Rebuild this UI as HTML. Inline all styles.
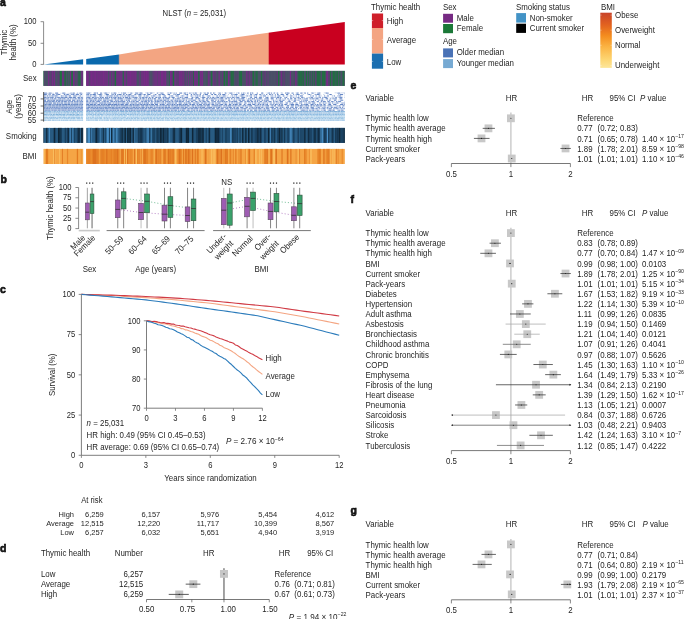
<!DOCTYPE html>
<html><head><meta charset="utf-8"><title>Thymic health figure</title>
<style>
html,body{margin:0;padding:0;background:#fff;}
body{width:685px;height:619px;overflow:hidden;}
svg{display:block;font-family:"Liberation Sans",sans-serif;fill:#1e1e1e;will-change:transform;}
text{fill:#1e1e1e;}
</style></head><body>
<svg width="685" height="619" viewBox="0 0 685 619">
<rect width="685" height="619" fill="#fff"/>
<text x="-0.1" y="5.5" font-size="10.5" font-weight="bold" fill="#000" stroke="#000" stroke-width="0.55" letter-spacing="0">a</text>
<text x="0.5" y="182.6" font-size="10.5" font-weight="bold" fill="#000" stroke="#000" stroke-width="0.55" letter-spacing="0">b</text>
<text x="0.1" y="293.3" font-size="10.5" font-weight="bold" fill="#000" stroke="#000" stroke-width="0.55" letter-spacing="0">c</text>
<text x="0.0" y="551.8" font-size="10.5" font-weight="bold" fill="#000" stroke="#000" stroke-width="0.55" letter-spacing="0">d</text>
<text x="350.5" y="88.8" font-size="10.5" font-weight="bold" fill="#000" stroke="#000" stroke-width="0.55" letter-spacing="0">e</text>
<text x="350.5" y="202.6" font-size="10.5" font-weight="bold" fill="#000" stroke="#000" stroke-width="0.55" letter-spacing="0">f</text>
<text x="350.4" y="514.0" font-size="10.5" font-weight="bold" fill="#000" stroke="#000" stroke-width="0.55" letter-spacing="0">g</text>
<polygon points="43.8,64.6 83.1,59.2 83.1,64.6" fill="#0a69ad"/>
<defs><linearGradient id="thg" gradientUnits="userSpaceOnUse" x1="86.2" y1="0" x2="344.8" y2="0"><stop offset="0" stop-color="#0a69ad"/><stop offset="0.1241" stop-color="#0a69ad"/><stop offset="0.1295" stop-color="#f3a582"/><stop offset="0.7034" stop-color="#f3a582"/><stop offset="0.7088" stop-color="#c9001f"/><stop offset="1" stop-color="#c9001f"/></linearGradient></defs>
<polygon points="86.2,64.6 86.2,58.9 95,57.8 119,54.5 140,50.98 344.8,22.0 344.8,64.6" fill="url(#thg)"/>
<line x1="43.60" y1="21.60" x2="43.60" y2="64.60" stroke="#6e6e6e" stroke-width="0.8" />
<line x1="40.60" y1="21.70" x2="43.60" y2="21.70" stroke="#6e6e6e" stroke-width="0.8" />
<text transform="translate(36.40,24.40) scale(0.93,1)" font-size="8.19" text-anchor="end" >100</text>
<line x1="40.60" y1="43.30" x2="43.60" y2="43.30" stroke="#6e6e6e" stroke-width="0.8" />
<text transform="translate(36.40,46.00) scale(0.93,1)" font-size="8.19" text-anchor="end" >50</text>
<line x1="40.60" y1="64.40" x2="43.60" y2="64.40" stroke="#6e6e6e" stroke-width="0.8" />
<text transform="translate(36.40,67.10) scale(0.93,1)" font-size="8.19" text-anchor="end" >0</text>
<text transform="translate(7.1,42.6) rotate(-90) scale(0.93,1)" font-size="8.51" text-anchor="middle">Thymic</text>
<text transform="translate(15.8,42.4) rotate(-90) scale(0.93,1)" font-size="8.51" text-anchor="middle">health (%)</text>
<text transform="translate(194.30,15.80) scale(0.93,1)" font-size="8.29" text-anchor="middle" >NLST (<tspan font-style="italic">n</tspan> = 25,031)</text>
<text transform="translate(36.60,81.40) scale(0.93,1)" font-size="8.51" text-anchor="end" >Sex</text>
<text transform="translate(12.0,106.8) rotate(-90) scale(0.93,1)" font-size="8.51" text-anchor="middle">Age</text>
<text transform="translate(20.7,106.4) rotate(-90) scale(0.93,1)" font-size="8.51" text-anchor="middle">(years)</text>
<text transform="translate(36.60,138.50) scale(0.93,1)" font-size="8.51" text-anchor="end" >Smoking</text>
<text transform="translate(36.60,159.40) scale(0.93,1)" font-size="8.51" text-anchor="end" >BMI</text>
<rect x="43.50" y="70.90" width="39.60" height="15.00" fill="#4b5068" />
<rect x="43.50" y="70.90" width="0.65" height="15.00" fill="#1f7040" />
<rect x="44.10" y="70.90" width="0.45" height="15.00" fill="#772a86" />
<rect x="44.50" y="70.90" width="1.05" height="15.00" fill="#4b5068" />
<rect x="45.50" y="70.90" width="1.05" height="15.00" fill="#4b5068" />
<rect x="46.50" y="70.90" width="0.45" height="15.00" fill="#4b5068" />
<rect x="46.90" y="70.90" width="1.25" height="15.00" fill="#4b5068" />
<rect x="48.10" y="70.90" width="1.05" height="15.00" fill="#772a86" />
<rect x="49.10" y="70.90" width="0.65" height="15.00" fill="#4b5068" />
<rect x="49.70" y="70.90" width="0.85" height="15.00" fill="#772a86" />
<rect x="50.50" y="70.90" width="0.45" height="15.00" fill="#4b5068" />
<rect x="50.90" y="70.90" width="1.05" height="15.00" fill="#5b3c72" />
<rect x="51.90" y="70.90" width="1.55" height="15.00" fill="#772a86" />
<rect x="53.40" y="70.90" width="0.65" height="15.00" fill="#5b3c72" />
<rect x="54.00" y="70.90" width="1.25" height="15.00" fill="#772a86" />
<rect x="55.20" y="70.90" width="0.65" height="15.00" fill="#4b5068" />
<rect x="55.80" y="70.90" width="0.85" height="15.00" fill="#4b5068" />
<rect x="56.60" y="70.90" width="1.25" height="15.00" fill="#4b5068" />
<rect x="57.80" y="70.90" width="1.55" height="15.00" fill="#5b3c72" />
<rect x="59.30" y="70.90" width="0.45" height="15.00" fill="#5b3c72" />
<rect x="59.70" y="70.90" width="1.55" height="15.00" fill="#1f7040" />
<rect x="61.20" y="70.90" width="1.05" height="15.00" fill="#1f7040" />
<rect x="62.20" y="70.90" width="1.55" height="15.00" fill="#772a86" />
<rect x="63.70" y="70.90" width="0.85" height="15.00" fill="#5b3c72" />
<rect x="64.50" y="70.90" width="1.25" height="15.00" fill="#1f7040" />
<rect x="65.70" y="70.90" width="0.45" height="15.00" fill="#1f7040" />
<rect x="66.10" y="70.90" width="1.55" height="15.00" fill="#4b5068" />
<rect x="67.60" y="70.90" width="0.65" height="15.00" fill="#1f7040" />
<rect x="68.20" y="70.90" width="1.55" height="15.00" fill="#4b5068" />
<rect x="69.70" y="70.90" width="0.45" height="15.00" fill="#1f7040" />
<rect x="70.10" y="70.90" width="1.25" height="15.00" fill="#772a86" />
<rect x="71.30" y="70.90" width="0.65" height="15.00" fill="#1f7040" />
<rect x="71.90" y="70.90" width="1.05" height="15.00" fill="#1f7040" />
<rect x="72.90" y="70.90" width="1.55" height="15.00" fill="#772a86" />
<rect x="74.40" y="70.90" width="0.45" height="15.00" fill="#772a86" />
<rect x="74.80" y="70.90" width="1.25" height="15.00" fill="#4b5068" />
<rect x="76.00" y="70.90" width="0.65" height="15.00" fill="#772a86" />
<rect x="76.60" y="70.90" width="0.65" height="15.00" fill="#4b5068" />
<rect x="77.20" y="70.90" width="1.25" height="15.00" fill="#4b5068" />
<rect x="78.40" y="70.90" width="1.05" height="15.00" fill="#1f7040" />
<rect x="79.40" y="70.90" width="1.25" height="15.00" fill="#1f7040" />
<rect x="80.60" y="70.90" width="0.85" height="15.00" fill="#4b5068" />
<rect x="81.40" y="70.90" width="1.55" height="15.00" fill="#772a86" />
<rect x="82.90" y="70.90" width="0.25" height="15.00" fill="#1f7040" />
<rect x="86.20" y="70.90" width="258.60" height="15.00" fill="#4b5068" />
<rect x="86.20" y="70.90" width="0.65" height="15.00" fill="#772a86" />
<rect x="86.80" y="70.90" width="1.25" height="15.00" fill="#772a86" />
<rect x="88.00" y="70.90" width="0.45" height="15.00" fill="#772a86" />
<rect x="88.40" y="70.90" width="0.85" height="15.00" fill="#772a86" />
<rect x="89.20" y="70.90" width="0.65" height="15.00" fill="#4b5068" />
<rect x="89.80" y="70.90" width="0.85" height="15.00" fill="#772a86" />
<rect x="90.60" y="70.90" width="0.45" height="15.00" fill="#772a86" />
<rect x="91.00" y="70.90" width="1.25" height="15.00" fill="#772a86" />
<rect x="92.20" y="70.90" width="0.85" height="15.00" fill="#772a86" />
<rect x="93.00" y="70.90" width="0.45" height="15.00" fill="#772a86" />
<rect x="93.40" y="70.90" width="1.55" height="15.00" fill="#772a86" />
<rect x="94.90" y="70.90" width="1.25" height="15.00" fill="#772a86" />
<rect x="96.10" y="70.90" width="0.45" height="15.00" fill="#772a86" />
<rect x="96.50" y="70.90" width="0.85" height="15.00" fill="#772a86" />
<rect x="97.30" y="70.90" width="1.55" height="15.00" fill="#772a86" />
<rect x="98.80" y="70.90" width="0.45" height="15.00" fill="#772a86" />
<rect x="99.20" y="70.90" width="0.85" height="15.00" fill="#772a86" />
<rect x="100.00" y="70.90" width="0.45" height="15.00" fill="#772a86" />
<rect x="100.40" y="70.90" width="0.65" height="15.00" fill="#772a86" />
<rect x="101.00" y="70.90" width="0.45" height="15.00" fill="#772a86" />
<rect x="101.40" y="70.90" width="0.85" height="15.00" fill="#772a86" />
<rect x="102.20" y="70.90" width="0.65" height="15.00" fill="#772a86" />
<rect x="102.80" y="70.90" width="1.55" height="15.00" fill="#772a86" />
<rect x="104.30" y="70.90" width="1.05" height="15.00" fill="#772a86" />
<rect x="105.30" y="70.90" width="1.05" height="15.00" fill="#772a86" />
<rect x="106.30" y="70.90" width="0.45" height="15.00" fill="#772a86" />
<rect x="106.70" y="70.90" width="0.85" height="15.00" fill="#772a86" />
<rect x="107.50" y="70.90" width="0.65" height="15.00" fill="#772a86" />
<rect x="108.10" y="70.90" width="0.85" height="15.00" fill="#4b5068" />
<rect x="108.90" y="70.90" width="0.65" height="15.00" fill="#4b5068" />
<rect x="109.50" y="70.90" width="0.45" height="15.00" fill="#772a86" />
<rect x="109.90" y="70.90" width="1.05" height="15.00" fill="#772a86" />
<rect x="110.90" y="70.90" width="1.55" height="15.00" fill="#4b5068" />
<rect x="112.40" y="70.90" width="1.25" height="15.00" fill="#772a86" />
<rect x="113.60" y="70.90" width="1.25" height="15.00" fill="#5b3c72" />
<rect x="114.80" y="70.90" width="1.55" height="15.00" fill="#1f7040" />
<rect x="116.30" y="70.90" width="1.25" height="15.00" fill="#772a86" />
<rect x="117.50" y="70.90" width="1.25" height="15.00" fill="#772a86" />
<rect x="118.70" y="70.90" width="1.05" height="15.00" fill="#772a86" />
<rect x="119.70" y="70.90" width="0.85" height="15.00" fill="#772a86" />
<rect x="120.50" y="70.90" width="1.05" height="15.00" fill="#772a86" />
<rect x="121.50" y="70.90" width="0.85" height="15.00" fill="#772a86" />
<rect x="122.30" y="70.90" width="0.65" height="15.00" fill="#4b5068" />
<rect x="122.90" y="70.90" width="0.45" height="15.00" fill="#772a86" />
<rect x="123.30" y="70.90" width="0.85" height="15.00" fill="#1f7040" />
<rect x="124.10" y="70.90" width="1.05" height="15.00" fill="#772a86" />
<rect x="125.10" y="70.90" width="0.65" height="15.00" fill="#772a86" />
<rect x="125.70" y="70.90" width="0.45" height="15.00" fill="#772a86" />
<rect x="126.10" y="70.90" width="0.65" height="15.00" fill="#4b5068" />
<rect x="126.70" y="70.90" width="0.65" height="15.00" fill="#5b3c72" />
<rect x="127.30" y="70.90" width="1.55" height="15.00" fill="#772a86" />
<rect x="128.80" y="70.90" width="0.45" height="15.00" fill="#772a86" />
<rect x="129.20" y="70.90" width="0.85" height="15.00" fill="#772a86" />
<rect x="130.00" y="70.90" width="1.25" height="15.00" fill="#772a86" />
<rect x="131.20" y="70.90" width="1.05" height="15.00" fill="#772a86" />
<rect x="132.20" y="70.90" width="1.05" height="15.00" fill="#772a86" />
<rect x="133.20" y="70.90" width="1.55" height="15.00" fill="#772a86" />
<rect x="134.70" y="70.90" width="1.25" height="15.00" fill="#772a86" />
<rect x="135.90" y="70.90" width="0.85" height="15.00" fill="#772a86" />
<rect x="136.70" y="70.90" width="1.05" height="15.00" fill="#4b5068" />
<rect x="137.70" y="70.90" width="0.65" height="15.00" fill="#4b5068" />
<rect x="138.30" y="70.90" width="1.25" height="15.00" fill="#4b5068" />
<rect x="139.50" y="70.90" width="0.65" height="15.00" fill="#772a86" />
<rect x="140.10" y="70.90" width="0.45" height="15.00" fill="#5b3c72" />
<rect x="140.50" y="70.90" width="0.85" height="15.00" fill="#4b5068" />
<rect x="141.30" y="70.90" width="1.25" height="15.00" fill="#772a86" />
<rect x="142.50" y="70.90" width="1.25" height="15.00" fill="#772a86" />
<rect x="143.70" y="70.90" width="1.55" height="15.00" fill="#772a86" />
<rect x="145.20" y="70.90" width="0.65" height="15.00" fill="#772a86" />
<rect x="145.80" y="70.90" width="1.25" height="15.00" fill="#772a86" />
<rect x="147.00" y="70.90" width="0.85" height="15.00" fill="#772a86" />
<rect x="147.80" y="70.90" width="0.85" height="15.00" fill="#772a86" />
<rect x="148.60" y="70.90" width="0.85" height="15.00" fill="#772a86" />
<rect x="149.40" y="70.90" width="0.65" height="15.00" fill="#4b5068" />
<rect x="150.00" y="70.90" width="1.55" height="15.00" fill="#4b5068" />
<rect x="151.50" y="70.90" width="1.25" height="15.00" fill="#4b5068" />
<rect x="152.70" y="70.90" width="1.05" height="15.00" fill="#772a86" />
<rect x="153.70" y="70.90" width="0.65" height="15.00" fill="#4b5068" />
<rect x="154.30" y="70.90" width="1.25" height="15.00" fill="#772a86" />
<rect x="155.50" y="70.90" width="1.05" height="15.00" fill="#772a86" />
<rect x="156.50" y="70.90" width="1.25" height="15.00" fill="#772a86" />
<rect x="157.70" y="70.90" width="0.45" height="15.00" fill="#4b5068" />
<rect x="158.10" y="70.90" width="0.85" height="15.00" fill="#772a86" />
<rect x="158.90" y="70.90" width="0.45" height="15.00" fill="#772a86" />
<rect x="159.30" y="70.90" width="0.85" height="15.00" fill="#772a86" />
<rect x="160.10" y="70.90" width="0.45" height="15.00" fill="#4b5068" />
<rect x="160.50" y="70.90" width="1.55" height="15.00" fill="#772a86" />
<rect x="162.00" y="70.90" width="1.05" height="15.00" fill="#772a86" />
<rect x="163.00" y="70.90" width="0.45" height="15.00" fill="#772a86" />
<rect x="163.40" y="70.90" width="1.25" height="15.00" fill="#772a86" />
<rect x="164.60" y="70.90" width="0.45" height="15.00" fill="#772a86" />
<rect x="165.00" y="70.90" width="1.55" height="15.00" fill="#772a86" />
<rect x="166.50" y="70.90" width="1.55" height="15.00" fill="#4b5068" />
<rect x="168.00" y="70.90" width="1.05" height="15.00" fill="#4b5068" />
<rect x="169.00" y="70.90" width="0.85" height="15.00" fill="#1f7040" />
<rect x="169.80" y="70.90" width="1.55" height="15.00" fill="#772a86" />
<rect x="171.30" y="70.90" width="0.45" height="15.00" fill="#772a86" />
<rect x="171.70" y="70.90" width="0.85" height="15.00" fill="#772a86" />
<rect x="172.50" y="70.90" width="0.45" height="15.00" fill="#5b3c72" />
<rect x="172.90" y="70.90" width="1.55" height="15.00" fill="#1f7040" />
<rect x="174.40" y="70.90" width="1.05" height="15.00" fill="#772a86" />
<rect x="175.40" y="70.90" width="1.05" height="15.00" fill="#772a86" />
<rect x="176.40" y="70.90" width="0.85" height="15.00" fill="#5b3c72" />
<rect x="177.20" y="70.90" width="0.45" height="15.00" fill="#772a86" />
<rect x="177.60" y="70.90" width="1.25" height="15.00" fill="#5b3c72" />
<rect x="178.80" y="70.90" width="1.55" height="15.00" fill="#772a86" />
<rect x="180.30" y="70.90" width="0.85" height="15.00" fill="#772a86" />
<rect x="181.10" y="70.90" width="1.25" height="15.00" fill="#772a86" />
<rect x="182.30" y="70.90" width="0.65" height="15.00" fill="#772a86" />
<rect x="182.90" y="70.90" width="0.45" height="15.00" fill="#4b5068" />
<rect x="183.30" y="70.90" width="1.05" height="15.00" fill="#772a86" />
<rect x="184.30" y="70.90" width="1.25" height="15.00" fill="#5b3c72" />
<rect x="185.50" y="70.90" width="1.05" height="15.00" fill="#4b5068" />
<rect x="186.50" y="70.90" width="0.65" height="15.00" fill="#772a86" />
<rect x="187.10" y="70.90" width="1.25" height="15.00" fill="#4b5068" />
<rect x="188.30" y="70.90" width="0.85" height="15.00" fill="#772a86" />
<rect x="189.10" y="70.90" width="1.25" height="15.00" fill="#4b5068" />
<rect x="190.30" y="70.90" width="0.65" height="15.00" fill="#772a86" />
<rect x="190.90" y="70.90" width="0.65" height="15.00" fill="#772a86" />
<rect x="191.50" y="70.90" width="0.85" height="15.00" fill="#4b5068" />
<rect x="192.30" y="70.90" width="0.45" height="15.00" fill="#772a86" />
<rect x="192.70" y="70.90" width="0.45" height="15.00" fill="#772a86" />
<rect x="193.10" y="70.90" width="0.85" height="15.00" fill="#1f7040" />
<rect x="193.90" y="70.90" width="0.65" height="15.00" fill="#772a86" />
<rect x="194.50" y="70.90" width="0.85" height="15.00" fill="#772a86" />
<rect x="195.30" y="70.90" width="1.55" height="15.00" fill="#772a86" />
<rect x="196.80" y="70.90" width="0.65" height="15.00" fill="#4b5068" />
<rect x="197.40" y="70.90" width="0.85" height="15.00" fill="#772a86" />
<rect x="198.20" y="70.90" width="1.55" height="15.00" fill="#1f7040" />
<rect x="199.70" y="70.90" width="1.25" height="15.00" fill="#772a86" />
<rect x="200.90" y="70.90" width="0.65" height="15.00" fill="#772a86" />
<rect x="201.50" y="70.90" width="1.55" height="15.00" fill="#772a86" />
<rect x="203.00" y="70.90" width="0.85" height="15.00" fill="#4b5068" />
<rect x="203.80" y="70.90" width="1.55" height="15.00" fill="#4b5068" />
<rect x="205.30" y="70.90" width="1.55" height="15.00" fill="#4b5068" />
<rect x="206.80" y="70.90" width="0.85" height="15.00" fill="#1f7040" />
<rect x="207.60" y="70.90" width="0.65" height="15.00" fill="#772a86" />
<rect x="208.20" y="70.90" width="1.55" height="15.00" fill="#772a86" />
<rect x="209.70" y="70.90" width="0.45" height="15.00" fill="#4b5068" />
<rect x="210.10" y="70.90" width="1.05" height="15.00" fill="#4b5068" />
<rect x="211.10" y="70.90" width="1.25" height="15.00" fill="#1f7040" />
<rect x="212.30" y="70.90" width="1.05" height="15.00" fill="#4b5068" />
<rect x="213.30" y="70.90" width="1.05" height="15.00" fill="#772a86" />
<rect x="214.30" y="70.90" width="1.55" height="15.00" fill="#5b3c72" />
<rect x="215.80" y="70.90" width="0.45" height="15.00" fill="#772a86" />
<rect x="216.20" y="70.90" width="0.85" height="15.00" fill="#4b5068" />
<rect x="217.00" y="70.90" width="0.65" height="15.00" fill="#772a86" />
<rect x="217.60" y="70.90" width="0.85" height="15.00" fill="#1f7040" />
<rect x="218.40" y="70.90" width="1.05" height="15.00" fill="#772a86" />
<rect x="219.40" y="70.90" width="0.45" height="15.00" fill="#772a86" />
<rect x="219.80" y="70.90" width="0.45" height="15.00" fill="#772a86" />
<rect x="220.20" y="70.90" width="0.85" height="15.00" fill="#4b5068" />
<rect x="221.00" y="70.90" width="1.05" height="15.00" fill="#4b5068" />
<rect x="222.00" y="70.90" width="0.65" height="15.00" fill="#772a86" />
<rect x="222.60" y="70.90" width="1.05" height="15.00" fill="#5b3c72" />
<rect x="223.60" y="70.90" width="1.55" height="15.00" fill="#1f7040" />
<rect x="225.10" y="70.90" width="1.25" height="15.00" fill="#4b5068" />
<rect x="226.30" y="70.90" width="1.55" height="15.00" fill="#1f7040" />
<rect x="227.80" y="70.90" width="1.55" height="15.00" fill="#772a86" />
<rect x="229.30" y="70.90" width="0.45" height="15.00" fill="#4b5068" />
<rect x="229.70" y="70.90" width="0.85" height="15.00" fill="#772a86" />
<rect x="230.50" y="70.90" width="0.65" height="15.00" fill="#1f7040" />
<rect x="231.10" y="70.90" width="1.55" height="15.00" fill="#1f7040" />
<rect x="232.60" y="70.90" width="1.25" height="15.00" fill="#1f7040" />
<rect x="233.80" y="70.90" width="1.55" height="15.00" fill="#4b5068" />
<rect x="235.30" y="70.90" width="0.45" height="15.00" fill="#5b3c72" />
<rect x="235.70" y="70.90" width="1.25" height="15.00" fill="#4b5068" />
<rect x="236.90" y="70.90" width="0.85" height="15.00" fill="#5b3c72" />
<rect x="237.70" y="70.90" width="1.55" height="15.00" fill="#4b5068" />
<rect x="239.20" y="70.90" width="1.55" height="15.00" fill="#1f7040" />
<rect x="240.70" y="70.90" width="1.55" height="15.00" fill="#1f7040" />
<rect x="242.20" y="70.90" width="1.25" height="15.00" fill="#4b5068" />
<rect x="243.40" y="70.90" width="0.45" height="15.00" fill="#4b5068" />
<rect x="243.80" y="70.90" width="0.85" height="15.00" fill="#4b5068" />
<rect x="244.60" y="70.90" width="0.45" height="15.00" fill="#4b5068" />
<rect x="245.00" y="70.90" width="1.25" height="15.00" fill="#4b5068" />
<rect x="246.20" y="70.90" width="1.55" height="15.00" fill="#772a86" />
<rect x="247.70" y="70.90" width="0.65" height="15.00" fill="#4b5068" />
<rect x="248.30" y="70.90" width="1.05" height="15.00" fill="#5b3c72" />
<rect x="249.30" y="70.90" width="1.05" height="15.00" fill="#772a86" />
<rect x="250.30" y="70.90" width="1.05" height="15.00" fill="#4b5068" />
<rect x="251.30" y="70.90" width="1.25" height="15.00" fill="#5b3c72" />
<rect x="252.50" y="70.90" width="1.55" height="15.00" fill="#1f7040" />
<rect x="254.00" y="70.90" width="0.65" height="15.00" fill="#4b5068" />
<rect x="254.60" y="70.90" width="0.65" height="15.00" fill="#4b5068" />
<rect x="255.20" y="70.90" width="0.45" height="15.00" fill="#4b5068" />
<rect x="255.60" y="70.90" width="0.85" height="15.00" fill="#1f7040" />
<rect x="256.40" y="70.90" width="0.85" height="15.00" fill="#1f7040" />
<rect x="257.20" y="70.90" width="0.65" height="15.00" fill="#1f7040" />
<rect x="257.80" y="70.90" width="1.25" height="15.00" fill="#4b5068" />
<rect x="259.00" y="70.90" width="1.05" height="15.00" fill="#4b5068" />
<rect x="260.00" y="70.90" width="0.65" height="15.00" fill="#4b5068" />
<rect x="260.60" y="70.90" width="0.45" height="15.00" fill="#4b5068" />
<rect x="261.00" y="70.90" width="1.05" height="15.00" fill="#1f7040" />
<rect x="262.00" y="70.90" width="0.45" height="15.00" fill="#4b5068" />
<rect x="262.40" y="70.90" width="1.25" height="15.00" fill="#4b5068" />
<rect x="263.60" y="70.90" width="1.55" height="15.00" fill="#5b3c72" />
<rect x="265.10" y="70.90" width="0.65" height="15.00" fill="#772a86" />
<rect x="265.70" y="70.90" width="0.85" height="15.00" fill="#4b5068" />
<rect x="266.50" y="70.90" width="1.25" height="15.00" fill="#4b5068" />
<rect x="267.70" y="70.90" width="0.85" height="15.00" fill="#772a86" />
<rect x="268.50" y="70.90" width="1.05" height="15.00" fill="#4b5068" />
<rect x="269.50" y="70.90" width="1.25" height="15.00" fill="#4b5068" />
<rect x="270.70" y="70.90" width="1.55" height="15.00" fill="#4b5068" />
<rect x="272.20" y="70.90" width="1.05" height="15.00" fill="#4b5068" />
<rect x="273.20" y="70.90" width="0.85" height="15.00" fill="#4b5068" />
<rect x="274.00" y="70.90" width="1.55" height="15.00" fill="#4b5068" />
<rect x="275.50" y="70.90" width="1.05" height="15.00" fill="#4b5068" />
<rect x="276.50" y="70.90" width="1.55" height="15.00" fill="#5b3c72" />
<rect x="278.00" y="70.90" width="1.55" height="15.00" fill="#1f7040" />
<rect x="279.50" y="70.90" width="1.25" height="15.00" fill="#4b5068" />
<rect x="280.70" y="70.90" width="1.25" height="15.00" fill="#772a86" />
<rect x="281.90" y="70.90" width="1.05" height="15.00" fill="#5b3c72" />
<rect x="282.90" y="70.90" width="0.85" height="15.00" fill="#4b5068" />
<rect x="283.70" y="70.90" width="1.55" height="15.00" fill="#5b3c72" />
<rect x="285.20" y="70.90" width="0.45" height="15.00" fill="#4b5068" />
<rect x="285.60" y="70.90" width="1.55" height="15.00" fill="#4b5068" />
<rect x="287.10" y="70.90" width="0.45" height="15.00" fill="#4b5068" />
<rect x="287.50" y="70.90" width="1.55" height="15.00" fill="#4b5068" />
<rect x="289.00" y="70.90" width="0.85" height="15.00" fill="#4b5068" />
<rect x="289.80" y="70.90" width="1.25" height="15.00" fill="#772a86" />
<rect x="291.00" y="70.90" width="0.85" height="15.00" fill="#4b5068" />
<rect x="291.80" y="70.90" width="1.55" height="15.00" fill="#4b5068" />
<rect x="293.30" y="70.90" width="0.85" height="15.00" fill="#4b5068" />
<rect x="294.10" y="70.90" width="0.45" height="15.00" fill="#1f7040" />
<rect x="294.50" y="70.90" width="0.45" height="15.00" fill="#4b5068" />
<rect x="294.90" y="70.90" width="0.85" height="15.00" fill="#772a86" />
<rect x="295.70" y="70.90" width="1.05" height="15.00" fill="#772a86" />
<rect x="296.70" y="70.90" width="1.25" height="15.00" fill="#4b5068" />
<rect x="297.90" y="70.90" width="0.45" height="15.00" fill="#1f7040" />
<rect x="298.30" y="70.90" width="1.55" height="15.00" fill="#1f7040" />
<rect x="299.80" y="70.90" width="0.85" height="15.00" fill="#1f7040" />
<rect x="300.60" y="70.90" width="0.65" height="15.00" fill="#1f7040" />
<rect x="301.20" y="70.90" width="0.85" height="15.00" fill="#1f7040" />
<rect x="302.00" y="70.90" width="0.45" height="15.00" fill="#5b3c72" />
<rect x="302.40" y="70.90" width="1.55" height="15.00" fill="#1f7040" />
<rect x="303.90" y="70.90" width="1.25" height="15.00" fill="#4b5068" />
<rect x="305.10" y="70.90" width="0.85" height="15.00" fill="#4b5068" />
<rect x="305.90" y="70.90" width="1.25" height="15.00" fill="#1f7040" />
<rect x="307.10" y="70.90" width="1.25" height="15.00" fill="#4b5068" />
<rect x="308.30" y="70.90" width="1.05" height="15.00" fill="#1f7040" />
<rect x="309.30" y="70.90" width="0.85" height="15.00" fill="#4b5068" />
<rect x="310.10" y="70.90" width="0.65" height="15.00" fill="#1f7040" />
<rect x="310.70" y="70.90" width="1.25" height="15.00" fill="#4b5068" />
<rect x="311.90" y="70.90" width="0.45" height="15.00" fill="#5b3c72" />
<rect x="312.30" y="70.90" width="1.05" height="15.00" fill="#1f7040" />
<rect x="313.30" y="70.90" width="1.05" height="15.00" fill="#4b5068" />
<rect x="314.30" y="70.90" width="0.85" height="15.00" fill="#1f7040" />
<rect x="315.10" y="70.90" width="1.55" height="15.00" fill="#5b3c72" />
<rect x="316.60" y="70.90" width="1.25" height="15.00" fill="#1f7040" />
<rect x="317.80" y="70.90" width="1.55" height="15.00" fill="#1f7040" />
<rect x="319.30" y="70.90" width="0.85" height="15.00" fill="#1f7040" />
<rect x="320.10" y="70.90" width="0.65" height="15.00" fill="#1f7040" />
<rect x="320.70" y="70.90" width="0.65" height="15.00" fill="#4b5068" />
<rect x="321.30" y="70.90" width="0.85" height="15.00" fill="#4b5068" />
<rect x="322.10" y="70.90" width="1.55" height="15.00" fill="#1f7040" />
<rect x="323.60" y="70.90" width="1.55" height="15.00" fill="#1f7040" />
<rect x="325.10" y="70.90" width="0.45" height="15.00" fill="#1f7040" />
<rect x="325.50" y="70.90" width="0.85" height="15.00" fill="#4b5068" />
<rect x="326.30" y="70.90" width="0.65" height="15.00" fill="#772a86" />
<rect x="326.90" y="70.90" width="1.25" height="15.00" fill="#772a86" />
<rect x="328.10" y="70.90" width="0.65" height="15.00" fill="#4b5068" />
<rect x="328.70" y="70.90" width="1.25" height="15.00" fill="#5b3c72" />
<rect x="329.90" y="70.90" width="1.25" height="15.00" fill="#1f7040" />
<rect x="331.10" y="70.90" width="1.55" height="15.00" fill="#4b5068" />
<rect x="332.60" y="70.90" width="1.55" height="15.00" fill="#1f7040" />
<rect x="334.10" y="70.90" width="0.65" height="15.00" fill="#1f7040" />
<rect x="334.70" y="70.90" width="1.05" height="15.00" fill="#1f7040" />
<rect x="335.70" y="70.90" width="0.65" height="15.00" fill="#4b5068" />
<rect x="336.30" y="70.90" width="0.85" height="15.00" fill="#1f7040" />
<rect x="337.10" y="70.90" width="1.25" height="15.00" fill="#1f7040" />
<rect x="338.30" y="70.90" width="1.05" height="15.00" fill="#4b5068" />
<rect x="339.30" y="70.90" width="1.25" height="15.00" fill="#1f7040" />
<rect x="340.50" y="70.90" width="0.65" height="15.00" fill="#4b5068" />
<rect x="341.10" y="70.90" width="0.45" height="15.00" fill="#4b5068" />
<rect x="341.50" y="70.90" width="1.05" height="15.00" fill="#4b5068" />
<rect x="342.50" y="70.90" width="0.65" height="15.00" fill="#1f7040" />
<rect x="343.10" y="70.90" width="1.55" height="15.00" fill="#1f7040" />
<rect x="344.60" y="70.90" width="0.25" height="15.00" fill="#772a86" />
<line x1="43.80" y1="120.10" x2="83.10" y2="120.10" stroke="#8dbce1" stroke-opacity="1.0" stroke-width="1.0" stroke-dasharray="2.20 0.34 1.20 0.40 3.00 0.85 2.20 0.25 1.60 0.51 0.80 0.25 0.80 0.25 1.60 0.55 1.60 0.38 2.20 0.32 3.00 0.40 1.20 0.25 1.60 0.25 0.50 0.25 2.20 0.44 0.80 0.25 0.50 0.25 0.80 0.29 0.80 0.26 1.20 0.25 0.80 0.25 3.00 0.76 0.80 0.27 3.00 0.37"/>
<line x1="43.80" y1="120.35" x2="83.10" y2="120.35" stroke="#7db0da" stroke-opacity="0.7" stroke-width="0.5" stroke-dasharray="1.60 0.27 1.20 0.25 0.80 0.25 1.20 0.25 2.20 0.57 2.20 0.63 1.20 0.25 1.20 0.39 1.60 0.46 0.80 0.25 3.00 0.37 1.20 0.45 0.50 0.25 1.20 0.39 0.50 0.25 1.60 0.29 2.20 0.71 1.60 0.25 0.80 0.25 0.80 0.25 0.80 0.28 1.60 0.27 1.20 0.40 1.20 0.36 0.50 0.25 1.20 0.38 0.50 0.25 0.50 0.25"/>
<line x1="86.20" y1="120.10" x2="344.80" y2="120.10" stroke="#8dbce1" stroke-opacity="1.0" stroke-width="1.0" stroke-dasharray="1.20 0.25 3.00 0.67 1.20 0.32 1.20 0.25 0.50 0.25 3.00 0.79 1.60 0.25 0.50 0.25 2.20 0.47 1.60 0.25 3.00 0.68 1.20 0.25 1.60 0.25 3.00 0.25 1.60 0.25 0.80 0.25 3.00 0.64 0.80 0.25 1.60 0.25 1.60 0.25 0.50 0.25 1.20 0.25 2.20 0.62 2.20 0.39 1.60 0.38 1.20 0.25 1.20 0.25 0.80 0.25 2.20 0.66 3.00 0.88 1.20 0.25 1.60 0.25 2.20 0.59 1.20 0.25 1.20 0.27 3.00 0.25 1.20 0.25 3.00 0.64 1.60 0.25 3.00 0.67 1.20 0.25 2.20 0.55 1.60 0.28 1.20 0.25 1.20 0.25 2.20 0.44 1.20 0.25 3.00 0.38 1.60 0.25 0.80 0.25 3.00 0.44 1.20 0.31 2.20 0.25 0.80 0.25 1.20 0.30 1.60 0.25 0.50 0.25 3.00 0.41 2.20 0.47 2.20 0.34 1.60 0.25 2.20 0.45 3.00 0.30 0.50 0.25 2.20 0.29 3.00 0.25 3.00 0.25 3.00 0.25 1.60 0.37 0.80 0.25 0.80 0.25 0.80 0.25 2.20 0.25 1.60 0.25 3.00 0.47 2.20 0.25 3.00 0.62 0.50 0.25 1.20 0.25 0.50 0.25 2.20 0.25 0.50 0.25 1.20 0.25 2.20 0.29 2.20 0.25 1.20 0.25 1.60 0.25 2.20 0.33 1.20 0.25 0.80 0.25 2.20 0.26 0.80 0.25 2.20 0.25 3.00 0.25 0.50 0.25 2.20 0.27 1.20 0.25 2.20 0.25 1.60 0.30 1.60 0.25 3.00 0.28 0.80 0.25 1.20 0.25 1.20 0.25 1.60 0.25 1.20 0.25 1.20 0.25 0.50 0.25 2.20 0.39 0.80 0.25 0.80 0.25 0.50 0.25 2.20 0.25 1.60 0.25 0.80 0.25 0.80 0.25 1.20 0.25 2.20 0.38 2.20 0.26 2.20 0.33 0.50 0.25 0.80 0.25 2.20 0.28 2.20 0.25 2.20 0.25 1.20 0.25 3.00 0.40 0.80 0.25 1.20 0.25 3.00 0.43 3.00 0.28 0.50 0.25 1.60 0.25"/>
<line x1="86.20" y1="120.21" x2="344.80" y2="120.21" stroke="#7db0da" stroke-opacity="0.7" stroke-width="0.5" stroke-dasharray="3.00 0.82 3.00 0.76 1.60 0.32 3.00 0.93 0.80 0.26 1.60 0.48 0.50 0.25 0.50 0.25 1.60 0.36 3.00 0.84 1.20 0.25 1.60 0.40 1.60 0.53 2.20 0.25 2.20 0.45 0.50 0.25 0.80 0.25 0.50 0.25 3.00 0.94 1.20 0.30 0.50 0.25 3.00 0.56 0.50 0.25 0.80 0.25 0.50 0.25 0.80 0.25 3.00 0.88 0.80 0.25 0.80 0.25 0.80 0.25 0.80 0.25 0.50 0.25 3.00 0.25 0.50 0.25 0.50 0.25 2.20 0.25 1.60 0.25 3.00 0.60 1.60 0.25 3.00 0.43 0.50 0.25 1.20 0.25 3.00 0.64 1.20 0.32 2.20 0.40 0.80 0.25 2.20 0.25 1.20 0.25 0.80 0.25 1.20 0.25 1.60 0.25 3.00 0.25 1.20 0.25 3.00 0.25 0.50 0.25 1.60 0.25 1.60 0.25 1.20 0.25 2.20 0.25 3.00 0.39 0.80 0.25 1.60 0.31 0.80 0.25 0.50 0.25 3.00 0.45 0.80 0.25 2.20 0.27 0.80 0.25 2.20 0.42 1.60 0.25 3.00 0.64 3.00 0.31 3.00 0.39 1.20 0.25 2.20 0.52 0.80 0.25 1.60 0.25 0.50 0.25 0.80 0.25 1.60 0.34 1.60 0.27 1.20 0.25 1.60 0.25 2.20 0.47 1.20 0.25 0.50 0.25 3.00 0.25 1.20 0.25 1.60 0.25 1.20 0.25 0.80 0.25 3.00 0.25 1.60 0.31 1.20 0.25 1.20 0.25 0.50 0.25 3.00 0.35 0.80 0.25 3.00 0.27 1.60 0.25 3.00 0.60 0.50 0.25 0.50 0.25 3.00 0.25 1.60 0.29 3.00 0.28 1.20 0.25 1.20 0.25 3.00 0.56 1.60 0.25 0.80 0.25 0.80 0.25 3.00 0.37 3.00 0.53 0.50 0.25 1.60 0.25 1.60 0.25 0.50 0.25 2.20 0.25 0.50 0.25 0.80 0.25 1.60 0.25 1.60 0.25 0.80 0.25 1.60 0.25 0.50 0.25 1.60 0.25 3.00 0.25 0.50 0.25 0.80 0.25 2.20 0.25 0.80 0.25 0.50 0.25 0.50 0.25 0.80 0.25 3.00 0.25 0.50 0.25 1.20 0.25 2.20 0.27 2.20 0.25 3.00 0.25"/>
<line x1="43.80" y1="118.68" x2="83.10" y2="118.68" stroke="#8dbce1" stroke-opacity="1.0" stroke-width="1.0" stroke-dasharray="0.80 0.25 0.80 0.25 0.50 0.25 1.20 0.40 1.20 0.25 2.20 0.25 0.80 0.25 1.60 0.61 3.00 0.44 0.50 0.25 0.80 0.25 0.80 0.26 1.20 0.42 0.50 0.25 1.20 0.25 2.20 0.25 1.20 0.32 0.80 0.25 1.60 0.25 3.00 0.80 0.50 0.25 3.00 0.58 0.50 0.25 1.60 0.37 1.20 0.25 0.80 0.25 1.60 0.42 1.20 0.25"/>
<line x1="43.80" y1="118.46" x2="83.10" y2="118.46" stroke="#a3cbe9" stroke-opacity="0.7" stroke-width="0.5" stroke-dasharray="2.20 0.71 2.20 0.25 0.50 0.25 0.80 0.27 1.60 0.55 2.20 0.25 2.20 0.45 1.20 0.25 1.20 0.25 2.20 0.58 0.80 0.25 0.50 0.25 2.20 0.26 3.00 0.33 1.60 0.50 0.50 0.25 1.60 0.55 1.60 0.39 0.80 0.25 3.00 1.04 2.20 0.45 1.60 0.38"/>
<line x1="86.20" y1="118.68" x2="344.80" y2="118.68" stroke="#8dbce1" stroke-opacity="1.0" stroke-width="1.0" stroke-dasharray="1.60 0.43 0.80 0.28 0.50 0.25 0.80 0.25 1.20 0.25 0.80 0.25 0.80 0.25 2.20 0.36 0.80 0.25 0.80 0.25 3.00 0.91 0.50 0.25 1.60 0.26 0.80 0.25 1.60 0.27 0.50 0.25 0.50 0.25 1.20 0.37 0.80 0.25 1.20 0.25 1.60 0.48 2.20 0.25 0.80 0.25 0.50 0.25 2.20 0.48 0.80 0.25 0.50 0.25 0.50 0.25 2.20 0.35 1.60 0.32 3.00 0.49 2.20 0.66 3.00 0.60 0.50 0.25 1.60 0.25 2.20 0.25 2.20 0.25 1.20 0.25 0.50 0.25 2.20 0.44 3.00 0.47 0.50 0.25 3.00 0.33 0.50 0.25 3.00 0.86 1.20 0.32 3.00 0.73 3.00 0.58 2.20 0.25 2.20 0.25 0.50 0.25 2.20 0.32 0.50 0.25 1.60 0.25 3.00 0.51 0.80 0.25 2.20 0.26 1.20 0.25 3.00 0.73 3.00 0.61 1.20 0.25 0.50 0.25 1.20 0.26 2.20 0.25 0.80 0.25 1.60 0.33 0.80 0.25 2.20 0.36 3.00 0.68 3.00 0.38 0.80 0.25 2.20 0.36 0.80 0.25 1.20 0.25 1.20 0.25 0.50 0.25 1.20 0.25 2.20 0.34 1.60 0.25 2.20 0.25 3.00 0.31 0.50 0.25 1.60 0.25 2.20 0.49 1.20 0.25 1.60 0.26 0.80 0.25 2.20 0.43 1.60 0.31 0.50 0.25 0.80 0.25 1.20 0.25 2.20 0.38 2.20 0.38 3.00 0.28 0.80 0.25 2.20 0.45 3.00 0.56 0.50 0.25 0.50 0.25 1.20 0.25 1.60 0.30 3.00 0.49 0.80 0.25 2.20 0.25 0.50 0.25 2.20 0.42 0.80 0.25 1.60 0.25 1.20 0.25 0.50 0.25 3.00 0.43 0.50 0.25 1.60 0.30 3.00 0.25 1.20 0.25 1.20 0.25 3.00 0.41 0.50 0.25 1.20 0.25 0.50 0.25 0.50 0.25 0.80 0.25 3.00 0.25 1.20 0.25 2.20 0.25 0.80 0.25 1.60 0.25 0.80 0.25 1.20 0.25 0.50 0.25 0.80 0.25 0.50 0.25 2.20 0.25 1.60 0.25 0.50 0.25 0.80 0.25 1.60 0.25 2.20 0.25 1.20 0.25 3.00 0.26 0.50 0.25 1.60 0.25 2.20 0.25 2.20 0.31"/>
<line x1="86.20" y1="118.84" x2="344.80" y2="118.84" stroke="#a3cbe9" stroke-opacity="0.7" stroke-width="0.5" stroke-dasharray="3.00 0.76 3.00 0.71 0.80 0.25 3.00 0.55 1.60 0.52 1.60 0.25 0.80 0.25 0.80 0.25 0.80 0.25 0.50 0.25 0.80 0.25 0.80 0.25 1.60 0.26 0.50 0.25 0.50 0.25 1.60 0.25 3.00 0.49 1.60 0.48 0.80 0.25 3.00 0.85 1.20 0.26 0.80 0.25 0.50 0.25 2.20 0.25 0.80 0.25 0.50 0.25 3.00 0.46 0.80 0.25 2.20 0.64 3.00 0.60 1.20 0.25 3.00 0.47 1.20 0.25 1.60 0.31 1.60 0.47 0.80 0.25 0.80 0.25 2.20 0.25 1.60 0.25 1.60 0.34 0.50 0.25 0.80 0.25 2.20 0.49 0.80 0.25 0.50 0.25 0.80 0.25 1.60 0.42 0.50 0.25 1.60 0.25 3.00 0.25 1.20 0.25 1.20 0.26 2.20 0.59 1.60 0.25 0.80 0.25 3.00 0.25 1.60 0.25 0.80 0.25 1.60 0.25 2.20 0.25 2.20 0.28 1.60 0.25 1.20 0.25 0.50 0.25 0.80 0.25 0.50 0.25 0.50 0.25 0.80 0.25 1.20 0.25 1.20 0.25 0.80 0.25 1.20 0.25 0.50 0.25 1.60 0.25 0.80 0.25 2.20 0.50 1.60 0.37 0.80 0.25 2.20 0.25 3.00 0.34 0.50 0.25 0.50 0.25 2.20 0.31 3.00 0.25 2.20 0.27 1.60 0.29 2.20 0.28 2.20 0.25 3.00 0.25 0.50 0.25 2.20 0.25 0.50 0.25 1.20 0.25 2.20 0.38 0.50 0.25 3.00 0.57 0.50 0.25 1.20 0.25 1.20 0.25 1.20 0.25 1.60 0.25 0.80 0.25 1.20 0.25 2.20 0.25 0.50 0.25 0.50 0.25 1.60 0.25 3.00 0.31 0.80 0.25 1.60 0.25 2.20 0.25 2.20 0.25 0.50 0.25 1.20 0.25 2.20 0.26 0.80 0.25 3.00 0.25 2.20 0.34 1.20 0.25 0.50 0.25 1.60 0.25 2.20 0.25 3.00 0.42 0.50 0.25 0.50 0.25 0.50 0.25 0.50 0.25 1.20 0.25 2.20 0.25 2.20 0.25 3.00 0.25 1.20 0.25 1.20 0.25 1.20 0.25 3.00 0.25 1.60 0.25 1.20 0.25 0.50 0.25 3.00 0.45 2.20 0.25 1.60 0.25 0.80 0.25 2.20 0.25 3.00 0.25 2.20 0.25 1.20 0.25 1.60 0.25"/>
<line x1="43.80" y1="117.26" x2="83.10" y2="117.26" stroke="#8dbce1" stroke-opacity="1.0" stroke-width="1.0" stroke-dasharray="0.50 0.25 0.50 0.25 3.00 0.74 1.60 0.25 1.20 0.30 1.60 0.25 2.20 0.84 0.80 0.25 3.00 0.38 0.80 0.25 3.00 0.70 0.80 0.25 3.00 0.63 1.60 0.38 2.20 0.57 1.20 0.25 3.00 0.77 1.60 0.33 3.00 0.73 0.80 0.25 1.60 0.43"/>
<line x1="43.80" y1="117.53" x2="83.10" y2="117.53" stroke="#7db0da" stroke-opacity="0.7" stroke-width="0.5" stroke-dasharray="3.00 0.97 1.60 0.63 0.80 0.25 3.00 0.29 1.60 0.25 1.60 0.55 0.80 0.26 1.60 0.25 2.20 0.76 3.00 0.54 0.50 0.25 2.20 0.25 0.50 0.25 2.20 0.47 1.60 0.53 2.20 0.76 1.20 0.30 0.50 0.25 0.80 0.25 1.20 0.25 0.80 0.25 0.80 0.25 3.00 0.25"/>
<line x1="86.20" y1="117.26" x2="344.80" y2="117.26" stroke="#8dbce1" stroke-opacity="1.0" stroke-width="1.0" stroke-dasharray="1.20 0.42 1.60 0.41 1.60 0.49 2.20 0.57 1.20 0.39 2.20 0.46 3.00 0.78 0.50 0.25 1.60 0.39 2.20 0.62 1.60 0.47 0.50 0.25 0.50 0.25 0.50 0.25 0.80 0.26 2.20 0.28 1.60 0.38 1.60 0.28 0.80 0.25 0.50 0.25 0.80 0.25 3.00 0.93 1.20 0.25 1.20 0.25 0.50 0.25 2.20 0.45 1.60 0.42 3.00 0.25 1.20 0.25 0.50 0.25 0.50 0.25 0.80 0.25 0.50 0.25 1.60 0.46 1.60 0.28 2.20 0.25 3.00 0.74 2.20 0.37 2.20 0.45 3.00 0.82 2.20 0.25 3.00 0.79 2.20 0.25 0.50 0.25 0.80 0.25 1.20 0.31 0.80 0.25 0.50 0.25 0.50 0.25 3.00 0.76 1.60 0.25 0.50 0.25 3.00 0.27 0.80 0.25 1.60 0.25 0.50 0.25 2.20 0.48 3.00 0.60 3.00 0.32 0.50 0.25 1.60 0.35 1.60 0.36 3.00 0.50 3.00 0.60 3.00 0.25 1.20 0.25 3.00 0.55 0.50 0.25 2.20 0.53 0.80 0.25 0.50 0.25 1.60 0.25 0.80 0.25 0.80 0.25 0.80 0.25 0.50 0.25 3.00 0.45 1.20 0.25 0.50 0.25 1.20 0.25 0.50 0.25 1.20 0.25 1.60 0.25 2.20 0.28 1.20 0.25 2.20 0.26 1.60 0.25 1.60 0.35 0.50 0.25 1.20 0.25 2.20 0.25 2.20 0.28 0.50 0.25 2.20 0.25 0.50 0.25 1.60 0.25 1.20 0.25 0.50 0.25 3.00 0.51 2.20 0.41 3.00 0.55 3.00 0.43 0.50 0.25 1.60 0.25 1.20 0.25 1.20 0.25 2.20 0.25 3.00 0.35 1.20 0.25 2.20 0.25 1.60 0.25 0.50 0.25 3.00 0.53 0.50 0.25 0.80 0.25 0.50 0.25 0.50 0.25 1.60 0.25 3.00 0.52 3.00 0.48 0.50 0.25 1.20 0.25 1.60 0.25 2.20 0.25 2.20 0.25 2.20 0.25 1.60 0.25 0.80 0.25 1.60 0.25 0.50 0.25 1.60 0.25 0.50 0.25 1.20 0.25 2.20 0.25 0.50 0.25 3.00 0.25 2.20 0.25 3.00 0.42 0.50 0.25 1.20 0.25 1.20 0.25"/>
<line x1="86.20" y1="117.54" x2="344.80" y2="117.54" stroke="#a3cbe9" stroke-opacity="0.7" stroke-width="0.5" stroke-dasharray="0.80 0.25 1.60 0.25 3.00 0.48 3.00 1.06 2.20 0.68 1.60 0.38 0.50 0.25 1.60 0.55 2.20 0.25 1.60 0.50 1.20 0.38 1.20 0.39 0.50 0.25 1.60 0.54 0.80 0.25 3.00 0.62 1.20 0.25 0.80 0.26 0.50 0.25 1.60 0.25 0.80 0.25 1.60 0.48 2.20 0.39 1.20 0.25 0.80 0.25 3.00 0.49 3.00 0.56 2.20 0.50 0.50 0.25 2.20 0.29 1.20 0.25 1.20 0.25 0.50 0.25 1.60 0.25 1.60 0.30 0.50 0.25 1.20 0.30 0.80 0.25 0.50 0.25 0.50 0.25 0.50 0.25 1.20 0.25 0.50 0.25 3.00 0.58 1.20 0.29 1.20 0.25 1.20 0.25 1.60 0.25 3.00 0.83 0.50 0.25 1.60 0.40 0.50 0.25 3.00 0.67 2.20 0.25 3.00 0.54 1.20 0.25 3.00 0.32 1.60 0.25 3.00 0.25 0.80 0.25 0.80 0.25 1.60 0.25 3.00 0.62 2.20 0.54 2.20 0.28 1.20 0.25 0.80 0.25 2.20 0.25 0.80 0.25 2.20 0.36 0.80 0.25 2.20 0.25 0.80 0.25 1.60 0.28 2.20 0.25 3.00 0.25 0.80 0.25 2.20 0.36 3.00 0.47 0.80 0.25 3.00 0.30 1.20 0.25 0.80 0.25 2.20 0.36 3.00 0.53 1.20 0.25 2.20 0.48 0.50 0.25 2.20 0.25 0.80 0.25 1.20 0.25 1.60 0.30 2.20 0.33 0.80 0.25 2.20 0.29 0.80 0.25 2.20 0.43 0.50 0.25 0.80 0.25 0.50 0.25 3.00 0.25 1.60 0.28 1.20 0.25 1.20 0.25 0.50 0.25 0.50 0.25 1.20 0.25 1.60 0.25 1.20 0.25 1.60 0.25 0.80 0.25 3.00 0.57 2.20 0.25 1.60 0.25 0.50 0.25 3.00 0.25 2.20 0.30 1.20 0.25 2.20 0.29 0.80 0.25 3.00 0.45 3.00 0.49 2.20 0.26 2.20 0.27 1.20 0.25 0.80 0.25 1.60 0.25 3.00 0.25 1.60 0.25 1.60 0.25 2.20 0.25 0.80 0.25 3.00 0.25 0.80 0.25 1.60 0.25 2.20 0.25 0.50 0.25 0.80 0.25 3.00 0.31"/>
<line x1="43.80" y1="115.84" x2="83.10" y2="115.84" stroke="#8dbce1" stroke-opacity="1.0" stroke-width="1.0" stroke-dasharray="0.50 0.25 0.50 0.25 1.60 0.59 0.50 0.25 1.20 0.39 1.60 0.39 3.00 0.71 1.20 0.36 0.80 0.25 1.60 0.54 2.20 0.37 2.20 0.37 1.60 0.60 0.80 0.25 1.20 0.25 1.20 0.25 3.00 0.42 3.00 0.26 1.60 0.54 1.60 0.25 1.60 0.25 1.20 0.25 1.20 0.25 0.80 0.25 1.20 0.35"/>
<line x1="43.80" y1="115.60" x2="83.10" y2="115.60" stroke="#7db0da" stroke-opacity="0.7" stroke-width="0.5" stroke-dasharray="1.20 0.39 1.20 0.25 2.20 0.50 0.50 0.25 3.00 0.47 0.80 0.25 0.50 0.25 1.20 0.38 2.20 0.80 0.80 0.25 0.80 0.25 3.00 0.60 0.50 0.25 2.20 0.64 3.00 0.28 0.50 0.25 1.20 0.28 0.80 0.27 3.00 0.33 2.20 0.72 1.20 0.25 1.60 0.56 0.50 0.25 1.20 0.34"/>
<line x1="86.20" y1="115.84" x2="344.80" y2="115.84" stroke="#8dbce1" stroke-opacity="1.0" stroke-width="1.0" stroke-dasharray="2.20 0.65 0.80 0.28 0.50 0.25 0.80 0.25 2.20 0.54 2.20 0.26 3.00 0.77 2.20 0.46 0.80 0.25 0.50 0.25 2.20 0.39 0.50 0.25 1.60 0.25 0.80 0.25 1.60 0.25 0.80 0.25 1.60 0.25 1.20 0.25 2.20 0.46 3.00 0.53 3.00 0.89 0.50 0.25 0.50 0.25 2.20 0.61 2.20 0.25 1.20 0.25 0.50 0.25 1.60 0.25 1.60 0.48 3.00 0.54 0.80 0.25 0.80 0.25 1.60 0.25 1.60 0.25 1.60 0.25 1.20 0.31 3.00 0.34 2.20 0.27 3.00 0.43 1.20 0.26 0.50 0.25 1.20 0.25 0.80 0.25 1.60 0.28 1.20 0.25 1.60 0.25 0.80 0.25 3.00 0.81 0.50 0.25 0.50 0.25 0.80 0.25 1.60 0.36 2.20 0.55 3.00 0.64 1.60 0.44 1.20 0.25 0.50 0.25 1.60 0.41 0.80 0.25 1.60 0.25 1.20 0.25 0.80 0.25 0.50 0.25 1.20 0.25 3.00 0.46 1.20 0.25 0.80 0.25 2.20 0.42 3.00 0.25 0.80 0.25 1.60 0.40 1.20 0.28 2.20 0.50 0.50 0.25 3.00 0.49 0.50 0.25 0.80 0.25 3.00 0.54 1.20 0.25 0.50 0.25 3.00 0.45 1.60 0.28 0.50 0.25 0.80 0.25 0.80 0.25 3.00 0.30 3.00 0.62 2.20 0.25 0.80 0.25 1.60 0.25 2.20 0.25 1.60 0.25 1.20 0.25 0.50 0.25 3.00 0.32 2.20 0.30 3.00 0.25 0.50 0.25 0.50 0.25 2.20 0.25 3.00 0.42 1.20 0.25 1.60 0.29 0.50 0.25 1.20 0.25 3.00 0.39 0.50 0.25 2.20 0.35 3.00 0.36 2.20 0.40 3.00 0.25 0.80 0.25 0.50 0.25 0.80 0.25 2.20 0.32 0.50 0.25 0.80 0.25 0.50 0.25 3.00 0.29 0.50 0.25 0.50 0.25 2.20 0.32 2.20 0.26 3.00 0.25 3.00 0.47 2.20 0.25 1.20 0.25 0.80 0.25 2.20 0.25 3.00 0.33 1.60 0.25 0.80 0.25 1.60 0.25 0.80 0.25 1.60 0.25 1.60 0.25 1.20 0.25 1.60 0.25 1.60 0.25 0.80 0.25 1.20 0.25"/>
<line x1="86.20" y1="115.79" x2="344.80" y2="115.79" stroke="#a3cbe9" stroke-opacity="0.7" stroke-width="0.5" stroke-dasharray="3.00 1.05 0.50 0.25 0.50 0.25 3.00 0.94 0.50 0.25 3.00 0.65 0.80 0.25 3.00 0.95 1.60 0.54 1.20 0.25 0.50 0.25 3.00 0.25 3.00 0.88 0.80 0.25 1.60 0.29 1.20 0.25 2.20 0.35 0.80 0.25 3.00 0.88 3.00 0.42 0.50 0.25 2.20 0.35 2.20 0.31 0.80 0.25 0.80 0.25 1.60 0.35 0.50 0.25 3.00 0.45 1.20 0.25 1.60 0.25 2.20 0.25 1.20 0.25 2.20 0.25 2.20 0.25 0.50 0.25 0.50 0.25 1.60 0.42 0.50 0.25 0.80 0.25 0.50 0.25 1.60 0.25 0.50 0.25 3.00 0.29 1.20 0.25 1.20 0.33 2.20 0.35 0.80 0.25 0.80 0.25 0.80 0.25 0.50 0.25 1.60 0.31 0.50 0.25 1.20 0.31 1.60 0.25 0.80 0.25 3.00 0.43 0.80 0.25 1.20 0.25 2.20 0.25 1.20 0.25 0.80 0.25 2.20 0.57 3.00 0.38 1.60 0.32 1.60 0.25 1.20 0.25 3.00 0.73 2.20 0.25 1.20 0.25 0.50 0.25 0.50 0.25 0.80 0.25 1.20 0.25 1.60 0.38 0.80 0.25 1.60 0.32 0.80 0.25 2.20 0.25 3.00 0.34 0.80 0.25 1.60 0.36 0.50 0.25 1.60 0.25 0.50 0.25 0.50 0.25 3.00 0.63 1.20 0.25 3.00 0.61 0.50 0.25 1.60 0.27 1.60 0.34 2.20 0.25 3.00 0.28 3.00 0.43 0.80 0.25 1.20 0.25 0.50 0.25 1.20 0.25 1.20 0.25 1.20 0.25 1.20 0.25 1.20 0.25 3.00 0.25 0.50 0.25 2.20 0.25 2.20 0.31 1.20 0.25 3.00 0.51 3.00 0.31 1.60 0.25 1.60 0.25 3.00 0.53 0.80 0.25 2.20 0.25 0.80 0.25 1.20 0.25 1.60 0.25 1.60 0.25 1.20 0.25 0.50 0.25 0.80 0.25 0.50 0.25 3.00 0.47 2.20 0.26 0.50 0.25 2.20 0.25 0.50 0.25 1.60 0.25 0.50 0.25 0.50 0.25 1.20 0.25 3.00 0.27 0.50 0.25 1.60 0.25 3.00 0.25 2.20 0.25 2.20 0.25 3.00 0.25 3.00 0.25 0.80 0.25 0.80 0.25 1.60 0.25 3.00 0.25"/>
<line x1="43.80" y1="114.42" x2="83.10" y2="114.42" stroke="#80b2dc" stroke-opacity="1.0" stroke-width="1.0" stroke-dasharray="2.20 0.25 0.80 0.25 1.20 0.31 0.50 0.25 0.80 0.28 1.60 0.43 2.20 0.59 3.00 0.25 3.00 0.62 3.00 1.00 0.50 0.25 1.60 0.57 3.00 0.35 2.20 0.62 0.80 0.25 3.00 1.04 0.80 0.25 1.20 0.26 0.50 0.25 3.00 1.04 3.00 0.25"/>
<line x1="43.80" y1="114.45" x2="83.10" y2="114.45" stroke="#6fa5d4" stroke-opacity="0.7" stroke-width="0.5" stroke-dasharray="0.80 0.25 0.50 0.25 1.60 0.56 0.80 0.25 3.00 0.92 1.60 0.53 0.50 0.25 1.60 0.27 0.80 0.25 0.80 0.25 1.20 0.25 2.20 0.80 0.50 0.25 2.20 0.41 1.60 0.25 2.20 0.73 3.00 0.95 1.60 0.25 1.60 0.29 0.80 0.25 1.20 0.29 0.80 0.27 0.80 0.25 3.00 0.26 1.20 0.30"/>
<line x1="86.20" y1="114.42" x2="344.80" y2="114.42" stroke="#80b2dc" stroke-opacity="1.0" stroke-width="1.0" stroke-dasharray="1.20 0.25 1.20 0.42 3.00 0.50 1.20 0.31 2.20 0.50 0.80 0.25 1.60 0.25 3.00 0.52 1.20 0.37 0.50 0.25 0.80 0.25 1.20 0.25 0.80 0.25 1.60 0.48 0.80 0.25 1.60 0.53 2.20 0.26 1.60 0.39 0.80 0.25 2.20 0.31 3.00 0.95 3.00 0.25 2.20 0.32 1.60 0.25 0.50 0.25 1.20 0.33 2.20 0.33 0.50 0.25 1.20 0.34 0.50 0.25 0.80 0.25 0.50 0.25 1.20 0.25 1.60 0.27 3.00 0.37 2.20 0.32 1.60 0.45 1.20 0.28 0.50 0.25 1.60 0.39 2.20 0.30 0.50 0.25 0.80 0.25 0.50 0.25 0.80 0.25 2.20 0.27 1.60 0.44 1.20 0.25 0.80 0.25 0.80 0.25 1.20 0.25 0.80 0.25 3.00 0.27 3.00 0.54 2.20 0.35 1.60 0.26 3.00 0.25 0.80 0.25 2.20 0.50 0.80 0.25 2.20 0.50 1.20 0.25 0.80 0.25 2.20 0.54 2.20 0.25 3.00 0.25 2.20 0.39 1.60 0.34 0.50 0.25 2.20 0.25 1.20 0.28 0.50 0.25 3.00 0.25 0.80 0.25 1.60 0.36 0.80 0.25 0.80 0.25 1.20 0.25 1.60 0.25 1.20 0.25 3.00 0.25 3.00 0.33 2.20 0.26 1.60 0.26 3.00 0.56 2.20 0.30 0.50 0.25 0.80 0.25 0.50 0.25 0.80 0.25 3.00 0.50 0.80 0.25 0.80 0.25 1.60 0.25 1.60 0.34 1.60 0.25 1.60 0.25 1.20 0.25 1.20 0.25 3.00 0.27 1.60 0.25 0.50 0.25 2.20 0.36 1.20 0.25 0.50 0.25 2.20 0.43 1.60 0.30 0.80 0.25 1.60 0.25 2.20 0.25 1.20 0.25 0.50 0.25 3.00 0.25 1.20 0.25 0.50 0.25 2.20 0.25 0.50 0.25 3.00 0.25 1.20 0.25 3.00 0.25 1.60 0.25 2.20 0.25 0.50 0.25 1.20 0.25 1.60 0.26 2.20 0.34 2.20 0.25 1.20 0.25 2.20 0.25 1.20 0.25 2.20 0.25 1.20 0.25 0.80 0.25 1.20 0.25 1.60 0.25 3.00 0.25 1.20 0.25 2.20 0.25 1.20 0.25 2.20 0.25 2.20 0.33 2.20 0.25"/>
<line x1="86.20" y1="114.60" x2="344.80" y2="114.60" stroke="#94c0e4" stroke-opacity="0.7" stroke-width="0.5" stroke-dasharray="2.20 0.59 1.60 0.36 1.20 0.25 3.00 0.94 3.00 0.61 1.60 0.27 0.50 0.25 1.60 0.39 1.60 0.48 2.20 0.73 0.80 0.25 0.80 0.25 3.00 0.34 1.20 0.31 1.60 0.49 0.80 0.25 1.20 0.26 3.00 0.84 2.20 0.47 2.20 0.52 2.20 0.42 3.00 0.82 1.60 0.25 0.50 0.25 0.50 0.25 1.60 0.25 3.00 0.81 3.00 0.45 3.00 0.41 3.00 0.77 0.80 0.25 2.20 0.37 2.20 0.61 2.20 0.56 1.60 0.33 0.50 0.25 2.20 0.53 3.00 0.48 0.80 0.25 0.50 0.25 0.50 0.25 0.50 0.25 0.50 0.25 0.80 0.25 0.80 0.25 0.80 0.25 1.60 0.44 2.20 0.49 1.60 0.43 1.60 0.25 2.20 0.25 3.00 0.62 0.50 0.25 1.60 0.31 2.20 0.50 3.00 0.39 0.50 0.25 3.00 0.53 1.60 0.25 1.20 0.25 3.00 0.54 2.20 0.36 1.60 0.32 0.50 0.25 2.20 0.34 2.20 0.25 0.80 0.25 2.20 0.25 3.00 0.25 0.50 0.25 0.50 0.25 1.20 0.28 1.20 0.27 3.00 0.38 2.20 0.39 1.60 0.25 0.80 0.25 1.20 0.25 2.20 0.28 3.00 0.61 0.80 0.25 0.50 0.25 0.80 0.25 2.20 0.25 1.60 0.28 2.20 0.25 0.80 0.25 1.60 0.25 3.00 0.25 1.60 0.30 0.50 0.25 0.50 0.25 0.50 0.25 0.50 0.25 1.20 0.25 2.20 0.27 0.50 0.25 1.20 0.25 0.80 0.25 3.00 0.39 1.60 0.25 1.20 0.25 0.50 0.25 0.50 0.25 0.50 0.25 0.80 0.25 0.80 0.25 0.80 0.25 1.60 0.25 0.80 0.25 1.60 0.25 0.50 0.25 2.20 0.25 2.20 0.37 0.50 0.25 0.80 0.25 0.50 0.25 0.80 0.25 1.20 0.25 0.80 0.25 0.80 0.25 1.60 0.25 2.20 0.25 1.60 0.25 1.20 0.25 3.00 0.25 2.20 0.25 3.00 0.25 1.20 0.25 0.50 0.25 2.20 0.25 2.20 0.25 0.50 0.25 0.80 0.25 3.00 0.25 1.60 0.25 1.20 0.25 0.50 0.25 3.00 0.25 3.00 0.39"/>
<line x1="43.80" y1="113.00" x2="83.10" y2="113.00" stroke="#80b2dc" stroke-opacity="1.0" stroke-width="1.0" stroke-dasharray="1.20 0.28 3.00 0.37 3.00 0.71 0.80 0.25 2.20 0.35 1.60 0.43 2.20 0.40 1.60 0.27 1.20 0.45 2.20 0.29 3.00 0.43 0.80 0.25 0.50 0.25 2.20 0.32 0.50 0.25 3.00 0.71 1.60 0.26 1.20 0.25 3.00 0.42 2.20 0.25 0.50 0.25"/>
<line x1="43.80" y1="112.75" x2="83.10" y2="112.75" stroke="#6fa5d4" stroke-opacity="0.7" stroke-width="0.5" stroke-dasharray="0.50 0.25 0.50 0.25 1.60 0.47 1.60 0.35 2.20 0.25 1.60 0.25 0.80 0.30 0.80 0.28 0.80 0.28 2.20 0.48 0.50 0.25 1.60 0.44 0.50 0.25 0.80 0.25 1.20 0.25 1.20 0.34 2.20 0.25 1.20 0.25 3.00 0.25 2.20 0.25 0.50 0.25 0.80 0.28 1.60 0.28 1.20 0.25 3.00 0.50 2.20 0.26 1.60 0.55"/>
<line x1="86.20" y1="113.00" x2="344.80" y2="113.00" stroke="#80b2dc" stroke-opacity="1.0" stroke-width="1.0" stroke-dasharray="1.60 0.25 2.20 0.58 3.00 1.00 2.20 0.25 1.20 0.25 3.00 0.93 2.20 0.58 1.60 0.27 1.20 0.32 0.80 0.25 0.80 0.25 0.80 0.25 1.60 0.25 3.00 0.68 2.20 0.69 1.60 0.39 2.20 0.25 2.20 0.59 1.20 0.38 1.60 0.25 0.50 0.25 1.20 0.25 3.00 0.40 0.50 0.25 3.00 0.81 1.60 0.43 2.20 0.59 0.80 0.25 3.00 0.86 2.20 0.41 1.60 0.48 2.20 0.66 0.80 0.25 3.00 0.80 2.20 0.26 3.00 0.59 0.80 0.25 0.50 0.25 2.20 0.50 1.20 0.32 2.20 0.28 1.20 0.25 1.20 0.33 2.20 0.56 0.80 0.25 1.20 0.26 2.20 0.57 0.50 0.25 3.00 0.73 2.20 0.38 0.50 0.25 0.80 0.25 1.60 0.34 3.00 0.25 0.50 0.25 0.50 0.25 1.20 0.25 0.50 0.25 3.00 0.63 2.20 0.44 3.00 0.66 1.60 0.33 2.20 0.40 1.20 0.25 2.20 0.25 0.50 0.25 1.60 0.25 3.00 0.25 1.60 0.25 2.20 0.30 2.20 0.25 0.50 0.25 1.20 0.25 0.80 0.25 0.50 0.25 1.20 0.27 0.50 0.25 2.20 0.35 0.50 0.25 0.50 0.25 3.00 0.36 3.00 0.25 0.80 0.25 2.20 0.25 2.20 0.32 1.60 0.25 3.00 0.33 1.60 0.25 0.50 0.25 3.00 0.25 0.50 0.25 1.60 0.25 1.20 0.25 2.20 0.33 3.00 0.48 0.50 0.25 1.20 0.25 1.20 0.25 0.50 0.25 1.60 0.31 2.20 0.28 1.60 0.30 1.60 0.29 1.60 0.28 0.50 0.25 1.20 0.25 2.20 0.25 1.20 0.25 1.20 0.25 3.00 0.25 1.60 0.25 3.00 0.50 1.20 0.25 1.20 0.25 0.80 0.25 2.20 0.25 1.60 0.25 1.60 0.25 0.50 0.25 0.80 0.25 1.20 0.25 1.20 0.25 0.50 0.25 3.00 0.49 0.50 0.25 0.50 0.25 1.60 0.25 1.20 0.25 1.60 0.25 1.20 0.25 0.80 0.25 3.00 0.31 0.80 0.25 0.80 0.25 1.60 0.25 3.00 0.36"/>
<line x1="86.20" y1="113.10" x2="344.80" y2="113.10" stroke="#6fa5d4" stroke-opacity="0.7" stroke-width="0.5" stroke-dasharray="0.50 0.25 1.20 0.29 3.00 0.66 1.20 0.38 3.00 0.97 2.20 0.56 0.50 0.25 0.50 0.25 1.60 0.25 1.60 0.48 1.60 0.25 3.00 0.88 0.80 0.25 2.20 0.42 2.20 0.25 1.60 0.25 0.80 0.25 0.50 0.25 2.20 0.28 0.50 0.25 1.20 0.32 3.00 0.94 0.50 0.25 2.20 0.38 3.00 0.32 0.50 0.25 1.60 0.25 1.20 0.25 3.00 0.39 2.20 0.43 2.20 0.43 3.00 0.30 1.60 0.41 1.20 0.25 3.00 0.25 1.60 0.25 3.00 0.74 0.50 0.25 2.20 0.25 3.00 0.25 0.50 0.25 0.50 0.25 3.00 0.60 0.50 0.25 0.80 0.25 0.80 0.25 0.50 0.25 3.00 0.25 0.80 0.25 3.00 0.81 1.20 0.26 2.20 0.31 2.20 0.25 1.20 0.25 1.20 0.26 1.60 0.25 3.00 0.62 2.20 0.37 1.60 0.35 2.20 0.56 1.60 0.25 2.20 0.49 0.80 0.25 0.50 0.25 1.20 0.25 3.00 0.67 1.20 0.25 1.20 0.25 1.20 0.25 3.00 0.25 0.50 0.25 2.20 0.25 0.80 0.25 1.20 0.25 0.80 0.25 2.20 0.50 1.60 0.25 1.20 0.25 0.50 0.25 2.20 0.39 3.00 0.31 2.20 0.30 1.60 0.33 1.20 0.25 0.50 0.25 1.20 0.25 3.00 0.42 0.80 0.25 1.60 0.31 0.80 0.25 3.00 0.37 1.60 0.25 2.20 0.45 1.60 0.25 2.20 0.25 0.80 0.25 2.20 0.36 2.20 0.26 3.00 0.47 0.80 0.25 3.00 0.25 3.00 0.37 2.20 0.39 1.20 0.25 0.50 0.25 1.20 0.25 2.20 0.38 3.00 0.49 3.00 0.25 2.20 0.27 0.80 0.25 0.80 0.25 1.60 0.25 0.80 0.25 1.20 0.25 3.00 0.25 0.80 0.25 0.80 0.25 0.50 0.25 3.00 0.34 1.20 0.25 1.20 0.25 0.50 0.25 2.20 0.34 0.50 0.25 1.60 0.25 3.00 0.25 1.60 0.25 1.20 0.25 1.20 0.25 1.60 0.25 3.00 0.35 0.80 0.25"/>
<line x1="43.80" y1="111.58" x2="83.10" y2="111.58" stroke="#80b2dc" stroke-opacity="1.0" stroke-width="1.0" stroke-dasharray="3.00 0.25 0.80 0.25 3.00 0.39 0.80 0.25 0.80 0.29 2.20 0.25 0.50 0.25 1.20 0.25 0.50 0.25 1.60 0.26 0.50 0.25 0.50 0.25 1.20 0.25 1.60 0.25 3.00 0.55 1.20 0.36 1.60 0.58 3.00 0.69 3.00 0.36 2.20 0.25 0.80 0.25 1.60 0.42 1.60 0.25 0.50 0.25"/>
<line x1="43.80" y1="111.71" x2="83.10" y2="111.71" stroke="#94c0e4" stroke-opacity="0.7" stroke-width="0.5" stroke-dasharray="0.50 0.25 1.60 0.58 0.50 0.25 1.20 0.25 2.20 0.74 1.60 0.25 2.20 0.83 3.00 0.97 0.80 0.25 0.80 0.25 0.50 0.25 2.20 0.76 3.00 1.07 0.50 0.25 1.20 0.39 1.20 0.42 2.20 0.81 0.50 0.25 2.20 0.35 1.20 0.34 2.20 0.47 0.80 0.25 2.20 0.60"/>
<line x1="86.20" y1="111.58" x2="344.80" y2="111.58" stroke="#80b2dc" stroke-opacity="1.0" stroke-width="1.0" stroke-dasharray="2.20 0.25 2.20 0.25 0.80 0.25 0.80 0.25 0.50 0.25 1.60 0.39 0.50 0.25 3.00 0.97 2.20 0.63 2.20 0.25 0.80 0.25 1.20 0.25 2.20 0.37 0.50 0.25 1.60 0.25 1.20 0.25 0.50 0.25 1.60 0.32 0.50 0.25 0.50 0.25 0.50 0.25 0.80 0.25 3.00 0.45 1.20 0.36 2.20 0.70 3.00 0.56 0.50 0.25 0.80 0.25 1.60 0.25 0.50 0.25 3.00 0.72 1.60 0.25 0.50 0.25 2.20 0.36 0.80 0.25 3.00 0.73 2.20 0.65 3.00 0.25 0.80 0.25 3.00 0.47 0.80 0.25 1.20 0.26 3.00 0.25 0.50 0.25 0.80 0.25 1.20 0.34 1.60 0.31 1.60 0.42 0.50 0.25 1.20 0.30 0.50 0.25 3.00 0.71 1.20 0.30 3.00 0.25 0.80 0.25 0.80 0.25 2.20 0.27 3.00 0.69 1.60 0.35 0.50 0.25 0.50 0.25 0.80 0.25 1.60 0.25 3.00 0.53 1.20 0.25 0.80 0.25 1.60 0.25 2.20 0.25 3.00 0.53 0.50 0.25 0.50 0.25 2.20 0.38 0.80 0.25 1.60 0.33 0.50 0.25 0.50 0.25 1.60 0.25 2.20 0.35 1.20 0.25 2.20 0.48 0.50 0.25 1.60 0.32 3.00 0.64 2.20 0.25 1.60 0.25 1.20 0.25 3.00 0.27 0.50 0.25 1.20 0.25 0.80 0.25 1.60 0.33 3.00 0.40 2.20 0.46 0.50 0.25 1.60 0.25 2.20 0.28 2.20 0.25 1.60 0.29 1.20 0.25 1.60 0.31 0.50 0.25 3.00 0.35 2.20 0.39 0.50 0.25 0.80 0.25 0.50 0.25 1.60 0.27 0.80 0.25 0.80 0.25 3.00 0.53 0.50 0.25 0.50 0.25 2.20 0.25 1.60 0.27 2.20 0.28 0.80 0.25 0.50 0.25 1.60 0.25 3.00 0.35 2.20 0.25 3.00 0.29 1.20 0.25 1.60 0.28 0.80 0.25 0.80 0.25 0.80 0.25 1.60 0.25 1.20 0.25 3.00 0.43 0.50 0.25 1.20 0.25 0.50 0.25 1.60 0.25 3.00 0.26 2.20 0.25 1.60 0.25 3.00 0.34 3.00 0.42 2.20 0.25 3.00 0.37 0.80 0.25 0.50 0.25 1.60 0.25"/>
<line x1="86.20" y1="111.58" x2="344.80" y2="111.58" stroke="#6fa5d4" stroke-opacity="0.7" stroke-width="0.5" stroke-dasharray="0.50 0.25 1.20 0.33 3.00 0.88 1.20 0.39 3.00 0.39 0.50 0.25 3.00 0.94 1.20 0.25 2.20 0.25 2.20 0.72 1.60 0.31 0.50 0.25 0.50 0.25 0.80 0.25 1.20 0.26 0.50 0.25 0.50 0.25 0.50 0.25 1.20 0.36 1.20 0.26 1.20 0.28 2.20 0.40 2.20 0.45 2.20 0.42 0.50 0.25 1.60 0.39 1.60 0.28 1.20 0.26 1.20 0.36 0.80 0.25 0.50 0.25 0.80 0.25 2.20 0.69 3.00 0.36 0.50 0.25 0.80 0.25 0.80 0.25 3.00 0.53 1.20 0.29 3.00 0.33 3.00 0.25 3.00 0.80 2.20 0.25 1.20 0.25 1.20 0.25 1.20 0.32 0.80 0.25 1.60 0.30 1.60 0.25 1.20 0.25 3.00 0.25 1.60 0.36 0.50 0.25 0.80 0.25 1.60 0.25 0.80 0.25 2.20 0.25 1.20 0.25 2.20 0.45 1.20 0.28 0.80 0.25 1.60 0.25 3.00 0.67 1.60 0.25 1.20 0.25 0.50 0.25 1.20 0.25 2.20 0.25 3.00 0.67 1.20 0.25 3.00 0.52 0.50 0.25 3.00 0.32 3.00 0.39 1.60 0.29 1.20 0.25 1.20 0.25 0.80 0.25 1.20 0.25 3.00 0.25 2.20 0.25 1.60 0.33 1.60 0.33 1.60 0.34 1.60 0.25 1.60 0.30 0.50 0.25 3.00 0.25 0.50 0.25 1.60 0.34 1.20 0.25 3.00 0.56 0.80 0.25 1.20 0.25 3.00 0.53 0.80 0.25 0.80 0.25 1.20 0.25 2.20 0.25 3.00 0.26 3.00 0.51 1.20 0.25 1.20 0.25 0.50 0.25 2.20 0.29 0.50 0.25 0.80 0.25 2.20 0.40 3.00 0.40 0.80 0.25 0.50 0.25 3.00 0.32 2.20 0.37 3.00 0.25 1.60 0.25 3.00 0.25 2.20 0.26 1.20 0.25 0.80 0.25 3.00 0.28 0.80 0.25 1.60 0.25 0.50 0.25 2.20 0.25 0.50 0.25 0.80 0.25 3.00 0.25 1.60 0.25 1.20 0.25 0.50 0.25 3.00 0.32 2.20 0.25 1.60 0.25 0.50 0.25 1.60 0.25 0.50 0.25 0.80 0.25 0.50 0.25 2.20 0.28 3.00 0.28"/>
<line x1="43.80" y1="110.16" x2="83.10" y2="110.16" stroke="#6487c6" stroke-opacity="1.0" stroke-width="1.0" stroke-dasharray="0.80 0.25 3.00 0.25 2.20 0.27 1.20 0.25 1.60 0.25 3.00 0.31 0.50 0.25 2.20 0.25 1.20 0.25 3.00 0.25 1.60 0.25 0.50 0.25 3.00 0.55 0.80 0.25 3.00 0.31 0.80 0.25 2.20 0.25 1.20 0.25 1.20 0.26 3.00 0.53 3.00 0.79"/>
<line x1="43.80" y1="109.98" x2="83.10" y2="109.98" stroke="#7796d0" stroke-opacity="0.7" stroke-width="0.5" stroke-dasharray="0.80 0.25 1.60 0.25 2.20 0.25 1.60 0.26 0.50 0.25 3.00 0.25 0.50 0.25 1.20 0.25 0.50 0.25 0.80 0.25 1.20 0.25 1.60 0.25 2.20 0.41 1.20 0.25 3.00 0.34 0.50 0.25 2.20 0.45 1.20 0.25 0.80 0.25 0.50 0.25 2.20 0.36 2.20 0.41 3.00 0.25 3.00 0.30 1.20 0.30"/>
<line x1="86.20" y1="110.16" x2="344.80" y2="110.16" stroke="#6487c6" stroke-opacity="1.0" stroke-width="1.0" stroke-dasharray="0.50 0.25 3.00 0.63 1.60 0.25 1.60 0.42 2.20 0.47 3.00 0.26 1.20 0.25 3.00 0.79 3.00 0.78 1.60 0.25 1.20 0.30 1.60 0.42 1.60 0.44 2.20 0.77 2.20 0.52 1.60 0.59 2.20 0.25 0.50 0.25 0.50 0.25 1.60 0.51 2.20 0.42 2.20 0.63 0.80 0.25 0.80 0.27 1.60 0.64 2.20 0.70 3.00 1.17 0.50 0.25 1.60 0.65 1.60 0.25 3.00 0.57 1.60 0.44 3.00 1.17 0.50 0.25 1.20 0.44 1.60 0.54 3.00 1.00 1.20 0.30 0.80 0.25 0.50 0.26 3.00 1.04 1.20 0.65 1.60 0.25 3.00 1.78 3.00 1.61 1.20 0.33 0.50 0.25 1.60 0.91 0.50 0.26 1.20 0.66 1.60 0.40 1.20 0.72 0.80 0.47 1.60 0.95 2.20 1.57 2.20 0.34 1.20 0.50 1.60 0.79 1.60 0.59 1.60 0.38 2.20 1.44 1.20 0.89 3.00 0.52 2.20 1.44 0.80 0.47 1.60 0.37 1.60 0.82 0.80 0.31 2.20 0.97 2.20 0.92 2.20 1.02 2.20 1.76 3.00 1.23 0.50 0.25 1.60 0.70 1.20 0.57 0.50 0.25 2.20 0.96 3.00 1.70 3.00 1.36 3.00 0.96 0.50 0.46 1.60 0.33 0.50 0.25 0.80 0.89 0.50 0.40 3.00 1.07 2.20 0.75 0.50 0.56 3.00 3.56 0.50 0.25 3.00 1.00 0.50 0.31 1.20 1.34 0.80 0.52 0.80 0.43 0.80 0.25 1.60 1.26 0.50 0.44 2.20 2.69 1.20 1.03 2.20 2.67 3.00 1.15 2.20 2.82 0.50 0.44 1.60 0.97 2.20 1.54 1.20 0.57 2.20 1.42"/>
<line x1="86.20" y1="110.20" x2="344.80" y2="110.20" stroke="#5479bb" stroke-opacity="0.7" stroke-width="0.5" stroke-dasharray="3.00 0.66 1.20 0.25 1.60 0.25 0.50 0.25 0.50 0.25 0.50 0.25 1.60 0.25 2.20 0.25 3.00 0.37 0.50 0.25 0.80 0.25 0.80 0.25 2.20 0.43 0.80 0.25 0.50 0.25 0.50 0.25 0.80 0.25 1.20 0.25 2.20 0.58 1.20 0.25 0.80 0.25 0.80 0.25 1.20 0.25 3.00 0.75 0.50 0.25 0.80 0.25 0.80 0.29 0.50 0.25 0.50 0.25 1.20 0.25 1.20 0.49 3.00 1.15 1.60 0.25 0.50 0.25 2.20 0.35 3.00 0.84 3.00 1.24 0.80 0.31 2.20 0.61 3.00 0.36 0.50 0.25 0.50 0.25 0.50 0.25 0.50 0.25 0.80 0.40 1.20 0.25 0.80 0.36 1.60 0.71 0.50 0.25 3.00 0.48 3.00 1.07 1.20 0.37 0.80 0.25 3.00 1.66 2.20 0.91 1.60 0.70 1.20 0.26 0.50 0.25 1.60 0.52 0.80 0.50 1.60 0.38 3.00 1.41 0.50 0.25 1.60 0.89 0.80 0.35 3.00 2.09 0.80 0.29 1.20 0.40 1.60 1.04 0.50 0.25 0.50 0.25 1.20 0.36 0.50 0.27 1.20 0.27 2.20 1.12 3.00 1.84 2.20 1.40 0.80 0.40 1.60 1.06 0.80 0.54 0.80 0.64 3.00 2.59 0.80 0.29 1.20 1.08 1.60 1.46 3.00 1.22 1.20 0.30 0.80 0.25 1.20 0.41 1.20 1.10 3.00 0.79 2.20 0.77 2.20 0.81 1.20 1.09 1.60 0.64 0.50 0.35 0.50 0.27 3.00 0.85 2.20 1.77 2.20 1.30 0.80 0.31 1.20 1.30 1.60 0.54 1.20 0.54 0.50 0.35 2.20 1.93 1.60 0.58 0.80 0.70 2.20 1.08 1.20 0.61 1.60 0.99 3.00 3.60 2.20 2.79 2.20 1.93 1.20 0.48 0.50 0.25 0.80 0.25 3.00 3.85 1.20 1.00 1.20 1.47 1.60 1.60 1.60 1.49 3.00 1.36"/>
<line x1="43.80" y1="108.74" x2="83.10" y2="108.74" stroke="#6487c6" stroke-opacity="1.0" stroke-width="1.0" stroke-dasharray="1.60 0.25 3.00 0.25 1.20 0.25 0.50 0.25 1.20 0.25 1.20 0.25 0.50 0.25 1.20 0.25 1.60 0.25 2.20 0.25 0.50 0.25 1.60 0.31 0.80 0.25 3.00 0.55 1.60 0.25 2.20 0.32 1.60 0.25 0.50 0.25 1.60 0.25 1.20 0.25 0.50 0.25 0.80 0.25 3.00 0.59 3.00 0.53 2.20 0.57"/>
<line x1="43.80" y1="108.70" x2="83.10" y2="108.70" stroke="#7796d0" stroke-opacity="0.7" stroke-width="0.5" stroke-dasharray="0.80 0.25 2.20 0.25 3.00 0.39 1.60 0.25 0.80 0.25 2.20 0.25 1.60 0.29 0.50 0.25 1.60 0.25 0.50 0.25 2.20 0.25 3.00 0.29 3.00 0.25 2.20 0.25 2.20 0.31 1.20 0.25 1.20 0.25 0.80 0.25 1.60 0.25 0.50 0.25 1.60 0.25 0.80 0.25 3.00 0.29 0.50 0.25"/>
<line x1="86.20" y1="108.74" x2="344.80" y2="108.74" stroke="#6487c6" stroke-opacity="1.0" stroke-width="1.0" stroke-dasharray="3.00 0.73 0.80 0.25 0.50 0.25 0.80 0.25 2.20 0.35 3.00 0.25 0.80 0.25 3.00 0.25 1.60 0.47 3.00 0.43 0.80 0.25 1.20 0.27 0.80 0.25 3.00 0.27 3.00 0.25 0.80 0.25 1.20 0.31 2.20 0.55 0.80 0.25 2.20 0.26 2.20 0.35 3.00 0.63 1.20 0.25 1.60 0.25 2.20 0.80 1.20 0.32 3.00 0.64 2.20 0.84 0.50 0.25 2.20 0.83 0.80 0.25 3.00 0.98 0.50 0.25 0.80 0.31 2.20 0.49 1.20 0.25 1.60 0.58 1.20 0.25 2.20 0.84 2.20 0.29 0.80 0.25 2.20 0.33 0.50 0.25 3.00 1.26 0.80 0.25 1.20 0.25 3.00 1.45 2.20 0.80 3.00 0.81 1.60 0.25 2.20 1.16 0.50 0.29 2.20 0.36 0.80 0.55 0.50 0.25 2.20 0.31 1.20 0.30 1.60 0.37 0.50 0.34 3.00 1.46 0.50 0.25 2.20 1.40 3.00 1.89 3.00 1.54 1.60 0.48 1.20 0.43 1.60 0.58 3.00 1.81 0.80 0.49 0.80 0.64 3.00 2.45 1.60 1.26 0.80 0.55 0.80 0.31 1.60 0.38 1.20 0.82 3.00 2.33 1.60 0.95 3.00 2.68 1.20 0.66 2.20 1.34 1.20 1.06 2.20 1.84 0.50 0.25 0.80 0.87 0.50 0.40 1.20 0.73 0.50 0.29 1.60 1.74 1.20 0.30 0.80 0.69 1.20 1.04 1.20 0.90 1.20 1.16 0.80 0.37 0.50 0.42 0.80 1.00 2.20 2.75 3.00 1.14 2.20 1.50 0.80 0.61 0.80 0.99 3.00 1.46 0.80 1.14 3.00 1.57 1.20 0.56 0.50 0.49 2.20 2.07 0.50 0.25 1.20 1.14 3.00 4.10"/>
<line x1="86.20" y1="108.47" x2="344.80" y2="108.47" stroke="#7796d0" stroke-opacity="0.7" stroke-width="0.5" stroke-dasharray="3.00 0.41 0.80 0.25 1.60 0.33 3.00 0.51 1.20 0.25 3.00 0.26 3.00 0.93 1.20 0.25 3.00 0.63 0.80 0.25 0.80 0.25 2.20 0.37 1.20 0.29 0.50 0.25 1.60 0.25 1.60 0.25 3.00 0.74 0.80 0.25 1.60 0.27 0.50 0.25 3.00 0.58 0.80 0.25 0.80 0.25 0.80 0.25 2.20 0.42 1.20 0.28 1.60 0.25 0.50 0.25 1.60 0.50 1.20 0.32 0.80 0.35 3.00 0.32 1.20 0.25 3.00 0.39 3.00 0.79 1.20 0.57 0.50 0.25 3.00 0.56 0.80 0.25 1.20 0.29 3.00 1.55 1.20 0.25 1.60 0.89 3.00 0.80 2.20 0.62 0.50 0.28 0.50 0.27 0.50 0.25 1.20 0.60 2.20 1.05 1.20 0.39 0.80 0.28 1.60 0.46 1.20 0.74 3.00 0.99 0.80 0.37 1.20 0.41 0.80 0.25 2.20 0.78 1.20 0.54 3.00 0.74 0.50 0.25 2.20 1.47 0.80 0.37 0.80 0.48 1.20 0.68 0.80 0.25 0.50 0.25 1.60 1.20 3.00 0.87 2.20 0.43 1.20 0.84 0.50 0.36 0.50 0.25 1.20 0.64 0.50 0.25 1.60 0.49 0.50 0.25 1.20 0.92 2.20 0.51 0.50 0.25 1.20 0.58 0.80 0.67 0.80 0.35 3.00 1.58 1.60 0.79 1.20 1.09 3.00 1.05 0.80 0.45 0.80 0.35 0.50 0.46 2.20 1.07 0.50 0.35 1.20 0.28 0.80 0.34 0.50 0.25 0.80 0.85 1.60 0.75 1.20 0.41 1.60 1.23 2.20 1.55 0.80 0.50 3.00 0.70 0.50 0.41 0.50 0.25 3.00 2.70 3.00 2.15 1.20 0.29 0.50 0.31 1.20 0.59 0.50 0.25 2.20 1.11 1.60 0.69 1.60 1.22 1.60 1.23 0.80 0.74 3.00 1.08 3.00 3.64 0.80 0.34 1.20 0.44 0.80 0.73 3.00 1.72 3.00 3.17 3.00 4.57"/>
<line x1="43.80" y1="107.32" x2="83.10" y2="107.32" stroke="#6487c6" stroke-opacity="1.0" stroke-width="1.0" stroke-dasharray="1.20 0.25 1.20 0.25 1.60 0.32 0.50 0.25 2.20 0.41 1.60 0.25 1.60 0.25 2.20 0.44 0.80 0.25 0.80 0.25 0.50 0.25 2.20 0.25 2.20 0.26 2.20 0.30 1.60 0.25 0.50 0.25 1.20 0.25 1.20 0.25 0.50 0.25 0.80 0.25 1.20 0.25 3.00 0.31 3.00 0.26 1.60 0.25 0.80 0.25 3.00 0.83"/>
<line x1="43.80" y1="107.32" x2="83.10" y2="107.32" stroke="#7796d0" stroke-opacity="0.7" stroke-width="0.5" stroke-dasharray="1.60 0.25 0.50 0.25 0.50 0.25 3.00 0.57 2.20 0.37 0.80 0.25 3.00 0.39 0.50 0.25 3.00 0.36 0.50 0.25 1.60 0.37 3.00 0.66 3.00 0.76 2.20 0.25 3.00 0.75 1.60 0.25 2.20 0.25 0.80 0.25 0.50 0.25 3.00 0.64 0.50 0.25"/>
<line x1="86.20" y1="107.32" x2="344.80" y2="107.32" stroke="#6487c6" stroke-opacity="1.0" stroke-width="1.0" stroke-dasharray="0.50 0.25 0.80 0.25 2.20 0.52 2.20 0.46 1.20 0.25 1.60 0.46 1.60 0.53 1.20 0.27 0.50 0.25 1.20 0.25 0.80 0.25 0.50 0.25 3.00 0.54 0.80 0.25 2.20 0.44 2.20 0.66 1.20 0.36 1.20 0.25 0.50 0.25 2.20 0.81 0.50 0.25 3.00 0.37 3.00 0.65 0.50 0.25 0.50 0.25 0.80 0.25 0.50 0.25 3.00 0.47 1.20 0.45 0.80 0.25 1.60 0.70 0.50 0.25 3.00 0.94 1.60 0.50 1.60 0.53 3.00 1.37 0.80 0.35 0.50 0.25 0.80 0.25 0.80 0.38 2.20 0.35 0.50 0.25 2.20 0.83 3.00 0.42 2.20 0.77 0.50 0.25 0.50 0.25 0.80 0.29 3.00 0.51 2.20 1.14 0.50 0.25 0.80 0.25 1.60 0.76 3.00 1.86 0.50 0.25 0.80 0.44 0.50 0.25 0.50 0.25 1.60 0.29 2.20 0.38 0.50 0.35 1.20 0.42 1.60 0.52 3.00 1.45 1.20 0.33 0.80 0.25 3.00 1.20 1.60 0.91 0.50 0.25 0.80 0.53 2.20 1.22 1.20 0.91 1.20 0.65 1.20 0.69 1.20 0.45 3.00 1.50 1.60 1.45 2.20 1.61 3.00 2.55 2.20 1.91 0.50 0.45 0.80 0.56 1.20 1.07 0.80 0.69 1.60 0.30 2.20 1.32 2.20 2.17 1.20 0.43 1.20 1.18 0.80 0.41 3.00 1.80 2.20 2.29 0.80 0.46 2.20 2.23 1.20 0.31 1.60 1.32 0.80 0.33 2.20 1.44 2.20 2.45 2.20 1.45 1.20 0.89 0.50 0.25 2.20 2.41 3.00 3.63 2.20 2.86 0.50 0.65 0.50 0.33 1.20 1.02 1.60 2.31 2.20 1.14 3.00 0.91 0.50 0.62 0.50 0.30 1.20 1.10 1.20 1.88 3.00 2.67"/>
<line x1="86.20" y1="107.22" x2="344.80" y2="107.22" stroke="#5479bb" stroke-opacity="0.7" stroke-width="0.5" stroke-dasharray="0.80 0.25 0.50 0.25 3.00 0.41 2.20 0.66 2.20 0.48 2.20 0.57 1.20 0.25 1.20 0.33 3.00 0.74 1.20 0.30 2.20 0.28 1.60 0.30 3.00 0.93 1.60 0.25 1.20 0.25 2.20 0.31 3.00 0.98 0.50 0.25 3.00 0.91 1.20 0.54 0.50 0.25 0.50 0.25 0.50 0.25 0.80 0.25 3.00 0.82 1.60 0.25 0.80 0.32 0.80 0.25 1.60 0.68 1.20 0.30 2.20 0.26 2.20 0.39 1.60 0.45 3.00 1.08 0.50 0.25 2.20 0.64 0.50 0.25 0.80 0.25 1.60 0.32 0.80 0.25 0.80 0.41 3.00 1.54 0.80 0.39 0.80 0.31 2.20 0.75 2.20 1.17 2.20 1.36 1.60 0.93 2.20 1.21 0.50 0.28 2.20 1.37 2.20 1.08 0.50 0.25 0.50 0.32 0.50 0.25 1.20 0.79 0.50 0.25 0.80 0.33 1.20 0.90 0.50 0.25 0.80 0.25 1.60 0.89 3.00 1.42 1.60 0.34 0.50 0.25 3.00 1.63 0.50 0.25 0.50 0.25 1.20 0.41 0.50 0.29 1.60 1.11 1.20 0.25 1.20 0.53 0.80 0.58 2.20 0.94 2.20 1.25 1.20 0.29 0.80 0.25 1.60 0.39 0.50 0.25 0.80 0.70 0.80 0.78 1.20 0.53 1.20 0.37 1.60 0.90 2.20 1.11 0.50 0.40 3.00 2.13 1.20 0.90 3.00 0.93 0.80 0.82 2.20 1.68 0.80 0.72 0.50 0.48 3.00 2.83 1.20 0.95 3.00 1.64 2.20 2.34 0.80 0.99 1.20 1.39 0.50 0.32 1.60 0.52 2.20 1.80 0.80 0.58 1.20 0.91 1.60 0.96 0.50 0.49 0.80 1.03 1.60 1.93 1.60 0.55 0.50 0.31 3.00 2.83 2.20 1.31 0.80 1.20 1.20 1.77 0.50 0.37 1.20 1.59 0.80 0.87 1.20 1.59 1.20 1.04 2.20 2.74"/>
<line x1="43.80" y1="105.90" x2="83.10" y2="105.90" stroke="#6487c6" stroke-opacity="1.0" stroke-width="1.0" stroke-dasharray="3.00 0.49 0.50 0.25 0.80 0.25 2.20 0.56 3.00 0.73 3.00 0.29 2.20 0.46 3.00 0.25 0.80 0.25 1.60 0.44 0.50 0.25 0.50 0.25 1.60 0.25 2.20 0.25 2.20 0.33 1.60 0.45 0.50 0.25 0.80 0.25 0.80 0.25 1.60 0.50 0.50 0.25 1.60 0.56 1.60 0.48"/>
<line x1="43.80" y1="105.98" x2="83.10" y2="105.98" stroke="#5479bb" stroke-opacity="0.7" stroke-width="0.5" stroke-dasharray="2.20 0.25 2.20 0.25 0.80 0.25 2.20 0.25 0.50 0.25 0.80 0.25 2.20 0.29 1.20 0.25 0.50 0.25 3.00 0.62 0.50 0.25 2.20 0.65 1.20 0.25 1.60 0.25 0.50 0.25 2.20 0.41 0.50 0.25 0.50 0.25 1.60 0.51 0.50 0.25 3.00 1.02 1.20 0.25 3.00 0.25 0.80 0.25 1.20 0.25"/>
<line x1="86.20" y1="105.90" x2="344.80" y2="105.90" stroke="#6487c6" stroke-opacity="1.0" stroke-width="1.0" stroke-dasharray="1.20 0.37 3.00 0.70 1.60 0.25 1.60 0.61 2.20 0.70 0.80 0.25 2.20 0.35 0.50 0.25 1.60 0.60 0.50 0.25 0.80 0.25 3.00 1.22 1.20 0.28 0.80 0.25 1.60 0.57 2.20 0.77 0.50 0.25 0.80 0.25 0.50 0.25 1.20 0.29 0.80 0.27 2.20 0.31 1.60 0.71 0.50 0.25 3.00 0.74 1.20 0.25 0.50 0.25 0.80 0.25 3.00 1.53 0.80 0.25 2.20 1.15 3.00 1.46 1.20 0.25 0.80 0.28 1.20 0.29 1.60 0.67 0.50 0.25 1.60 0.90 1.20 0.32 0.50 0.25 0.50 0.25 0.50 0.25 1.20 0.58 2.20 0.91 2.20 1.17 2.20 1.05 0.80 0.42 2.20 1.15 1.60 0.37 1.60 0.39 0.80 0.25 1.60 0.90 3.00 2.02 2.20 1.35 1.20 0.84 1.60 0.66 3.00 0.92 0.50 0.25 1.60 1.16 3.00 2.01 0.50 0.25 0.80 0.50 0.80 0.28 3.00 0.58 3.00 1.74 0.50 0.43 1.20 0.47 1.20 0.81 3.00 1.43 1.20 0.67 2.20 1.82 2.20 1.61 0.50 0.47 1.20 0.52 1.20 0.68 0.80 0.25 0.80 0.52 3.00 2.76 1.60 0.93 1.20 0.74 1.60 1.20 1.60 1.15 0.80 0.34 3.00 2.61 1.20 0.95 2.20 2.32 1.60 0.37 3.00 3.65 2.20 2.01 0.80 0.25 1.60 1.31 1.60 0.92 1.60 0.63 3.00 1.87 0.80 0.26 1.60 0.70 1.20 1.19 1.60 1.31 1.60 0.70 3.00 0.93 2.20 1.77 2.20 2.78 0.50 0.38 3.00 4.07 0.50 0.25 0.80 0.68 1.60 2.41 1.60 1.02 0.80 0.94 0.50 0.25 0.50 0.82 1.60 1.56"/>
<line x1="86.20" y1="105.62" x2="344.80" y2="105.62" stroke="#5479bb" stroke-opacity="0.7" stroke-width="0.5" stroke-dasharray="0.80 0.25 3.00 0.36 1.60 0.54 0.80 0.25 2.20 0.25 1.20 0.25 3.00 0.85 1.60 0.41 2.20 0.37 1.60 0.36 2.20 0.42 1.20 0.43 1.20 0.25 1.20 0.42 1.20 0.25 3.00 1.06 3.00 1.10 2.20 0.53 1.20 0.42 0.80 0.28 0.80 0.25 0.80 0.32 1.20 0.31 0.50 0.25 3.00 1.12 1.60 0.50 1.20 0.37 2.20 0.48 2.20 0.62 2.20 1.19 1.20 0.69 1.60 0.61 0.50 0.26 2.20 1.29 1.20 0.58 1.20 0.48 2.20 0.91 2.20 0.67 1.20 0.42 0.50 0.30 0.80 0.29 1.60 0.35 1.20 0.60 2.20 0.31 0.80 0.25 0.50 0.25 2.20 0.33 1.20 0.41 1.60 0.94 1.60 0.86 1.20 0.77 0.50 0.28 3.00 1.09 3.00 1.29 2.20 1.31 0.80 0.31 3.00 2.48 0.50 0.25 0.50 0.28 3.00 2.00 2.20 1.38 1.20 0.70 2.20 0.43 1.20 0.47 0.80 0.39 0.50 0.45 0.80 0.25 3.00 1.83 3.00 1.96 1.20 0.56 1.60 0.41 2.20 1.86 0.80 0.56 2.20 2.20 0.80 0.34 3.00 2.92 1.20 1.35 1.60 1.67 2.20 1.21 3.00 1.28 1.20 1.19 3.00 0.92 2.20 2.06 0.80 0.62 2.20 0.69 0.80 0.47 3.00 3.39 1.20 0.30 0.80 0.46 1.60 0.95 1.20 0.53 0.50 0.27 0.80 0.27 3.00 1.51 3.00 2.61 0.80 0.77 1.60 1.22 3.00 1.83 0.80 0.49 3.00 3.11 0.80 0.78 1.60 2.43 0.80 0.54 0.80 0.98 1.20 0.58 1.20 1.83 3.00 1.72"/>
<line x1="43.80" y1="104.48" x2="83.10" y2="104.48" stroke="#6487c6" stroke-opacity="1.0" stroke-width="1.0" stroke-dasharray="0.50 0.25 2.20 0.33 0.50 0.25 0.80 0.25 2.20 0.55 0.80 0.25 0.50 0.25 1.20 0.25 0.80 0.25 0.80 0.25 1.20 0.25 0.50 0.25 2.20 0.62 0.80 0.27 0.80 0.25 3.00 0.26 3.00 0.71 1.60 0.55 1.60 0.35 0.80 0.25 2.20 0.86 0.80 0.25 1.20 0.25 2.20 0.32 0.80 0.32 0.80 0.26 1.20 0.33 0.50 0.25"/>
<line x1="43.80" y1="104.74" x2="83.10" y2="104.74" stroke="#5479bb" stroke-opacity="0.7" stroke-width="0.5" stroke-dasharray="2.20 0.64 0.80 0.25 3.00 0.51 1.60 0.25 0.50 0.25 0.50 0.25 0.50 0.25 1.20 0.29 0.50 0.25 1.20 0.25 0.80 0.25 0.80 0.25 3.00 0.37 3.00 0.98 2.20 0.50 0.50 0.25 0.50 0.25 2.20 0.25 3.00 0.30 0.80 0.25 2.20 0.66 0.50 0.25 1.20 0.25 0.50 0.25 0.80 0.25 1.60 0.55"/>
<line x1="86.20" y1="104.48" x2="344.80" y2="104.48" stroke="#6487c6" stroke-opacity="1.0" stroke-width="1.0" stroke-dasharray="3.00 0.78 3.00 0.61 2.20 0.93 0.80 0.31 2.20 1.01 1.20 0.25 1.20 0.44 1.20 0.39 1.60 0.63 3.00 0.42 2.20 0.46 3.00 0.60 1.20 0.53 1.20 0.26 3.00 1.43 3.00 1.64 1.60 0.32 0.80 0.32 1.60 0.60 0.50 0.25 0.50 0.25 1.20 0.41 1.20 0.77 2.20 0.52 0.80 0.25 1.60 0.25 0.80 0.33 1.60 0.55 1.20 0.72 3.00 0.90 3.00 2.05 1.20 0.39 3.00 2.19 1.20 0.42 1.20 0.25 0.50 0.31 0.80 0.47 1.20 0.64 1.60 1.20 1.60 0.49 3.00 1.07 1.20 0.69 3.00 1.87 1.60 0.77 3.00 1.85 1.20 1.00 3.00 1.14 0.80 0.42 1.20 0.84 0.80 0.37 2.20 1.66 0.50 0.27 2.20 1.38 0.80 0.63 0.80 0.70 0.50 0.25 0.50 0.39 3.00 1.42 2.20 2.03 2.20 1.82 1.20 0.49 3.00 1.68 2.20 2.39 1.60 1.82 0.50 0.25 3.00 1.34 3.00 2.40 1.60 0.53 1.20 0.57 0.80 0.28 1.20 0.68 0.80 0.95 1.60 1.92 0.50 0.49 0.50 0.31 0.50 0.28 1.20 1.29 1.60 0.82 0.80 0.66 1.20 1.07 0.50 0.51 0.80 0.93 0.50 0.25 2.20 2.93 0.80 0.46 3.00 1.39 3.00 2.79 1.20 0.45 0.50 0.72 0.80 0.44 3.00 2.25 3.00 1.54 0.80 0.84 1.60 0.84 0.50 0.59 1.60 1.13 0.50 0.31 1.60 2.57 0.50 0.45 2.20 2.09 3.00 3.89 3.00 1.13 1.20 1.20 1.20 1.73 2.20 1.85"/>
<line x1="86.20" y1="104.73" x2="344.80" y2="104.73" stroke="#5479bb" stroke-opacity="0.7" stroke-width="0.5" stroke-dasharray="0.50 0.25 0.50 0.25 1.20 0.25 3.00 1.13 3.00 1.34 0.80 0.35 0.80 0.27 1.60 0.25 1.60 0.53 2.20 0.81 0.50 0.25 0.80 0.37 0.80 0.42 1.20 0.27 3.00 0.90 1.20 0.59 2.20 1.16 0.80 0.26 0.50 0.25 0.50 0.28 0.50 0.26 0.50 0.25 2.20 1.13 0.50 0.25 1.20 0.25 0.80 0.25 1.20 0.64 1.60 0.46 0.80 0.25 1.20 0.59 1.60 0.32 0.80 0.46 0.80 0.25 2.20 1.04 0.50 0.25 2.20 0.93 1.60 0.80 0.80 0.25 1.60 0.70 3.00 0.94 3.00 1.04 0.80 0.39 1.20 0.43 3.00 1.46 1.20 0.41 2.20 0.62 1.20 0.70 0.80 0.58 2.20 1.42 1.20 0.25 0.80 0.37 2.20 0.61 0.80 0.49 1.20 0.25 0.50 0.40 2.20 0.76 0.50 0.42 0.50 0.38 1.20 1.03 1.60 0.82 2.20 1.72 0.80 0.72 1.20 1.00 3.00 0.86 0.50 0.25 1.20 1.11 3.00 2.74 2.20 1.31 0.50 0.45 0.80 0.83 1.20 0.90 1.60 1.01 1.60 1.62 1.60 1.15 0.80 0.41 3.00 1.84 1.60 1.73 0.50 0.56 1.20 1.13 1.60 1.04 1.60 0.43 0.80 0.51 3.00 3.18 0.50 0.25 1.20 1.27 3.00 0.81 0.50 0.37 1.60 1.02 0.80 0.93 3.00 2.75 2.20 2.08 0.50 0.41 3.00 1.03 0.80 0.90 1.60 0.82 1.20 0.54 3.00 1.47 0.80 0.68 0.80 0.72 1.60 1.27 2.20 2.42 0.50 0.42 0.50 0.44 0.50 0.67 2.20 2.96 1.20 1.70 1.20 1.80 1.60 1.89 3.00 4.03 2.20 3.79 0.50 0.74 0.50 0.48 3.00 1.55 0.50 0.80 0.50 0.41 3.00 2.24"/>
<line x1="43.80" y1="103.06" x2="83.10" y2="103.06" stroke="#6487c6" stroke-opacity="1.0" stroke-width="1.0" stroke-dasharray="1.20 0.25 0.50 0.25 1.60 0.31 0.80 0.25 3.00 0.94 3.00 0.92 1.20 0.26 0.50 0.25 0.50 0.25 0.80 0.25 2.20 0.95 0.80 0.30 1.60 0.57 0.50 0.25 2.20 0.99 2.20 0.83 1.60 0.53 2.20 0.28 0.50 0.25 2.20 0.65 3.00 0.78 1.60 0.53"/>
<line x1="43.80" y1="103.02" x2="83.10" y2="103.02" stroke="#5479bb" stroke-opacity="0.7" stroke-width="0.5" stroke-dasharray="1.60 0.25 3.00 0.61 3.00 0.74 0.50 0.25 3.00 0.26 3.00 0.87 3.00 0.28 1.60 0.25 1.60 0.38 1.60 0.29 1.60 0.79 0.50 0.25 0.50 0.25 0.80 0.36 3.00 1.44 1.20 0.32 3.00 0.57 2.20 0.85 0.80 0.27"/>
<line x1="86.20" y1="103.06" x2="344.80" y2="103.06" stroke="#6487c6" stroke-opacity="1.0" stroke-width="1.0" stroke-dasharray="1.60 0.54 2.20 0.64 0.50 0.25 1.60 0.80 3.00 1.63 0.80 0.25 3.00 0.37 3.00 0.67 0.80 0.33 3.00 1.34 1.60 0.61 0.80 0.25 1.20 0.40 2.20 0.94 0.80 0.46 2.20 0.32 1.20 0.55 3.00 1.65 1.20 0.25 0.80 0.54 0.80 0.38 2.20 1.50 3.00 0.63 1.20 0.72 1.60 0.47 3.00 1.60 2.20 1.17 2.20 0.52 1.60 1.13 0.80 0.55 0.50 0.25 1.20 0.29 1.20 0.79 1.20 0.71 0.50 0.34 3.00 0.81 2.20 1.07 2.20 1.78 3.00 1.92 1.20 0.48 1.60 0.35 0.50 0.37 3.00 1.97 2.20 0.91 3.00 1.88 2.20 0.46 3.00 0.82 0.50 0.50 1.60 1.29 2.20 1.29 1.60 0.82 3.00 2.12 1.20 0.73 2.20 2.46 1.20 0.85 1.60 1.05 0.80 0.91 2.20 0.81 3.00 2.80 2.20 2.02 0.80 0.98 0.80 0.76 1.20 0.82 0.50 0.35 1.20 0.60 0.80 0.65 2.20 1.01 0.50 0.61 2.20 0.80 0.50 0.63 1.60 2.10 1.60 1.36 1.60 1.21 0.80 0.76 1.20 1.03 3.00 2.92 2.20 1.58 1.20 0.91 1.60 2.01 0.50 0.50 1.20 1.91 0.80 0.51 1.60 2.36 0.80 0.52 0.80 0.91 0.50 0.25 0.50 0.25 1.60 1.36 3.00 4.01 1.60 2.28 1.60 0.54 0.80 0.46 0.50 0.91 0.50 0.30 2.20 1.44 1.20 1.34 0.80 0.77 2.20 2.50 0.50 0.60 0.80 0.64 1.60 2.18 0.50 0.95 0.80 1.52"/>
<line x1="86.20" y1="102.96" x2="344.80" y2="102.96" stroke="#7796d0" stroke-opacity="0.7" stroke-width="0.5" stroke-dasharray="2.20 0.28 2.20 0.27 1.20 0.41 3.00 0.61 0.50 0.25 0.80 0.25 2.20 1.16 2.20 0.27 3.00 0.57 1.20 0.26 3.00 1.58 1.20 0.51 0.50 0.25 1.20 0.48 0.80 0.33 0.80 0.25 0.50 0.25 1.20 0.48 2.20 1.45 0.80 0.25 0.80 0.39 0.80 0.25 2.20 0.94 3.00 1.23 2.20 1.31 1.20 0.68 1.60 0.90 0.50 0.25 0.80 0.26 2.20 1.27 3.00 1.75 0.50 0.39 2.20 0.32 1.20 0.60 1.60 0.65 0.50 0.25 3.00 1.18 0.80 0.52 0.80 0.65 2.20 1.67 3.00 1.55 1.60 0.83 1.20 0.52 0.80 0.57 1.60 0.78 1.20 0.88 2.20 1.75 1.60 0.85 3.00 1.28 0.80 0.53 2.20 1.48 2.20 1.87 1.60 0.68 1.60 0.40 1.20 0.94 1.20 0.89 1.20 0.91 3.00 2.62 1.60 1.12 3.00 1.05 0.50 0.44 0.50 0.35 1.60 0.89 0.50 0.31 0.80 0.25 3.00 2.24 0.80 0.65 2.20 2.03 3.00 1.63 0.80 0.78 2.20 2.16 2.20 2.80 2.20 2.75 2.20 1.28 0.50 0.63 1.20 0.84 1.20 0.81 0.80 1.08 2.20 0.86 0.80 0.88 0.50 0.72 0.50 0.42 2.20 2.60 3.00 2.69 1.20 1.31 3.00 2.43 0.80 1.05 0.80 0.68 0.80 0.32 0.80 0.95 0.50 0.37 0.80 0.93 3.00 1.25 0.80 1.01 0.50 0.66 3.00 5.23 1.20 2.08 1.20 0.83 0.80 1.20 1.60 2.02 0.50 0.79 0.80 1.09 1.60 1.30 0.80 0.82 1.60 1.45"/>
<line x1="43.80" y1="101.64" x2="83.10" y2="101.64" stroke="#6487c6" stroke-opacity="1.0" stroke-width="1.0" stroke-dasharray="2.20 0.42 2.20 0.52 0.80 0.25 1.20 0.25 3.00 1.10 1.60 0.67 2.20 0.69 0.80 0.25 1.20 0.65 3.00 1.40 0.80 0.39 0.80 0.25 0.80 0.25 1.60 0.94 1.60 0.74 1.60 0.50 0.80 0.37 1.20 0.42 3.00 1.05 0.50 0.30 3.00 0.49"/>
<line x1="43.80" y1="101.55" x2="83.10" y2="101.55" stroke="#7796d0" stroke-opacity="0.7" stroke-width="0.5" stroke-dasharray="1.20 0.33 2.20 0.25 3.00 1.42 1.60 0.28 3.00 0.67 3.00 0.51 3.00 0.38 0.80 0.46 3.00 0.69 0.80 0.36 3.00 1.38 1.20 0.25 0.50 0.25 1.20 0.64 0.50 0.25 0.80 0.25 0.50 0.25 2.20 1.16 1.60 0.31 1.20 0.67"/>
<line x1="86.20" y1="101.64" x2="344.80" y2="101.64" stroke="#6487c6" stroke-opacity="1.0" stroke-width="1.0" stroke-dasharray="2.20 1.33 1.60 1.04 2.20 1.36 0.80 0.32 3.00 1.58 0.50 0.31 0.80 0.29 2.20 0.81 2.20 1.33 0.50 0.36 2.20 0.64 1.60 0.59 1.20 0.40 2.20 0.40 1.60 0.40 3.00 1.97 1.20 0.63 1.20 0.82 0.80 0.65 2.20 1.05 3.00 2.51 2.20 0.83 3.00 0.94 1.60 1.27 1.60 1.06 0.50 0.43 1.60 0.37 3.00 0.79 0.80 0.50 0.50 0.26 1.60 1.21 0.80 0.25 1.60 0.46 2.20 1.03 1.60 1.32 1.20 0.46 2.20 0.54 2.20 0.45 2.20 2.07 0.80 0.76 2.20 1.31 2.20 2.16 2.20 2.03 1.60 1.47 3.00 1.62 2.20 1.75 0.50 0.42 0.50 0.25 0.50 0.37 2.20 1.31 1.60 0.53 0.50 0.48 0.80 0.25 2.20 0.51 1.20 0.67 1.60 1.54 0.80 0.55 1.20 0.30 1.60 0.51 3.00 2.69 3.00 1.34 0.50 0.57 0.80 0.92 3.00 0.96 2.20 1.27 1.60 1.18 1.20 1.44 2.20 2.00 0.50 0.32 0.50 0.25 1.60 1.51 3.00 1.56 1.20 0.70 0.50 0.46 1.60 2.42 3.00 4.63 0.50 0.25 2.20 2.87 2.20 3.46 0.50 0.50 1.60 1.12 0.80 0.60 0.50 0.34 0.50 0.63 0.80 1.43 1.20 1.83 3.00 2.17 2.20 2.12 1.20 0.58 3.00 1.69 2.20 1.54 2.20 2.69 1.20 0.88 3.00 4.49 0.80 1.15 0.50 1.11 0.80 1.05"/>
<line x1="86.20" y1="101.63" x2="344.80" y2="101.63" stroke="#7796d0" stroke-opacity="0.7" stroke-width="0.5" stroke-dasharray="1.20 0.35 0.80 0.37 1.20 0.33 3.00 0.61 0.80 0.36 1.60 0.73 3.00 2.00 0.50 0.32 3.00 1.10 1.60 0.73 1.20 0.67 1.20 0.33 3.00 1.74 1.60 1.19 0.50 0.38 1.20 0.31 0.50 0.29 0.50 0.25 1.20 0.82 1.20 0.95 3.00 0.90 2.20 0.88 3.00 1.02 2.20 1.11 1.60 0.29 2.20 1.07 1.20 0.78 3.00 2.38 0.80 0.51 3.00 2.27 2.20 1.13 3.00 2.77 3.00 1.11 0.50 0.31 2.20 1.39 1.20 0.33 0.80 0.40 1.60 0.71 1.60 0.77 2.20 2.10 0.80 0.25 1.20 0.30 0.50 0.32 0.80 0.44 1.20 0.38 1.60 1.24 2.20 2.23 2.20 1.04 1.60 1.86 3.00 3.51 2.20 1.65 1.60 0.73 1.60 1.45 1.20 0.58 0.80 0.94 0.80 0.70 2.20 1.30 2.20 2.14 2.20 1.18 3.00 2.11 1.20 0.64 3.00 1.29 0.80 0.37 1.60 1.55 1.20 0.39 0.80 0.77 0.50 0.25 0.50 0.27 0.80 0.46 0.80 1.20 3.00 4.00 1.20 1.89 3.00 4.73 1.20 1.59 3.00 2.27 3.00 5.08 3.00 4.67 0.50 0.58 3.00 5.26 0.80 1.21 1.60 1.94 2.20 2.11 0.80 0.65 0.50 0.69 0.50 1.00 3.00 1.67 0.80 0.51 0.50 0.44 1.60 3.27 1.60 1.63 1.60 2.11"/>
<line x1="43.80" y1="100.22" x2="83.10" y2="100.22" stroke="#6487c6" stroke-opacity="1.0" stroke-width="1.0" stroke-dasharray="2.20 1.38 2.20 0.37 0.50 0.25 1.20 0.25 0.50 0.25 2.20 1.02 2.20 0.29 2.20 0.51 2.20 0.79 0.50 0.25 0.50 0.25 0.80 0.25 0.50 0.25 0.80 0.25 2.20 1.23 3.00 1.94 1.20 0.47 1.20 0.76 1.60 0.70 1.20 0.25 0.50 0.27 0.50 0.25 1.60 0.96"/>
<line x1="43.80" y1="100.32" x2="83.10" y2="100.32" stroke="#5479bb" stroke-opacity="0.7" stroke-width="0.5" stroke-dasharray="2.20 0.92 0.80 0.52 2.20 1.31 0.50 0.25 1.20 0.46 1.20 0.73 1.60 0.46 0.80 0.55 1.20 0.67 0.50 0.25 1.60 0.38 1.20 0.57 2.20 0.48 2.20 1.59 1.20 0.74 0.50 0.25 0.50 0.25 3.00 1.58 2.20 0.39 2.20 0.51 1.20 0.54 2.20 0.42"/>
<line x1="86.20" y1="100.22" x2="344.80" y2="100.22" stroke="#6487c6" stroke-opacity="1.0" stroke-width="1.0" stroke-dasharray="2.20 1.12 3.00 0.50 1.20 0.56 1.60 1.06 1.60 0.41 2.20 1.33 0.80 0.32 2.20 1.09 1.20 0.40 0.50 0.25 3.00 2.12 1.20 0.25 0.50 0.41 1.60 1.19 0.50 0.44 2.20 1.35 0.80 0.69 1.20 0.60 2.20 1.53 0.80 0.46 0.50 0.25 0.50 0.35 2.20 1.80 1.60 1.28 0.50 0.44 0.50 0.25 0.50 0.25 0.50 0.50 2.20 0.50 2.20 0.68 2.20 1.90 1.60 0.58 2.20 0.71 3.00 0.91 3.00 0.94 1.60 1.67 2.20 1.09 0.50 0.38 1.60 0.40 1.60 0.64 0.80 0.25 0.80 0.59 0.80 0.51 1.60 1.53 1.20 1.33 1.20 0.86 0.50 0.25 0.50 0.25 0.50 0.25 3.00 3.17 1.60 0.60 0.50 0.58 2.20 1.75 2.20 2.60 3.00 1.31 1.20 1.49 1.20 1.06 0.50 0.40 3.00 4.01 2.20 3.21 0.50 0.25 1.20 0.56 0.80 1.06 0.50 0.58 2.20 0.74 3.00 1.94 2.20 0.92 2.20 2.35 1.60 0.86 1.60 0.49 0.80 1.05 0.50 0.62 1.20 0.94 1.20 0.40 3.00 4.28 1.20 1.30 0.80 1.36 0.50 0.92 2.20 0.92 2.20 4.11 1.20 1.85 0.80 1.48 2.20 1.22 0.50 0.54 1.20 1.80 0.80 1.16 1.20 0.62 3.00 4.86 0.80 1.27 1.20 2.27 0.80 1.43 2.20 3.96 0.80 1.20 1.60 3.44 2.20 4.10 3.00 2.55 1.20 2.41 1.20 2.22"/>
<line x1="86.20" y1="100.10" x2="344.80" y2="100.10" stroke="#7796d0" stroke-opacity="0.7" stroke-width="0.5" stroke-dasharray="2.20 1.58 1.60 0.39 0.80 0.40 0.80 0.52 0.80 0.25 1.20 0.88 3.00 1.97 2.20 1.41 1.60 0.30 1.60 1.20 1.20 0.51 1.60 0.81 0.50 0.43 1.20 1.01 2.20 0.49 0.80 0.33 0.50 0.31 0.50 0.26 1.60 1.23 3.00 2.00 0.50 0.25 2.20 2.15 1.60 0.86 0.50 0.31 2.20 0.45 2.20 1.91 0.80 0.68 1.60 1.40 1.20 0.28 0.80 0.75 2.20 2.19 0.50 0.27 3.00 1.35 3.00 2.37 0.80 0.58 2.20 0.78 0.80 0.76 2.20 0.82 0.80 0.28 2.20 2.64 3.00 2.89 2.20 2.66 1.60 1.48 3.00 3.48 1.60 0.45 2.20 2.93 2.20 2.67 0.50 0.42 1.20 0.86 0.50 0.25 2.20 0.63 0.50 0.46 2.20 3.13 1.20 1.49 3.00 3.15 0.50 0.62 1.60 2.30 0.80 1.08 1.20 1.79 2.20 2.69 1.20 0.83 0.80 1.11 2.20 3.14 0.80 0.91 2.20 1.45 2.20 1.66 3.00 3.15 0.50 0.81 3.00 2.65 1.20 1.05 0.50 0.70 3.00 2.24 0.80 1.26 2.20 4.14 0.50 0.25 0.80 0.66 2.20 3.83 2.20 2.70 1.20 2.29 2.20 2.09 3.00 3.13 0.50 0.31 2.20 3.28 2.20 0.92 2.20 4.62 1.20 2.41 3.00 6.50"/>
<line x1="43.80" y1="98.80" x2="83.10" y2="98.80" stroke="#6487c6" stroke-opacity="1.0" stroke-width="1.0" stroke-dasharray="1.20 0.46 1.20 0.51 1.60 1.11 0.80 0.25 0.50 0.25 1.60 0.88 2.20 1.54 0.50 0.25 0.50 0.25 2.20 0.56 0.80 0.25 2.20 1.40 0.50 0.25 1.60 0.85 0.80 0.67 0.80 0.33 0.50 0.25 1.20 0.43 1.60 1.21 2.20 0.50 0.50 0.25 3.00 1.27 1.20 0.52 1.60 0.50"/>
<line x1="43.80" y1="99.03" x2="83.10" y2="99.03" stroke="#7796d0" stroke-opacity="0.7" stroke-width="0.5" stroke-dasharray="0.50 0.25 3.00 1.15 2.20 1.28 2.20 0.54 1.20 0.40 1.20 0.27 3.00 1.75 0.80 0.63 2.20 0.49 0.50 0.25 3.00 2.05 0.80 0.54 0.80 0.52 2.20 1.65 0.50 0.31 0.50 0.43 0.50 0.25 1.60 1.26 1.60 0.51 1.60 0.88"/>
<line x1="86.20" y1="98.80" x2="344.80" y2="98.80" stroke="#6487c6" stroke-opacity="1.0" stroke-width="1.0" stroke-dasharray="1.20 1.07 2.20 0.74 0.50 0.47 0.80 0.67 3.00 1.49 0.50 0.33 1.20 0.28 1.60 1.10 0.80 0.71 0.50 0.25 3.00 2.46 0.80 0.44 0.80 0.81 2.20 1.33 1.60 0.45 3.00 2.36 0.80 0.67 1.20 0.34 3.00 3.11 0.80 0.55 1.60 1.52 0.80 0.54 1.20 1.17 2.20 1.87 0.80 0.81 1.60 0.71 1.20 0.83 0.80 0.92 2.20 2.16 2.20 2.32 1.20 0.80 0.80 0.58 3.00 3.64 1.20 1.57 0.50 0.58 3.00 2.21 0.80 0.27 0.80 0.52 1.20 0.85 1.20 1.27 0.50 0.35 0.50 0.67 2.20 2.48 1.20 1.32 2.20 2.07 1.60 2.09 2.20 1.35 0.80 0.86 1.60 0.72 1.60 0.49 0.80 1.19 0.50 0.53 0.80 0.93 3.00 2.10 1.60 1.51 1.20 1.44 1.20 1.93 0.80 1.22 0.80 0.30 1.20 0.40 0.50 0.25 0.80 0.66 3.00 3.75 0.80 0.61 0.50 0.31 0.80 0.90 1.20 0.63 1.20 1.48 0.80 1.45 3.00 2.88 1.20 0.51 2.20 2.22 3.00 2.31 1.20 1.07 0.50 0.75 1.60 2.66 0.80 0.54 0.80 1.60 1.20 1.35 2.20 1.71 2.20 2.28 0.50 0.68 1.60 1.17 0.80 1.01 0.50 0.81 2.20 2.63 1.20 0.65 0.80 0.39 1.20 0.97 3.00 3.15 1.60 2.61 2.20 2.36 0.50 0.84 0.80 0.75 0.80 0.63 0.50 0.27 1.20 2.80 2.20 5.38 3.00 4.89"/>
<line x1="86.20" y1="98.78" x2="344.80" y2="98.78" stroke="#5479bb" stroke-opacity="0.7" stroke-width="0.5" stroke-dasharray="0.80 0.68 0.50 0.37 0.50 0.31 3.00 1.57 0.80 0.55 0.80 0.59 0.80 0.60 0.80 0.28 1.20 0.77 1.20 0.79 3.00 1.21 3.00 2.68 0.80 0.64 2.20 1.34 0.50 0.25 2.20 0.49 3.00 2.39 1.20 0.83 1.20 0.40 2.20 0.71 0.80 0.68 0.50 0.27 2.20 1.98 2.20 1.24 3.00 1.90 1.20 0.53 1.20 1.34 3.00 2.35 1.60 1.52 1.20 1.23 1.20 1.22 0.80 1.03 0.80 0.25 1.60 2.06 0.50 0.43 3.00 2.57 0.80 0.92 0.80 0.92 2.20 2.95 2.20 0.81 3.00 1.76 3.00 4.35 2.20 2.64 0.80 0.53 2.20 1.25 1.20 0.55 0.50 0.43 2.20 2.37 1.20 1.21 0.80 1.25 0.50 0.40 1.20 0.95 0.80 0.42 1.20 1.72 1.60 0.94 1.60 2.60 1.60 2.04 1.20 0.72 1.20 1.60 1.20 1.09 0.50 0.40 0.80 1.41 3.00 1.88 2.20 1.69 2.20 2.71 0.50 0.59 0.50 0.59 1.60 2.33 1.60 2.99 1.60 2.29 0.80 1.21 1.20 2.04 0.80 1.39 1.20 2.29 1.60 2.69 1.20 1.27 3.00 2.71 0.50 0.63 1.20 1.75 0.80 0.82 1.60 1.16 2.20 1.94 0.80 0.35 1.20 1.44 1.60 3.78 3.00 1.60 1.60 2.29 3.00 4.11 2.20 4.25 0.80 0.55 0.50 1.20"/>
<line x1="43.80" y1="97.38" x2="83.10" y2="97.38" stroke="#6487c6" stroke-opacity="1.0" stroke-width="1.0" stroke-dasharray="2.20 0.57 0.80 0.62 0.80 0.72 1.20 0.57 2.20 1.71 1.20 0.88 1.60 0.37 0.80 0.51 3.00 0.88 3.00 1.59 3.00 0.91 3.00 1.83 2.20 1.22 1.20 0.25 1.20 0.66 1.60 0.93 2.20 2.12"/>
<line x1="43.80" y1="97.45" x2="83.10" y2="97.45" stroke="#5479bb" stroke-opacity="0.7" stroke-width="0.5" stroke-dasharray="0.80 0.50 0.80 0.36 3.00 0.81 2.20 0.79 0.80 0.73 0.50 0.46 0.50 0.25 0.50 0.44 3.00 2.54 2.20 0.54 1.60 0.52 1.60 0.49 1.20 0.70 1.20 0.93 1.60 1.38 2.20 0.99 3.00 1.95 1.60 0.58 0.80 0.72"/>
<line x1="86.20" y1="97.38" x2="344.80" y2="97.38" stroke="#6487c6" stroke-opacity="1.0" stroke-width="1.0" stroke-dasharray="0.50 0.25 0.80 0.31 2.20 1.49 2.20 0.54 1.20 0.68 0.50 0.44 1.20 1.32 1.20 0.44 2.20 1.38 1.20 0.36 1.20 0.86 1.60 0.67 1.20 1.18 1.20 0.47 1.20 0.29 0.80 0.50 1.60 0.89 1.20 1.35 1.20 1.07 3.00 0.73 1.60 1.81 0.50 0.25 0.80 0.69 3.00 2.11 1.20 1.40 2.20 0.88 2.20 1.38 1.20 1.62 1.60 2.01 0.50 0.25 1.20 0.58 0.50 0.31 0.50 0.36 1.60 0.99 0.50 0.40 1.60 0.48 1.60 2.05 1.60 1.38 3.00 3.76 0.80 0.49 1.20 0.76 0.80 1.27 0.80 0.45 3.00 3.61 1.60 2.37 3.00 3.34 3.00 2.37 1.60 1.24 0.80 1.30 2.20 1.39 0.80 0.43 2.20 1.11 3.00 1.34 0.80 1.36 0.80 0.80 0.50 0.53 1.20 1.51 2.20 1.96 3.00 1.89 0.50 0.27 3.00 5.33 1.60 2.19 0.50 0.28 2.20 1.77 3.00 3.32 0.50 0.45 2.20 2.87 1.60 0.68 0.80 1.11 0.80 0.69 2.20 0.93 1.60 2.63 0.50 0.89 1.60 2.94 1.20 1.85 0.80 1.58 0.80 1.23 1.20 0.61 0.50 1.17 2.20 5.31 0.80 1.48 2.20 3.75 0.50 0.88 0.50 0.50 1.60 1.43 1.20 0.76 3.00 7.99 1.60 2.60 3.00 7.12 0.80 1.36"/>
<line x1="86.20" y1="97.59" x2="344.80" y2="97.59" stroke="#5479bb" stroke-opacity="0.7" stroke-width="0.5" stroke-dasharray="2.20 1.18 1.20 1.32 1.60 1.53 1.60 1.35 1.20 0.39 1.20 0.68 0.50 0.25 1.60 0.92 3.00 1.76 0.80 0.97 1.60 0.64 2.20 2.20 3.00 1.35 0.80 0.87 0.50 0.43 0.50 0.42 2.20 2.72 1.60 0.58 2.20 2.27 0.80 0.71 1.20 0.72 2.20 0.88 0.80 0.84 0.80 0.88 0.50 0.69 0.80 0.44 1.20 0.96 0.50 0.25 1.20 0.94 2.20 0.94 3.00 3.70 1.20 0.62 0.80 0.25 2.20 1.31 0.50 0.59 2.20 2.28 1.60 1.80 0.80 0.63 1.60 2.15 3.00 4.66 0.80 0.48 0.80 0.50 0.80 0.29 1.60 2.02 1.60 1.57 3.00 3.02 1.20 0.69 0.50 0.83 1.20 1.43 1.20 1.06 1.60 1.75 0.50 0.25 0.50 0.25 0.50 0.58 1.20 2.12 0.50 0.37 1.60 2.11 1.60 1.48 3.00 4.42 0.80 0.42 0.80 0.41 0.80 0.42 1.20 2.19 0.50 0.71 2.20 1.90 3.00 5.56 1.20 2.46 2.20 1.71 1.20 2.04 1.20 1.84 0.80 0.42 2.20 4.61 2.20 4.56 1.20 1.28 1.20 1.80 2.20 4.34 1.60 1.42 1.60 1.46 1.60 3.34 3.00 7.19 1.60 1.33 0.80 1.33 0.80 1.06 3.00 3.21 2.20 4.16 0.80 0.92 3.00 1.78"/>
<line x1="43.80" y1="95.96" x2="83.10" y2="95.96" stroke="#6487c6" stroke-opacity="1.0" stroke-width="1.0" stroke-dasharray="0.50 0.25 0.50 0.56 0.80 0.58 1.20 1.16 1.20 1.02 2.20 0.77 3.00 3.28 1.60 1.04 0.80 0.80 2.20 1.48 2.20 1.92 0.50 0.25 3.00 2.66 0.50 0.25 1.20 1.48 3.00 1.41 1.60 0.55"/>
<line x1="43.80" y1="95.80" x2="83.10" y2="95.80" stroke="#7796d0" stroke-opacity="0.7" stroke-width="0.5" stroke-dasharray="2.20 1.01 0.50 0.48 0.50 0.31 1.60 0.91 1.20 0.53 0.50 0.37 1.60 0.76 2.20 2.30 0.80 0.46 1.20 0.72 0.50 0.32 1.20 0.93 0.80 0.43 3.00 2.15 1.20 1.31 0.80 0.34 3.00 3.36 1.20 0.69 2.20 2.13"/>
<line x1="86.20" y1="95.96" x2="344.80" y2="95.96" stroke="#6487c6" stroke-opacity="1.0" stroke-width="1.0" stroke-dasharray="0.50 0.58 0.50 0.56 0.80 0.55 1.60 1.69 0.50 0.48 2.20 3.00 3.00 3.79 0.50 0.39 1.60 0.49 0.50 0.25 3.00 1.30 1.60 0.62 2.20 1.27 0.80 0.32 0.50 0.71 0.80 0.71 0.50 0.25 1.60 1.46 3.00 0.87 3.00 4.12 3.00 2.42 1.20 1.43 2.20 2.80 1.20 0.48 2.20 3.32 2.20 2.90 2.20 3.60 0.80 0.61 2.20 2.63 3.00 2.63 2.20 3.02 1.60 2.60 1.60 3.04 1.20 0.45 1.20 1.04 1.60 1.10 2.20 3.21 3.00 5.95 1.60 1.27 1.20 2.19 3.00 5.98 1.20 1.18 0.50 1.09 1.60 2.73 0.50 0.28 3.00 2.73 1.60 0.67 0.50 0.28 0.50 0.29 1.60 1.87 1.20 1.01 1.20 2.61 0.80 1.00 0.80 0.70 3.00 4.42 0.50 0.57 1.20 2.24 1.20 1.27 3.00 2.42 1.60 2.94 0.80 2.06 2.20 3.73 0.80 1.11 0.80 1.03 3.00 7.37 0.80 1.58 1.20 1.70 1.20 1.78 1.60 3.90 1.20 1.97 1.60 3.06 0.80 1.02 1.20 2.77 0.80 0.58 2.20 6.39 1.60 2.47"/>
<line x1="86.20" y1="95.94" x2="344.80" y2="95.94" stroke="#7796d0" stroke-opacity="0.7" stroke-width="0.5" stroke-dasharray="3.00 1.38 2.20 1.36 3.00 3.33 0.50 0.49 0.80 0.81 2.20 1.10 0.50 0.25 2.20 2.81 2.20 2.35 1.60 2.05 2.20 3.00 1.60 0.91 0.50 0.25 0.80 0.25 1.60 2.21 3.00 2.95 2.20 3.26 2.20 2.73 0.50 0.69 0.80 0.81 1.20 1.15 3.00 4.39 3.00 3.14 2.20 2.30 0.80 1.31 0.80 1.38 1.60 1.07 0.80 1.45 3.00 4.47 0.80 0.30 0.50 0.49 0.50 0.39 3.00 1.08 3.00 5.66 2.20 4.36 1.60 0.60 0.50 0.29 0.50 0.97 1.20 0.64 1.20 1.26 1.20 0.63 0.80 1.69 3.00 1.98 0.80 1.72 0.50 0.70 1.20 0.94 0.80 1.27 1.60 1.65 1.20 1.45 2.20 4.63 1.60 2.45 1.60 3.76 1.60 3.38 0.50 1.16 2.20 1.88 0.80 0.82 2.20 2.41 1.60 3.13 0.50 0.40 0.80 2.02 1.20 2.63 1.60 1.78 3.00 3.59 3.00 7.46 0.50 0.48 3.00 5.96 2.20 4.18 2.20 5.84 0.80 2.08 1.60 3.50 0.50 1.33 1.60 3.68 1.60 2.66"/>
<line x1="43.80" y1="94.54" x2="83.10" y2="94.54" stroke="#6487c6" stroke-opacity="1.0" stroke-width="1.0" stroke-dasharray="3.00 1.84 0.50 0.32 1.20 1.64 2.20 1.36 0.80 0.65 3.00 3.58 1.20 0.78 0.50 0.26 2.20 2.17 0.80 0.44 2.20 1.49 3.00 1.57 1.60 1.44 1.20 1.80 1.20 1.49"/>
<line x1="43.80" y1="94.26" x2="83.10" y2="94.26" stroke="#7796d0" stroke-opacity="0.7" stroke-width="0.5" stroke-dasharray="0.50 0.38 0.80 0.98 0.80 0.47 2.20 2.83 1.60 1.41 0.50 0.25 3.00 4.24 0.50 0.26 3.00 0.96 3.00 3.31 3.00 0.82 0.80 0.80 1.60 0.76 1.60 2.42 1.20 0.93"/>
<line x1="86.20" y1="94.54" x2="344.80" y2="94.54" stroke="#6487c6" stroke-opacity="1.0" stroke-width="1.0" stroke-dasharray="0.50 0.61 1.60 1.38 1.20 0.34 0.50 0.54 3.00 2.65 3.00 4.37 3.00 2.90 0.80 0.69 0.80 0.74 1.20 1.33 0.50 0.68 3.00 1.63 1.20 1.79 1.20 0.63 0.50 0.25 2.20 3.70 1.20 1.75 0.50 0.25 3.00 2.21 2.20 1.52 3.00 4.91 1.20 2.23 0.50 0.26 1.20 1.08 3.00 3.22 2.20 3.09 0.50 1.03 0.80 1.47 3.00 5.22 0.80 0.56 1.60 2.67 1.20 1.07 0.50 0.74 0.80 1.25 1.20 2.17 1.20 2.55 0.50 0.99 3.00 3.46 1.60 1.14 2.20 1.61 0.80 1.33 0.80 1.35 3.00 6.16 0.80 1.58 0.50 0.35 3.00 3.74 3.00 5.87 1.60 3.34 2.20 1.90 1.60 3.57 0.50 1.13 1.20 1.76 1.60 1.69 0.80 1.73 0.80 1.36 1.60 2.00 3.00 2.42 2.20 4.76 0.80 2.48 3.00 8.97 2.20 4.53 0.50 1.19 3.00 9.66 2.20 7.21 0.50 0.83 3.00 10.13"/>
<line x1="86.20" y1="94.59" x2="344.80" y2="94.59" stroke="#5479bb" stroke-opacity="0.7" stroke-width="0.5" stroke-dasharray="1.60 0.79 1.20 0.95 0.80 0.96 2.20 2.13 2.20 1.48 2.20 1.81 3.00 3.56 1.60 2.24 0.80 1.38 3.00 1.43 0.80 0.76 1.60 0.97 1.20 1.87 0.80 1.43 1.20 2.00 3.00 1.97 0.50 0.73 3.00 5.38 2.20 2.20 3.00 2.10 3.00 5.88 3.00 4.20 3.00 6.02 1.60 0.88 2.20 4.72 0.50 0.77 2.20 1.12 2.20 4.08 3.00 4.05 1.60 2.44 1.60 2.66 2.20 2.92 0.50 0.83 0.80 1.68 1.20 2.43 3.00 5.23 0.50 0.25 0.80 0.68 3.00 1.55 0.80 0.98 0.50 1.33 0.80 1.14 0.50 0.65 2.20 5.40 3.00 5.70 3.00 8.41 0.50 0.85 1.60 2.25 1.20 2.65 1.20 3.48 1.20 3.30 0.80 1.11 0.50 0.79 1.60 3.13 1.20 2.78 0.80 2.32 3.00 3.16 0.80 2.07 1.20 2.93 1.20 1.29 2.20 6.28 0.80 0.80 1.20 3.37 3.00 5.64"/>
<line x1="43.80" y1="93.12" x2="83.10" y2="93.12" stroke="#6487c6" stroke-opacity="1.0" stroke-width="1.0" stroke-dasharray="3.00 1.84 3.00 3.45 3.00 4.29 3.00 5.10 1.20 0.96 2.20 2.56 0.80 1.33 2.20 1.50 1.20 0.65 0.80 0.30 1.20 1.47"/>
<line x1="43.80" y1="93.27" x2="83.10" y2="93.27" stroke="#7796d0" stroke-opacity="0.7" stroke-width="0.5" stroke-dasharray="0.50 0.44 0.50 0.74 2.20 3.65 2.20 2.16 2.20 1.98 0.80 0.44 2.20 2.96 0.80 0.63 1.60 2.24 1.60 2.68 1.20 1.79 0.80 0.71 0.50 0.71 1.20 1.10 3.00 1.05"/>
<line x1="86.20" y1="93.12" x2="344.80" y2="93.12" stroke="#6487c6" stroke-opacity="1.0" stroke-width="1.0" stroke-dasharray="0.50 0.43 3.00 3.59 2.20 0.87 1.20 2.01 2.20 2.21 3.00 3.89 1.20 0.92 3.00 5.08 0.80 0.75 3.00 4.18 2.20 2.73 3.00 1.34 3.00 4.40 1.60 1.53 2.20 4.54 1.20 2.61 3.00 4.11 0.80 1.27 1.60 2.14 1.20 0.90 1.20 2.40 3.00 1.55 2.20 1.70 0.50 0.95 1.60 1.09 0.50 0.74 0.80 0.83 2.20 2.97 1.60 2.82 1.60 0.90 2.20 1.11 0.80 0.63 0.50 1.08 1.60 3.98 2.20 4.05 1.60 2.93 3.00 4.02 0.50 1.27 1.20 1.82 0.80 0.62 1.60 1.34 0.50 0.94 1.60 1.42 1.20 0.86 1.20 3.39 1.20 3.22 2.20 4.21 0.50 0.29 1.60 0.99 1.20 0.85 0.50 0.58 0.80 1.78 1.60 3.43 0.80 2.67 0.80 0.61 3.00 1.96 2.20 2.60 2.20 1.78 2.20 1.89 1.60 1.12 1.20 3.26 2.20 3.53 3.00 5.42 3.00 8.65 3.00 3.90 1.20 4.72"/>
<line x1="86.20" y1="92.85" x2="344.80" y2="92.85" stroke="#7796d0" stroke-opacity="0.7" stroke-width="0.5" stroke-dasharray="0.80 0.91 0.80 1.14 1.60 2.33 0.50 0.25 3.00 5.74 0.80 0.48 1.20 2.09 2.20 3.75 1.60 2.75 1.60 0.96 1.20 0.92 1.20 1.67 0.80 1.00 2.20 3.88 0.80 0.81 1.20 1.51 0.50 0.36 0.80 0.53 1.60 3.40 2.20 1.49 1.60 1.28 3.00 3.32 3.00 5.99 0.80 0.35 1.20 0.54 3.00 7.17 0.50 0.48 0.80 1.79 0.50 0.85 0.50 0.34 2.20 3.28 1.20 2.15 1.60 1.31 0.80 1.66 0.50 0.82 0.50 1.07 1.60 2.75 1.20 1.76 1.60 1.24 1.20 0.63 0.80 1.99 1.20 2.90 1.20 1.32 1.60 1.24 0.50 0.74 1.20 2.02 0.80 1.10 1.60 1.92 2.20 4.61 1.20 3.32 0.50 1.16 3.00 8.53 1.60 2.71 0.80 1.80 2.20 3.35 1.60 4.94 1.60 3.02 3.00 7.17 0.50 1.17 0.50 0.65 0.80 2.78 0.80 0.94 1.60 5.80 1.60 1.71 2.20 2.60 1.60 3.28 3.00 7.85 2.20 4.19 3.00 3.17 1.20 1.58"/>
<line x1="43.60" y1="92.00" x2="43.60" y2="121.60" stroke="#333" stroke-width="0.8" />
<line x1="40.60" y1="98.90" x2="43.60" y2="98.90" stroke="#333" stroke-width="0.7" />
<text transform="translate(36.30,101.60) scale(0.93,1)" font-size="8.19" text-anchor="end" >70</text>
<line x1="40.60" y1="106.00" x2="43.60" y2="106.00" stroke="#333" stroke-width="0.7" />
<text transform="translate(36.30,108.70) scale(0.93,1)" font-size="8.19" text-anchor="end" >65</text>
<line x1="40.60" y1="113.20" x2="43.60" y2="113.20" stroke="#333" stroke-width="0.7" />
<text transform="translate(36.30,115.90) scale(0.93,1)" font-size="8.19" text-anchor="end" >60</text>
<line x1="40.60" y1="120.10" x2="43.60" y2="120.10" stroke="#333" stroke-width="0.7" />
<text transform="translate(36.30,122.80) scale(0.93,1)" font-size="8.19" text-anchor="end" >55</text>
<rect x="43.50" y="127.90" width="39.60" height="15.00" fill="#285b82" />
<rect x="43.50" y="127.90" width="0.45" height="15.00" fill="#0f2638" />
<rect x="46.20" y="127.90" width="0.85" height="15.00" fill="#0f2638" />
<rect x="47.00" y="127.90" width="0.65" height="15.00" fill="#1a3f5e" />
<rect x="48.80" y="127.90" width="1.05" height="15.00" fill="#4a91c8" />
<rect x="53.70" y="127.90" width="1.25" height="15.00" fill="#0f2638" />
<rect x="55.30" y="127.90" width="0.85" height="15.00" fill="#1a3f5e" />
<rect x="57.90" y="127.90" width="1.25" height="15.00" fill="#0f2638" />
<rect x="59.10" y="127.90" width="0.65" height="15.00" fill="#0f2638" />
<rect x="59.70" y="127.90" width="0.45" height="15.00" fill="#0f2638" />
<rect x="60.10" y="127.90" width="0.65" height="15.00" fill="#0f2638" />
<rect x="60.70" y="127.90" width="1.25" height="15.00" fill="#1a3f5e" />
<rect x="64.70" y="127.90" width="1.55" height="15.00" fill="#1a3f5e" />
<rect x="67.00" y="127.90" width="0.85" height="15.00" fill="#1a3f5e" />
<rect x="67.80" y="127.90" width="1.05" height="15.00" fill="#0f2638" />
<rect x="69.80" y="127.90" width="1.05" height="15.00" fill="#4a91c8" />
<rect x="70.80" y="127.90" width="0.65" height="15.00" fill="#1a3f5e" />
<rect x="71.40" y="127.90" width="1.05" height="15.00" fill="#1a3f5e" />
<rect x="72.40" y="127.90" width="0.85" height="15.00" fill="#4a91c8" />
<rect x="74.20" y="127.90" width="1.05" height="15.00" fill="#1a3f5e" />
<rect x="76.70" y="127.90" width="1.55" height="15.00" fill="#1a3f5e" />
<rect x="78.20" y="127.90" width="1.55" height="15.00" fill="#0f2638" />
<rect x="81.10" y="127.90" width="1.25" height="15.00" fill="#0f2638" />
<rect x="82.30" y="127.90" width="0.85" height="15.00" fill="#0f2638" />
<rect x="86.20" y="127.90" width="258.60" height="15.00" fill="#285b82" />
<rect x="87.70" y="127.90" width="1.25" height="15.00" fill="#4a91c8" />
<rect x="88.90" y="127.90" width="1.55" height="15.00" fill="#4a91c8" />
<rect x="90.40" y="127.90" width="1.05" height="15.00" fill="#1a3f5e" />
<rect x="91.40" y="127.90" width="0.65" height="15.00" fill="#4a91c8" />
<rect x="95.40" y="127.90" width="0.45" height="15.00" fill="#0f2638" />
<rect x="95.80" y="127.90" width="1.55" height="15.00" fill="#0f2638" />
<rect x="97.30" y="127.90" width="1.25" height="15.00" fill="#1a3f5e" />
<rect x="100.10" y="127.90" width="0.45" height="15.00" fill="#4a91c8" />
<rect x="102.00" y="127.90" width="0.45" height="15.00" fill="#4a91c8" />
<rect x="102.40" y="127.90" width="0.65" height="15.00" fill="#1a3f5e" />
<rect x="103.00" y="127.90" width="0.45" height="15.00" fill="#0f2638" />
<rect x="103.40" y="127.90" width="0.45" height="15.00" fill="#0f2638" />
<rect x="105.30" y="127.90" width="0.85" height="15.00" fill="#1a3f5e" />
<rect x="106.70" y="127.90" width="1.25" height="15.00" fill="#4a91c8" />
<rect x="107.90" y="127.90" width="1.05" height="15.00" fill="#4a91c8" />
<rect x="108.90" y="127.90" width="0.65" height="15.00" fill="#1a3f5e" />
<rect x="109.50" y="127.90" width="0.45" height="15.00" fill="#0f2638" />
<rect x="109.90" y="127.90" width="1.25" height="15.00" fill="#4a91c8" />
<rect x="111.10" y="127.90" width="1.55" height="15.00" fill="#0f2638" />
<rect x="112.60" y="127.90" width="0.85" height="15.00" fill="#4a91c8" />
<rect x="113.40" y="127.90" width="0.85" height="15.00" fill="#4a91c8" />
<rect x="116.20" y="127.90" width="1.25" height="15.00" fill="#4a91c8" />
<rect x="119.60" y="127.90" width="0.45" height="15.00" fill="#1a3f5e" />
<rect x="120.00" y="127.90" width="0.65" height="15.00" fill="#1a3f5e" />
<rect x="120.60" y="127.90" width="1.05" height="15.00" fill="#1a3f5e" />
<rect x="121.60" y="127.90" width="0.85" height="15.00" fill="#0f2638" />
<rect x="122.40" y="127.90" width="0.85" height="15.00" fill="#0f2638" />
<rect x="124.40" y="127.90" width="1.55" height="15.00" fill="#0f2638" />
<rect x="127.10" y="127.90" width="1.55" height="15.00" fill="#0f2638" />
<rect x="128.60" y="127.90" width="0.45" height="15.00" fill="#0f2638" />
<rect x="129.00" y="127.90" width="0.65" height="15.00" fill="#0f2638" />
<rect x="129.60" y="127.90" width="1.55" height="15.00" fill="#0f2638" />
<rect x="132.60" y="127.90" width="0.65" height="15.00" fill="#0f2638" />
<rect x="133.20" y="127.90" width="1.05" height="15.00" fill="#0f2638" />
<rect x="134.20" y="127.90" width="0.45" height="15.00" fill="#4a91c8" />
<rect x="137.80" y="127.90" width="0.85" height="15.00" fill="#1a3f5e" />
<rect x="138.60" y="127.90" width="0.45" height="15.00" fill="#0f2638" />
<rect x="139.00" y="127.90" width="1.05" height="15.00" fill="#1a3f5e" />
<rect x="140.00" y="127.90" width="0.45" height="15.00" fill="#1a3f5e" />
<rect x="140.40" y="127.90" width="0.45" height="15.00" fill="#0f2638" />
<rect x="140.80" y="127.90" width="0.45" height="15.00" fill="#0f2638" />
<rect x="141.20" y="127.90" width="0.65" height="15.00" fill="#0f2638" />
<rect x="141.80" y="127.90" width="0.45" height="15.00" fill="#1a3f5e" />
<rect x="142.20" y="127.90" width="1.05" height="15.00" fill="#1a3f5e" />
<rect x="145.60" y="127.90" width="1.05" height="15.00" fill="#1a3f5e" />
<rect x="146.60" y="127.90" width="0.45" height="15.00" fill="#4a91c8" />
<rect x="147.40" y="127.90" width="1.25" height="15.00" fill="#4a91c8" />
<rect x="149.00" y="127.90" width="1.05" height="15.00" fill="#1a3f5e" />
<rect x="151.20" y="127.90" width="0.45" height="15.00" fill="#4a91c8" />
<rect x="152.40" y="127.90" width="0.85" height="15.00" fill="#1a3f5e" />
<rect x="153.20" y="127.90" width="1.55" height="15.00" fill="#1a3f5e" />
<rect x="154.70" y="127.90" width="0.45" height="15.00" fill="#1a3f5e" />
<rect x="156.60" y="127.90" width="1.05" height="15.00" fill="#0f2638" />
<rect x="157.60" y="127.90" width="1.55" height="15.00" fill="#1a3f5e" />
<rect x="159.70" y="127.90" width="1.25" height="15.00" fill="#0f2638" />
<rect x="160.90" y="127.90" width="0.85" height="15.00" fill="#0f2638" />
<rect x="162.50" y="127.90" width="0.45" height="15.00" fill="#0f2638" />
<rect x="162.90" y="127.90" width="1.05" height="15.00" fill="#0f2638" />
<rect x="163.90" y="127.90" width="1.25" height="15.00" fill="#1a3f5e" />
<rect x="165.10" y="127.90" width="1.55" height="15.00" fill="#1a3f5e" />
<rect x="166.60" y="127.90" width="0.85" height="15.00" fill="#1a3f5e" />
<rect x="167.40" y="127.90" width="0.45" height="15.00" fill="#0f2638" />
<rect x="167.80" y="127.90" width="0.45" height="15.00" fill="#0f2638" />
<rect x="169.60" y="127.90" width="0.45" height="15.00" fill="#4a91c8" />
<rect x="172.50" y="127.90" width="0.85" height="15.00" fill="#1a3f5e" />
<rect x="173.30" y="127.90" width="1.05" height="15.00" fill="#0f2638" />
<rect x="174.30" y="127.90" width="0.85" height="15.00" fill="#0f2638" />
<rect x="178.80" y="127.90" width="1.55" height="15.00" fill="#1a3f5e" />
<rect x="180.30" y="127.90" width="0.65" height="15.00" fill="#0f2638" />
<rect x="180.90" y="127.90" width="1.25" height="15.00" fill="#0f2638" />
<rect x="185.80" y="127.90" width="1.25" height="15.00" fill="#0f2638" />
<rect x="187.00" y="127.90" width="0.85" height="15.00" fill="#0f2638" />
<rect x="187.80" y="127.90" width="1.25" height="15.00" fill="#0f2638" />
<rect x="191.90" y="127.90" width="1.55" height="15.00" fill="#0f2638" />
<rect x="193.40" y="127.90" width="0.85" height="15.00" fill="#1a3f5e" />
<rect x="195.70" y="127.90" width="1.55" height="15.00" fill="#1a3f5e" />
<rect x="197.20" y="127.90" width="0.65" height="15.00" fill="#1a3f5e" />
<rect x="197.80" y="127.90" width="0.45" height="15.00" fill="#0f2638" />
<rect x="198.20" y="127.90" width="1.05" height="15.00" fill="#0f2638" />
<rect x="199.20" y="127.90" width="1.25" height="15.00" fill="#0f2638" />
<rect x="200.40" y="127.90" width="1.25" height="15.00" fill="#0f2638" />
<rect x="201.60" y="127.90" width="0.65" height="15.00" fill="#1a3f5e" />
<rect x="202.20" y="127.90" width="1.55" height="15.00" fill="#0f2638" />
<rect x="205.70" y="127.90" width="1.05" height="15.00" fill="#1a3f5e" />
<rect x="208.10" y="127.90" width="0.65" height="15.00" fill="#1a3f5e" />
<rect x="208.70" y="127.90" width="0.45" height="15.00" fill="#1a3f5e" />
<rect x="209.10" y="127.90" width="1.05" height="15.00" fill="#0f2638" />
<rect x="214.70" y="127.90" width="1.55" height="15.00" fill="#0f2638" />
<rect x="216.20" y="127.90" width="1.55" height="15.00" fill="#0f2638" />
<rect x="217.70" y="127.90" width="1.25" height="15.00" fill="#0f2638" />
<rect x="218.90" y="127.90" width="1.55" height="15.00" fill="#1a3f5e" />
<rect x="221.90" y="127.90" width="0.85" height="15.00" fill="#1a3f5e" />
<rect x="225.20" y="127.90" width="0.45" height="15.00" fill="#0f2638" />
<rect x="226.20" y="127.90" width="1.25" height="15.00" fill="#1a3f5e" />
<rect x="228.00" y="127.90" width="0.45" height="15.00" fill="#1a3f5e" />
<rect x="229.60" y="127.90" width="0.65" height="15.00" fill="#1a3f5e" />
<rect x="230.20" y="127.90" width="1.25" height="15.00" fill="#4a91c8" />
<rect x="232.40" y="127.90" width="0.65" height="15.00" fill="#0f2638" />
<rect x="233.00" y="127.90" width="1.55" height="15.00" fill="#1a3f5e" />
<rect x="234.50" y="127.90" width="0.85" height="15.00" fill="#1a3f5e" />
<rect x="235.30" y="127.90" width="0.65" height="15.00" fill="#1a3f5e" />
<rect x="236.50" y="127.90" width="0.45" height="15.00" fill="#1a3f5e" />
<rect x="236.90" y="127.90" width="1.05" height="15.00" fill="#1a3f5e" />
<rect x="239.40" y="127.90" width="1.25" height="15.00" fill="#1a3f5e" />
<rect x="242.10" y="127.90" width="1.05" height="15.00" fill="#0f2638" />
<rect x="243.10" y="127.90" width="1.25" height="15.00" fill="#1a3f5e" />
<rect x="244.30" y="127.90" width="0.45" height="15.00" fill="#4a91c8" />
<rect x="244.70" y="127.90" width="0.85" height="15.00" fill="#0f2638" />
<rect x="245.50" y="127.90" width="1.05" height="15.00" fill="#0f2638" />
<rect x="248.00" y="127.90" width="1.55" height="15.00" fill="#0f2638" />
<rect x="249.50" y="127.90" width="0.65" height="15.00" fill="#1a3f5e" />
<rect x="251.10" y="127.90" width="0.65" height="15.00" fill="#0f2638" />
<rect x="251.70" y="127.90" width="1.25" height="15.00" fill="#1a3f5e" />
<rect x="252.90" y="127.90" width="0.45" height="15.00" fill="#1a3f5e" />
<rect x="254.50" y="127.90" width="1.25" height="15.00" fill="#1a3f5e" />
<rect x="255.70" y="127.90" width="1.55" height="15.00" fill="#1a3f5e" />
<rect x="257.20" y="127.90" width="1.55" height="15.00" fill="#0f2638" />
<rect x="258.70" y="127.90" width="1.55" height="15.00" fill="#1a3f5e" />
<rect x="260.20" y="127.90" width="0.85" height="15.00" fill="#0f2638" />
<rect x="261.00" y="127.90" width="0.85" height="15.00" fill="#1a3f5e" />
<rect x="264.10" y="127.90" width="1.05" height="15.00" fill="#1a3f5e" />
<rect x="265.10" y="127.90" width="0.45" height="15.00" fill="#1a3f5e" />
<rect x="265.50" y="127.90" width="0.65" height="15.00" fill="#1a3f5e" />
<rect x="267.90" y="127.90" width="1.55" height="15.00" fill="#0f2638" />
<rect x="269.40" y="127.90" width="0.45" height="15.00" fill="#0f2638" />
<rect x="269.80" y="127.90" width="1.05" height="15.00" fill="#4a91c8" />
<rect x="270.80" y="127.90" width="1.25" height="15.00" fill="#1a3f5e" />
<rect x="272.00" y="127.90" width="0.45" height="15.00" fill="#0f2638" />
<rect x="273.40" y="127.90" width="0.65" height="15.00" fill="#1a3f5e" />
<rect x="274.00" y="127.90" width="0.45" height="15.00" fill="#1a3f5e" />
<rect x="274.40" y="127.90" width="0.85" height="15.00" fill="#0f2638" />
<rect x="277.20" y="127.90" width="1.55" height="15.00" fill="#1a3f5e" />
<rect x="278.70" y="127.90" width="1.55" height="15.00" fill="#0f2638" />
<rect x="280.20" y="127.90" width="0.85" height="15.00" fill="#1a3f5e" />
<rect x="281.40" y="127.90" width="1.05" height="15.00" fill="#0f2638" />
<rect x="283.90" y="127.90" width="0.65" height="15.00" fill="#1a3f5e" />
<rect x="284.50" y="127.90" width="0.65" height="15.00" fill="#0f2638" />
<rect x="287.30" y="127.90" width="1.55" height="15.00" fill="#1a3f5e" />
<rect x="290.30" y="127.90" width="1.25" height="15.00" fill="#4a91c8" />
<rect x="293.00" y="127.90" width="1.55" height="15.00" fill="#1a3f5e" />
<rect x="297.50" y="127.90" width="1.55" height="15.00" fill="#1a3f5e" />
<rect x="300.20" y="127.90" width="0.45" height="15.00" fill="#1a3f5e" />
<rect x="300.60" y="127.90" width="1.05" height="15.00" fill="#1a3f5e" />
<rect x="302.40" y="127.90" width="0.85" height="15.00" fill="#1a3f5e" />
<rect x="303.60" y="127.90" width="0.65" height="15.00" fill="#1a3f5e" />
<rect x="304.20" y="127.90" width="1.05" height="15.00" fill="#0f2638" />
<rect x="305.20" y="127.90" width="0.45" height="15.00" fill="#0f2638" />
<rect x="305.60" y="127.90" width="0.65" height="15.00" fill="#1a3f5e" />
<rect x="307.70" y="127.90" width="1.05" height="15.00" fill="#0f2638" />
<rect x="308.70" y="127.90" width="0.85" height="15.00" fill="#0f2638" />
<rect x="309.50" y="127.90" width="1.25" height="15.00" fill="#1a3f5e" />
<rect x="310.70" y="127.90" width="0.85" height="15.00" fill="#1a3f5e" />
<rect x="311.50" y="127.90" width="0.65" height="15.00" fill="#1a3f5e" />
<rect x="313.10" y="127.90" width="0.65" height="15.00" fill="#1a3f5e" />
<rect x="313.70" y="127.90" width="0.65" height="15.00" fill="#1a3f5e" />
<rect x="314.30" y="127.90" width="0.85" height="15.00" fill="#0f2638" />
<rect x="315.10" y="127.90" width="0.65" height="15.00" fill="#0f2638" />
<rect x="316.30" y="127.90" width="0.45" height="15.00" fill="#1a3f5e" />
<rect x="317.50" y="127.90" width="1.25" height="15.00" fill="#0f2638" />
<rect x="318.70" y="127.90" width="0.65" height="15.00" fill="#0f2638" />
<rect x="319.30" y="127.90" width="0.45" height="15.00" fill="#1a3f5e" />
<rect x="319.70" y="127.90" width="0.85" height="15.00" fill="#0f2638" />
<rect x="320.50" y="127.90" width="1.25" height="15.00" fill="#4a91c8" />
<rect x="321.70" y="127.90" width="0.45" height="15.00" fill="#1a3f5e" />
<rect x="322.10" y="127.90" width="1.55" height="15.00" fill="#4a91c8" />
<rect x="323.60" y="127.90" width="1.05" height="15.00" fill="#0f2638" />
<rect x="324.60" y="127.90" width="0.45" height="15.00" fill="#1a3f5e" />
<rect x="325.00" y="127.90" width="1.05" height="15.00" fill="#1a3f5e" />
<rect x="326.00" y="127.90" width="0.85" height="15.00" fill="#1a3f5e" />
<rect x="326.80" y="127.90" width="1.25" height="15.00" fill="#4a91c8" />
<rect x="328.00" y="127.90" width="1.25" height="15.00" fill="#1a3f5e" />
<rect x="331.70" y="127.90" width="1.05" height="15.00" fill="#0f2638" />
<rect x="332.70" y="127.90" width="1.05" height="15.00" fill="#1a3f5e" />
<rect x="335.10" y="127.90" width="0.65" height="15.00" fill="#0f2638" />
<rect x="335.70" y="127.90" width="1.55" height="15.00" fill="#1a3f5e" />
<rect x="337.20" y="127.90" width="0.65" height="15.00" fill="#0f2638" />
<rect x="337.80" y="127.90" width="0.85" height="15.00" fill="#1a3f5e" />
<rect x="338.60" y="127.90" width="1.55" height="15.00" fill="#0f2638" />
<rect x="340.50" y="127.90" width="0.65" height="15.00" fill="#0f2638" />
<rect x="341.10" y="127.90" width="0.65" height="15.00" fill="#1a3f5e" />
<rect x="341.70" y="127.90" width="0.45" height="15.00" fill="#1a3f5e" />
<rect x="342.10" y="127.90" width="1.55" height="15.00" fill="#1a3f5e" />
<rect x="343.60" y="127.90" width="1.05" height="15.00" fill="#0f2638" />
<rect x="344.60" y="127.90" width="0.25" height="15.00" fill="#0f2638" />
<rect x="43.50" y="148.90" width="39.60" height="15.10" fill="#f5a545" />
<rect x="44.10" y="148.90" width="0.65" height="15.10" fill="#f9bd5e" />
<rect x="45.90" y="148.90" width="1.25" height="15.10" fill="#e27a20" />
<rect x="47.10" y="148.90" width="1.05" height="15.10" fill="#e27a20" />
<rect x="53.00" y="148.90" width="1.25" height="15.10" fill="#f9bd5e" />
<rect x="54.60" y="148.90" width="0.45" height="15.10" fill="#dd721e" />
<rect x="55.00" y="148.90" width="0.45" height="15.10" fill="#f9bd5e" />
<rect x="59.10" y="148.90" width="1.05" height="15.10" fill="#f9bd5e" />
<rect x="61.90" y="148.90" width="0.45" height="15.10" fill="#e8862a" />
<rect x="62.30" y="148.90" width="0.65" height="15.10" fill="#dd721e" />
<rect x="66.90" y="148.90" width="1.25" height="15.10" fill="#e8862a" />
<rect x="76.80" y="148.90" width="1.25" height="15.10" fill="#e27a20" />
<rect x="79.90" y="148.90" width="0.45" height="15.10" fill="#f9bd5e" />
<rect x="80.30" y="148.90" width="0.45" height="15.10" fill="#f9bd5e" />
<rect x="80.70" y="148.90" width="0.65" height="15.10" fill="#e8862a" />
<rect x="82.70" y="148.90" width="0.45" height="15.10" fill="#f9bd5e" />
<rect x="86.20" y="148.90" width="258.60" height="15.10" fill="#f5a545" />
<rect x="86.20" y="148.90" width="1.25" height="15.10" fill="#e8862a" />
<rect x="87.40" y="148.90" width="1.25" height="15.10" fill="#e27a20" />
<rect x="88.60" y="148.90" width="0.85" height="15.10" fill="#e27a20" />
<rect x="89.40" y="148.90" width="1.25" height="15.10" fill="#e27a20" />
<rect x="90.60" y="148.90" width="1.05" height="15.10" fill="#e8862a" />
<rect x="91.60" y="148.90" width="0.65" height="15.10" fill="#e8862a" />
<rect x="92.20" y="148.90" width="0.85" height="15.10" fill="#e27a20" />
<rect x="93.00" y="148.90" width="1.05" height="15.10" fill="#dd721e" />
<rect x="94.00" y="148.90" width="1.05" height="15.10" fill="#dd721e" />
<rect x="95.00" y="148.90" width="1.55" height="15.10" fill="#dd721e" />
<rect x="96.50" y="148.90" width="1.25" height="15.10" fill="#dd721e" />
<rect x="97.70" y="148.90" width="1.55" height="15.10" fill="#e8862a" />
<rect x="100.20" y="148.90" width="1.25" height="15.10" fill="#e8862a" />
<rect x="101.40" y="148.90" width="0.45" height="15.10" fill="#dd721e" />
<rect x="101.80" y="148.90" width="0.85" height="15.10" fill="#dd721e" />
<rect x="102.60" y="148.90" width="1.25" height="15.10" fill="#e27a20" />
<rect x="103.80" y="148.90" width="1.55" height="15.10" fill="#e8862a" />
<rect x="105.30" y="148.90" width="0.85" height="15.10" fill="#e8862a" />
<rect x="106.10" y="148.90" width="1.25" height="15.10" fill="#dd721e" />
<rect x="107.30" y="148.90" width="1.05" height="15.10" fill="#e27a20" />
<rect x="108.30" y="148.90" width="1.55" height="15.10" fill="#e8862a" />
<rect x="109.80" y="148.90" width="0.85" height="15.10" fill="#e8862a" />
<rect x="110.60" y="148.90" width="1.25" height="15.10" fill="#e27a20" />
<rect x="111.80" y="148.90" width="0.85" height="15.10" fill="#e8862a" />
<rect x="112.60" y="148.90" width="1.25" height="15.10" fill="#e8862a" />
<rect x="113.80" y="148.90" width="0.45" height="15.10" fill="#e27a20" />
<rect x="114.20" y="148.90" width="1.25" height="15.10" fill="#e27a20" />
<rect x="115.40" y="148.90" width="0.85" height="15.10" fill="#dd721e" />
<rect x="116.20" y="148.90" width="0.85" height="15.10" fill="#e27a20" />
<rect x="117.00" y="148.90" width="1.55" height="15.10" fill="#dd721e" />
<rect x="118.50" y="148.90" width="0.45" height="15.10" fill="#e8862a" />
<rect x="118.90" y="148.90" width="0.85" height="15.10" fill="#e27a20" />
<rect x="119.70" y="148.90" width="1.05" height="15.10" fill="#f9bd5e" />
<rect x="120.70" y="148.90" width="0.65" height="15.10" fill="#dd721e" />
<rect x="121.30" y="148.90" width="1.55" height="15.10" fill="#dd721e" />
<rect x="122.80" y="148.90" width="1.05" height="15.10" fill="#e27a20" />
<rect x="123.80" y="148.90" width="0.45" height="15.10" fill="#e27a20" />
<rect x="124.20" y="148.90" width="0.85" height="15.10" fill="#f9bd5e" />
<rect x="125.00" y="148.90" width="1.25" height="15.10" fill="#e8862a" />
<rect x="126.20" y="148.90" width="0.85" height="15.10" fill="#f9bd5e" />
<rect x="127.00" y="148.90" width="1.55" height="15.10" fill="#dd721e" />
<rect x="128.50" y="148.90" width="0.85" height="15.10" fill="#e8862a" />
<rect x="129.30" y="148.90" width="0.85" height="15.10" fill="#e8862a" />
<rect x="130.10" y="148.90" width="1.05" height="15.10" fill="#e8862a" />
<rect x="131.10" y="148.90" width="0.85" height="15.10" fill="#e8862a" />
<rect x="132.30" y="148.90" width="0.65" height="15.10" fill="#e8862a" />
<rect x="134.10" y="148.90" width="1.05" height="15.10" fill="#dd721e" />
<rect x="135.10" y="148.90" width="0.65" height="15.10" fill="#e8862a" />
<rect x="135.70" y="148.90" width="1.55" height="15.10" fill="#f9bd5e" />
<rect x="137.20" y="148.90" width="0.85" height="15.10" fill="#e27a20" />
<rect x="138.40" y="148.90" width="0.85" height="15.10" fill="#e27a20" />
<rect x="139.20" y="148.90" width="0.45" height="15.10" fill="#dd721e" />
<rect x="140.80" y="148.90" width="1.05" height="15.10" fill="#e27a20" />
<rect x="141.80" y="148.90" width="1.05" height="15.10" fill="#f9bd5e" />
<rect x="142.80" y="148.90" width="0.65" height="15.10" fill="#e27a20" />
<rect x="143.40" y="148.90" width="1.55" height="15.10" fill="#dd721e" />
<rect x="144.90" y="148.90" width="1.05" height="15.10" fill="#dd721e" />
<rect x="145.90" y="148.90" width="0.45" height="15.10" fill="#e8862a" />
<rect x="146.30" y="148.90" width="1.25" height="15.10" fill="#e27a20" />
<rect x="147.50" y="148.90" width="0.85" height="15.10" fill="#e27a20" />
<rect x="149.50" y="148.90" width="0.45" height="15.10" fill="#e8862a" />
<rect x="150.50" y="148.90" width="0.45" height="15.10" fill="#dd721e" />
<rect x="150.90" y="148.90" width="1.05" height="15.10" fill="#e8862a" />
<rect x="151.90" y="148.90" width="0.65" height="15.10" fill="#dd721e" />
<rect x="152.50" y="148.90" width="1.25" height="15.10" fill="#e8862a" />
<rect x="153.70" y="148.90" width="0.85" height="15.10" fill="#f9bd5e" />
<rect x="154.90" y="148.90" width="0.65" height="15.10" fill="#e27a20" />
<rect x="155.50" y="148.90" width="0.45" height="15.10" fill="#e27a20" />
<rect x="155.90" y="148.90" width="1.55" height="15.10" fill="#dd721e" />
<rect x="157.40" y="148.90" width="1.05" height="15.10" fill="#e8862a" />
<rect x="158.40" y="148.90" width="0.45" height="15.10" fill="#dd721e" />
<rect x="158.80" y="148.90" width="1.05" height="15.10" fill="#e8862a" />
<rect x="159.80" y="148.90" width="0.85" height="15.10" fill="#e8862a" />
<rect x="160.60" y="148.90" width="1.05" height="15.10" fill="#dd721e" />
<rect x="161.60" y="148.90" width="0.45" height="15.10" fill="#f9bd5e" />
<rect x="163.00" y="148.90" width="1.25" height="15.10" fill="#e8862a" />
<rect x="164.20" y="148.90" width="1.05" height="15.10" fill="#dd721e" />
<rect x="165.20" y="148.90" width="1.05" height="15.10" fill="#e27a20" />
<rect x="167.40" y="148.90" width="0.45" height="15.10" fill="#e8862a" />
<rect x="167.80" y="148.90" width="1.55" height="15.10" fill="#dd721e" />
<rect x="169.30" y="148.90" width="1.05" height="15.10" fill="#e27a20" />
<rect x="170.30" y="148.90" width="0.65" height="15.10" fill="#dd721e" />
<rect x="170.90" y="148.90" width="1.25" height="15.10" fill="#e8862a" />
<rect x="172.10" y="148.90" width="0.65" height="15.10" fill="#e27a20" />
<rect x="172.70" y="148.90" width="0.85" height="15.10" fill="#dd721e" />
<rect x="173.50" y="148.90" width="0.85" height="15.10" fill="#dd721e" />
<rect x="174.70" y="148.90" width="1.55" height="15.10" fill="#f9bd5e" />
<rect x="177.40" y="148.90" width="1.55" height="15.10" fill="#e8862a" />
<rect x="178.90" y="148.90" width="1.25" height="15.10" fill="#dd721e" />
<rect x="180.10" y="148.90" width="1.55" height="15.10" fill="#e27a20" />
<rect x="182.20" y="148.90" width="0.45" height="15.10" fill="#dd721e" />
<rect x="182.60" y="148.90" width="0.45" height="15.10" fill="#f9bd5e" />
<rect x="183.00" y="148.90" width="1.05" height="15.10" fill="#e27a20" />
<rect x="184.80" y="148.90" width="0.45" height="15.10" fill="#e27a20" />
<rect x="185.20" y="148.90" width="1.55" height="15.10" fill="#dd721e" />
<rect x="186.70" y="148.90" width="0.85" height="15.10" fill="#e27a20" />
<rect x="187.90" y="148.90" width="1.25" height="15.10" fill="#dd721e" />
<rect x="189.10" y="148.90" width="0.65" height="15.10" fill="#dd721e" />
<rect x="190.10" y="148.90" width="0.45" height="15.10" fill="#dd721e" />
<rect x="191.70" y="148.90" width="1.55" height="15.10" fill="#dd721e" />
<rect x="194.70" y="148.90" width="1.05" height="15.10" fill="#dd721e" />
<rect x="196.70" y="148.90" width="1.25" height="15.10" fill="#e27a20" />
<rect x="197.90" y="148.90" width="1.05" height="15.10" fill="#e8862a" />
<rect x="201.40" y="148.90" width="1.25" height="15.10" fill="#f9bd5e" />
<rect x="203.80" y="148.90" width="0.65" height="15.10" fill="#f9bd5e" />
<rect x="204.40" y="148.90" width="0.65" height="15.10" fill="#e8862a" />
<rect x="205.00" y="148.90" width="1.55" height="15.10" fill="#dd721e" />
<rect x="208.90" y="148.90" width="0.65" height="15.10" fill="#e27a20" />
<rect x="209.50" y="148.90" width="0.65" height="15.10" fill="#f9bd5e" />
<rect x="210.90" y="148.90" width="1.55" height="15.10" fill="#f9bd5e" />
<rect x="213.20" y="148.90" width="1.05" height="15.10" fill="#f9bd5e" />
<rect x="214.20" y="148.90" width="1.25" height="15.10" fill="#f9bd5e" />
<rect x="216.20" y="148.90" width="0.85" height="15.10" fill="#e8862a" />
<rect x="217.00" y="148.90" width="1.05" height="15.10" fill="#dd721e" />
<rect x="218.00" y="148.90" width="0.85" height="15.10" fill="#e8862a" />
<rect x="218.80" y="148.90" width="0.65" height="15.10" fill="#dd721e" />
<rect x="220.40" y="148.90" width="0.65" height="15.10" fill="#dd721e" />
<rect x="221.00" y="148.90" width="1.25" height="15.10" fill="#dd721e" />
<rect x="223.60" y="148.90" width="0.45" height="15.10" fill="#e27a20" />
<rect x="224.60" y="148.90" width="1.55" height="15.10" fill="#e27a20" />
<rect x="226.10" y="148.90" width="0.85" height="15.10" fill="#e27a20" />
<rect x="226.90" y="148.90" width="0.85" height="15.10" fill="#dd721e" />
<rect x="229.60" y="148.90" width="0.85" height="15.10" fill="#e27a20" />
<rect x="230.40" y="148.90" width="0.85" height="15.10" fill="#e27a20" />
<rect x="232.70" y="148.90" width="0.45" height="15.10" fill="#e8862a" />
<rect x="233.10" y="148.90" width="0.45" height="15.10" fill="#dd721e" />
<rect x="235.00" y="148.90" width="0.45" height="15.10" fill="#e8862a" />
<rect x="235.40" y="148.90" width="1.05" height="15.10" fill="#e27a20" />
<rect x="238.50" y="148.90" width="1.05" height="15.10" fill="#e8862a" />
<rect x="240.30" y="148.90" width="0.45" height="15.10" fill="#dd721e" />
<rect x="240.70" y="148.90" width="0.85" height="15.10" fill="#dd721e" />
<rect x="245.40" y="148.90" width="0.85" height="15.10" fill="#e8862a" />
<rect x="246.20" y="148.90" width="1.55" height="15.10" fill="#f9bd5e" />
<rect x="247.70" y="148.90" width="1.25" height="15.10" fill="#e8862a" />
<rect x="248.90" y="148.90" width="1.25" height="15.10" fill="#dd721e" />
<rect x="253.60" y="148.90" width="1.55" height="15.10" fill="#e8862a" />
<rect x="255.10" y="148.90" width="1.55" height="15.10" fill="#f9bd5e" />
<rect x="259.10" y="148.90" width="1.25" height="15.10" fill="#f9bd5e" />
<rect x="261.10" y="148.90" width="1.05" height="15.10" fill="#f9bd5e" />
<rect x="264.30" y="148.90" width="1.55" height="15.10" fill="#e27a20" />
<rect x="265.80" y="148.90" width="0.85" height="15.10" fill="#e27a20" />
<rect x="266.60" y="148.90" width="0.65" height="15.10" fill="#dd721e" />
<rect x="267.20" y="148.90" width="0.85" height="15.10" fill="#dd721e" />
<rect x="268.80" y="148.90" width="1.05" height="15.10" fill="#f9bd5e" />
<rect x="269.80" y="148.90" width="0.45" height="15.10" fill="#e27a20" />
<rect x="270.20" y="148.90" width="0.65" height="15.10" fill="#e27a20" />
<rect x="270.80" y="148.90" width="1.55" height="15.10" fill="#dd721e" />
<rect x="272.30" y="148.90" width="0.45" height="15.10" fill="#e27a20" />
<rect x="272.70" y="148.90" width="1.25" height="15.10" fill="#f9bd5e" />
<rect x="273.90" y="148.90" width="1.55" height="15.10" fill="#f9bd5e" />
<rect x="275.40" y="148.90" width="1.55" height="15.10" fill="#dd721e" />
<rect x="281.50" y="148.90" width="1.05" height="15.10" fill="#dd721e" />
<rect x="286.80" y="148.90" width="1.25" height="15.10" fill="#dd721e" />
<rect x="288.00" y="148.90" width="0.45" height="15.10" fill="#dd721e" />
<rect x="290.20" y="148.90" width="0.65" height="15.10" fill="#dd721e" />
<rect x="290.80" y="148.90" width="0.65" height="15.10" fill="#dd721e" />
<rect x="295.80" y="148.90" width="0.45" height="15.10" fill="#dd721e" />
<rect x="297.80" y="148.90" width="0.85" height="15.10" fill="#f9bd5e" />
<rect x="299.40" y="148.90" width="0.65" height="15.10" fill="#dd721e" />
<rect x="304.10" y="148.90" width="1.05" height="15.10" fill="#e27a20" />
<rect x="305.10" y="148.90" width="1.55" height="15.10" fill="#e8862a" />
<rect x="309.40" y="148.90" width="0.85" height="15.10" fill="#e8862a" />
<rect x="310.20" y="148.90" width="1.55" height="15.10" fill="#f9bd5e" />
<rect x="317.50" y="148.90" width="1.25" height="15.10" fill="#e27a20" />
<rect x="318.70" y="148.90" width="0.45" height="15.10" fill="#e8862a" />
<rect x="319.10" y="148.90" width="1.25" height="15.10" fill="#e27a20" />
<rect x="320.30" y="148.90" width="0.65" height="15.10" fill="#e27a20" />
<rect x="323.30" y="148.90" width="1.05" height="15.10" fill="#dd721e" />
<rect x="324.30" y="148.90" width="0.45" height="15.10" fill="#e27a20" />
<rect x="325.70" y="148.90" width="0.65" height="15.10" fill="#e8862a" />
<rect x="326.30" y="148.90" width="1.05" height="15.10" fill="#e8862a" />
<rect x="327.30" y="148.90" width="1.25" height="15.10" fill="#e27a20" />
<rect x="328.50" y="148.90" width="1.25" height="15.10" fill="#dd721e" />
<rect x="329.70" y="148.90" width="0.85" height="15.10" fill="#f9bd5e" />
<rect x="332.30" y="148.90" width="1.25" height="15.10" fill="#f9bd5e" />
<rect x="334.30" y="148.90" width="0.85" height="15.10" fill="#f9bd5e" />
<rect x="335.90" y="148.90" width="0.45" height="15.10" fill="#dd721e" />
<rect x="336.30" y="148.90" width="0.45" height="15.10" fill="#dd721e" />
<rect x="337.70" y="148.90" width="0.85" height="15.10" fill="#e8862a" />
<rect x="341.70" y="148.90" width="1.05" height="15.10" fill="#e8862a" />
<text transform="translate(371.00,9.60) scale(0.93,1)" font-size="8.51" text-anchor="start" >Thymic health</text>
<rect x="371.90" y="13.50" width="11.20" height="14.50" fill="#cf1f2a" />
<rect x="371.90" y="28.00" width="11.20" height="25.60" fill="#f4a583" />
<rect x="371.90" y="53.60" width="11.20" height="15.10" fill="#1c6fb0" />
<line x1="371.90" y1="20.60" x2="373.20" y2="20.60" stroke="#fff" stroke-width="0.6" stroke-opacity="0.7"/>
<line x1="381.80" y1="20.60" x2="383.10" y2="20.60" stroke="#fff" stroke-width="0.6" stroke-opacity="0.7"/>
<line x1="371.90" y1="39.40" x2="373.20" y2="39.40" stroke="#fff" stroke-width="0.6" stroke-opacity="0.7"/>
<line x1="381.80" y1="39.40" x2="383.10" y2="39.40" stroke="#fff" stroke-width="0.6" stroke-opacity="0.7"/>
<line x1="371.90" y1="61.40" x2="373.20" y2="61.40" stroke="#fff" stroke-width="0.6" stroke-opacity="0.7"/>
<line x1="381.80" y1="61.40" x2="383.10" y2="61.40" stroke="#fff" stroke-width="0.6" stroke-opacity="0.7"/>
<text transform="translate(386.80,24.20) scale(0.93,1)" font-size="8.51" text-anchor="start" >High</text>
<text transform="translate(386.80,42.60) scale(0.93,1)" font-size="8.51" text-anchor="start" >Average</text>
<text transform="translate(386.80,64.60) scale(0.93,1)" font-size="8.51" text-anchor="start" >Low</text>
<text transform="translate(442.90,9.90) scale(0.93,1)" font-size="8.51" text-anchor="start" >Sex</text>
<rect x="443.10" y="13.80" width="9.90" height="8.90" fill="#762a83" />
<rect x="443.10" y="24.00" width="9.90" height="9.20" fill="#1b7837" />
<text transform="translate(456.70,21.10) scale(0.93,1)" font-size="8.51" text-anchor="start" >Male</text>
<text transform="translate(456.70,31.20) scale(0.93,1)" font-size="8.51" text-anchor="start" >Female</text>
<text transform="translate(442.90,44.10) scale(0.93,1)" font-size="8.51" text-anchor="start" >Age</text>
<rect x="443.10" y="48.40" width="9.90" height="9.00" fill="#4a72b6" />
<rect x="443.10" y="59.10" width="9.90" height="9.00" fill="#77aad3" />
<text transform="translate(456.70,55.30) scale(0.93,1)" font-size="8.51" text-anchor="start" >Older median</text>
<text transform="translate(456.70,65.80) scale(0.93,1)" font-size="8.51" text-anchor="start" >Younger median</text>
<text transform="translate(515.90,9.70) scale(0.93,1)" font-size="8.51" text-anchor="start" >Smoking status</text>
<rect x="516.20" y="13.10" width="9.80" height="9.50" fill="#4393c6" />
<rect x="516.20" y="23.70" width="9.80" height="9.20" fill="#000" />
<text transform="translate(529.70,20.70) scale(0.93,1)" font-size="8.51" text-anchor="start" >Non-smoker</text>
<text transform="translate(529.70,30.70) scale(0.93,1)" font-size="8.51" text-anchor="start" >Current smoker</text>
<text transform="translate(600.90,9.60) scale(0.93,1)" font-size="8.51" text-anchor="start" >BMI</text>
<defs><linearGradient id="bmig" x1="0" y1="0" x2="0" y2="1"><stop offset="0" stop-color="#c8432a"/><stop offset="0.22" stop-color="#e2621f"/><stop offset="0.42" stop-color="#f48d1f"/><stop offset="0.62" stop-color="#fbb444"/><stop offset="0.85" stop-color="#fdd673"/><stop offset="1" stop-color="#fde69a"/></linearGradient></defs>
<rect x="600.30" y="12.70" width="11.50" height="55.20" fill="url(#bmig)" />
<line x1="600.30" y1="15.10" x2="601.60" y2="15.10" stroke="#fff" stroke-width="0.6" stroke-opacity="0.6"/>
<line x1="610.50" y1="15.10" x2="611.80" y2="15.10" stroke="#fff" stroke-width="0.6" stroke-opacity="0.6"/>
<line x1="600.30" y1="30.20" x2="601.60" y2="30.20" stroke="#fff" stroke-width="0.6" stroke-opacity="0.6"/>
<line x1="610.50" y1="30.20" x2="611.80" y2="30.20" stroke="#fff" stroke-width="0.6" stroke-opacity="0.6"/>
<line x1="600.30" y1="45.30" x2="601.60" y2="45.30" stroke="#fff" stroke-width="0.6" stroke-opacity="0.6"/>
<line x1="610.50" y1="45.30" x2="611.80" y2="45.30" stroke="#fff" stroke-width="0.6" stroke-opacity="0.6"/>
<line x1="600.30" y1="65.60" x2="601.60" y2="65.60" stroke="#fff" stroke-width="0.6" stroke-opacity="0.6"/>
<line x1="610.50" y1="65.60" x2="611.80" y2="65.60" stroke="#fff" stroke-width="0.6" stroke-opacity="0.6"/>
<text transform="translate(615.00,17.60) scale(0.93,1)" font-size="8.51" text-anchor="start" >Obese</text>
<text transform="translate(615.00,32.90) scale(0.93,1)" font-size="8.51" text-anchor="start" >Overweight</text>
<text transform="translate(615.00,48.30) scale(0.93,1)" font-size="8.51" text-anchor="start" >Normal</text>
<text transform="translate(615.00,68.40) scale(0.93,1)" font-size="8.51" text-anchor="start" >Underweight</text>
<line x1="78.60" y1="187.50" x2="78.60" y2="229.00" stroke="#6e6e6e" stroke-width="0.8" />
<line x1="75.40" y1="228.60" x2="78.60" y2="228.60" stroke="#6e6e6e" stroke-width="0.8" />
<text transform="translate(71.40,231.30) scale(0.93,1)" font-size="8.19" text-anchor="end" >0</text>
<line x1="75.40" y1="218.32" x2="78.60" y2="218.32" stroke="#6e6e6e" stroke-width="0.8" />
<text transform="translate(71.40,221.02) scale(0.93,1)" font-size="8.19" text-anchor="end" >25</text>
<line x1="75.40" y1="208.05" x2="78.60" y2="208.05" stroke="#6e6e6e" stroke-width="0.8" />
<text transform="translate(71.40,210.75) scale(0.93,1)" font-size="8.19" text-anchor="end" >50</text>
<line x1="75.40" y1="197.78" x2="78.60" y2="197.78" stroke="#6e6e6e" stroke-width="0.8" />
<text transform="translate(71.40,200.47) scale(0.93,1)" font-size="8.19" text-anchor="end" >75</text>
<line x1="75.40" y1="187.50" x2="78.60" y2="187.50" stroke="#6e6e6e" stroke-width="0.8" />
<text transform="translate(71.40,190.20) scale(0.93,1)" font-size="8.19" text-anchor="end" >100</text>
<text transform="translate(53.3,208.1) rotate(-90) scale(0.93,1)" font-size="8.51" text-anchor="middle">Thymic health (%)</text>
<line x1="78.70" y1="230.60" x2="99.80" y2="230.60" stroke="#c8c8c8" stroke-width="1.6" />
<line x1="106.60" y1="230.60" x2="204.60" y2="230.60" stroke="#777" stroke-width="1.0" />
<line x1="213.10" y1="230.60" x2="310.80" y2="230.60" stroke="#777" stroke-width="1.0" />
<polyline points="123.65,198.40 147.05,201.30 170.40,205.50 193.55,208.50" fill="none" stroke="#3ea56f" stroke-width="0.9" stroke-dasharray="0.9 2.2" opacity="0.9"/>
<polyline points="117.75,209.40 141.05,212.50 164.50,214.20 187.55,215.50" fill="none" stroke="#a05db5" stroke-width="0.9" stroke-dasharray="0.9 2.2" opacity="0.9"/>
<polyline points="229.70,203.00 253.05,198.40 276.45,201.50 299.70,203.60" fill="none" stroke="#3ea56f" stroke-width="0.9" stroke-dasharray="0.9 2.2" opacity="0.9"/>
<polyline points="223.75,210.20 247.10,206.30 270.55,211.40 293.90,215.30" fill="none" stroke="#a05db5" stroke-width="0.9" stroke-dasharray="0.9 2.2" opacity="0.9"/>
<line x1="87.35" y1="187.80" x2="87.35" y2="228.30" stroke="#9a9a9a" stroke-width="0.9" />
<rect x="85.40" y="203.00" width="3.90" height="16.80" fill="#9e5cb2" stroke="#5a4a60" stroke-width="0.6"/>
<line x1="85.40" y1="212.20" x2="89.30" y2="212.20" stroke="#333" stroke-width="0.8" />
<line x1="92.05" y1="187.80" x2="92.05" y2="228.30" stroke="#555" stroke-width="0.9" />
<rect x="90.20" y="194.00" width="3.70" height="19.50" fill="#3aa16b" stroke="#2e4f3c" stroke-width="0.6"/>
<line x1="90.20" y1="201.60" x2="93.90" y2="201.60" stroke="#333" stroke-width="0.8" />
<line x1="117.75" y1="187.80" x2="117.75" y2="228.30" stroke="#777" stroke-width="0.9" />
<rect x="115.40" y="200.00" width="4.70" height="17.70" fill="#9e5cb2" stroke="#5a4a60" stroke-width="0.6"/>
<line x1="115.40" y1="209.40" x2="120.10" y2="209.40" stroke="#333" stroke-width="0.8" />
<line x1="123.65" y1="187.80" x2="123.65" y2="228.30" stroke="#777" stroke-width="0.9" />
<rect x="121.30" y="191.80" width="4.70" height="17.10" fill="#3aa16b" stroke="#2e4f3c" stroke-width="0.6"/>
<line x1="121.30" y1="198.40" x2="126.00" y2="198.40" stroke="#333" stroke-width="0.8" />
<line x1="141.05" y1="187.80" x2="141.05" y2="228.30" stroke="#b8b8b8" stroke-width="0.9" />
<rect x="138.60" y="203.30" width="4.90" height="16.40" fill="#9e5cb2" stroke="#5a4a60" stroke-width="0.6"/>
<line x1="138.60" y1="212.50" x2="143.50" y2="212.50" stroke="#333" stroke-width="0.8" />
<line x1="147.05" y1="187.80" x2="147.05" y2="228.30" stroke="#777" stroke-width="0.9" />
<rect x="144.60" y="194.00" width="4.90" height="18.70" fill="#3aa16b" stroke="#2e4f3c" stroke-width="0.6"/>
<line x1="144.60" y1="201.30" x2="149.50" y2="201.30" stroke="#333" stroke-width="0.8" />
<line x1="164.50" y1="187.80" x2="164.50" y2="228.30" stroke="#777" stroke-width="0.9" />
<rect x="162.00" y="205.20" width="5.00" height="15.80" fill="#9e5cb2" stroke="#5a4a60" stroke-width="0.6"/>
<line x1="162.00" y1="214.20" x2="167.00" y2="214.20" stroke="#333" stroke-width="0.8" />
<line x1="170.40" y1="187.80" x2="170.40" y2="228.30" stroke="#777" stroke-width="0.9" />
<rect x="168.00" y="196.70" width="4.80" height="20.70" fill="#3aa16b" stroke="#2e4f3c" stroke-width="0.6"/>
<line x1="168.00" y1="205.50" x2="172.80" y2="205.50" stroke="#333" stroke-width="0.8" />
<line x1="187.55" y1="187.80" x2="187.55" y2="228.30" stroke="#777" stroke-width="0.9" />
<rect x="185.20" y="206.90" width="4.70" height="14.70" fill="#9e5cb2" stroke="#5a4a60" stroke-width="0.6"/>
<line x1="185.20" y1="215.50" x2="189.90" y2="215.50" stroke="#333" stroke-width="0.8" />
<line x1="193.55" y1="187.80" x2="193.55" y2="228.30" stroke="#777" stroke-width="0.9" />
<rect x="191.20" y="199.00" width="4.70" height="21.70" fill="#3aa16b" stroke="#2e4f3c" stroke-width="0.6"/>
<line x1="191.20" y1="208.50" x2="195.90" y2="208.50" stroke="#333" stroke-width="0.8" />
<line x1="223.75" y1="187.80" x2="223.75" y2="228.30" stroke="#b8b8b8" stroke-width="0.9" />
<rect x="221.30" y="198.40" width="4.90" height="26.30" fill="#9e5cb2" stroke="#5a4a60" stroke-width="0.6"/>
<line x1="221.30" y1="210.20" x2="226.20" y2="210.20" stroke="#333" stroke-width="0.8" />
<line x1="229.70" y1="187.80" x2="229.70" y2="228.30" stroke="#777" stroke-width="0.9" />
<rect x="227.20" y="194.00" width="5.00" height="31.20" fill="#3aa16b" stroke="#2e4f3c" stroke-width="0.6"/>
<line x1="227.20" y1="203.00" x2="232.20" y2="203.00" stroke="#333" stroke-width="0.8" />
<line x1="247.10" y1="187.80" x2="247.10" y2="228.30" stroke="#777" stroke-width="0.9" />
<rect x="244.60" y="197.30" width="5.00" height="19.50" fill="#9e5cb2" stroke="#5a4a60" stroke-width="0.6"/>
<line x1="244.60" y1="206.30" x2="249.60" y2="206.30" stroke="#333" stroke-width="0.8" />
<line x1="253.05" y1="187.80" x2="253.05" y2="228.30" stroke="#b8b8b8" stroke-width="0.9" />
<rect x="250.60" y="192.10" width="4.90" height="18.40" fill="#3aa16b" stroke="#2e4f3c" stroke-width="0.6"/>
<line x1="250.60" y1="198.40" x2="255.50" y2="198.40" stroke="#333" stroke-width="0.8" />
<line x1="270.55" y1="187.80" x2="270.55" y2="228.30" stroke="#777" stroke-width="0.9" />
<rect x="268.10" y="203.00" width="4.90" height="16.70" fill="#9e5cb2" stroke="#5a4a60" stroke-width="0.6"/>
<line x1="268.10" y1="211.40" x2="273.00" y2="211.40" stroke="#333" stroke-width="0.8" />
<line x1="276.45" y1="187.80" x2="276.45" y2="228.30" stroke="#777" stroke-width="0.9" />
<rect x="274.00" y="193.40" width="4.90" height="18.40" fill="#3aa16b" stroke="#2e4f3c" stroke-width="0.6"/>
<line x1="274.00" y1="201.50" x2="278.90" y2="201.50" stroke="#333" stroke-width="0.8" />
<line x1="293.90" y1="187.80" x2="293.90" y2="228.30" stroke="#777" stroke-width="0.9" />
<rect x="291.40" y="206.80" width="5.00" height="13.90" fill="#9e5cb2" stroke="#5a4a60" stroke-width="0.6"/>
<line x1="291.40" y1="215.30" x2="296.40" y2="215.30" stroke="#333" stroke-width="0.8" />
<line x1="299.70" y1="187.80" x2="299.70" y2="228.30" stroke="#777" stroke-width="0.9" />
<rect x="297.30" y="195.10" width="4.80" height="20.40" fill="#3aa16b" stroke="#2e4f3c" stroke-width="0.6"/>
<line x1="297.30" y1="203.60" x2="302.10" y2="203.60" stroke="#333" stroke-width="0.8" />
<ellipse cx="86.75" cy="183.1" rx="0.7" ry="0.85" fill="#444"/>
<ellipse cx="89.75" cy="183.1" rx="0.7" ry="0.85" fill="#444"/>
<ellipse cx="92.75" cy="183.1" rx="0.7" ry="0.85" fill="#444"/>
<ellipse cx="117.70" cy="183.1" rx="0.7" ry="0.85" fill="#444"/>
<ellipse cx="120.70" cy="183.1" rx="0.7" ry="0.85" fill="#444"/>
<ellipse cx="123.70" cy="183.1" rx="0.7" ry="0.85" fill="#444"/>
<ellipse cx="141.05" cy="183.1" rx="0.7" ry="0.85" fill="#444"/>
<ellipse cx="144.05" cy="183.1" rx="0.7" ry="0.85" fill="#444"/>
<ellipse cx="147.05" cy="183.1" rx="0.7" ry="0.85" fill="#444"/>
<ellipse cx="164.50" cy="183.1" rx="0.7" ry="0.85" fill="#444"/>
<ellipse cx="167.50" cy="183.1" rx="0.7" ry="0.85" fill="#444"/>
<ellipse cx="170.50" cy="183.1" rx="0.7" ry="0.85" fill="#444"/>
<ellipse cx="187.55" cy="183.1" rx="0.7" ry="0.85" fill="#444"/>
<ellipse cx="190.55" cy="183.1" rx="0.7" ry="0.85" fill="#444"/>
<ellipse cx="193.55" cy="183.1" rx="0.7" ry="0.85" fill="#444"/>
<text transform="translate(226.70,184.60) scale(0.93,1)" font-size="8.51" text-anchor="middle" >NS</text>
<ellipse cx="247.10" cy="183.1" rx="0.7" ry="0.85" fill="#444"/>
<ellipse cx="250.10" cy="183.1" rx="0.7" ry="0.85" fill="#444"/>
<ellipse cx="253.10" cy="183.1" rx="0.7" ry="0.85" fill="#444"/>
<ellipse cx="270.50" cy="183.1" rx="0.7" ry="0.85" fill="#444"/>
<ellipse cx="273.50" cy="183.1" rx="0.7" ry="0.85" fill="#444"/>
<ellipse cx="276.50" cy="183.1" rx="0.7" ry="0.85" fill="#444"/>
<ellipse cx="293.85" cy="183.1" rx="0.7" ry="0.85" fill="#444"/>
<ellipse cx="296.85" cy="183.1" rx="0.7" ry="0.85" fill="#444"/>
<ellipse cx="299.85" cy="183.1" rx="0.7" ry="0.85" fill="#444"/>
<text transform="translate(85.90,238.30) rotate(-45) scale(0.93,1)" font-size="8.51" text-anchor="end">Male</text>
<text transform="translate(95.90,238.30) rotate(-45) scale(0.93,1)" font-size="8.51" text-anchor="end">Female</text>
<text transform="translate(124.00,239.40) rotate(-45) scale(0.93,1)" font-size="8.51" text-anchor="end">50–59</text>
<text transform="translate(147.30,239.40) rotate(-45) scale(0.93,1)" font-size="8.51" text-anchor="end">60–64</text>
<text transform="translate(170.70,239.40) rotate(-45) scale(0.93,1)" font-size="8.51" text-anchor="end">65–69</text>
<text transform="translate(194.00,239.40) rotate(-45) scale(0.93,1)" font-size="8.51" text-anchor="end">70–75</text>
<text transform="translate(227.00,237.00) rotate(-45) scale(0.93,1)" font-size="8.51" text-anchor="end">Under-</text>
<text transform="translate(233.80,244.00) rotate(-45) scale(0.93,1)" font-size="8.51" text-anchor="end">weight</text>
<text transform="translate(253.50,239.00) rotate(-45) scale(0.93,1)" font-size="8.51" text-anchor="end">Normal</text>
<text transform="translate(271.60,237.00) rotate(-45) scale(0.93,1)" font-size="8.51" text-anchor="end">Over-</text>
<text transform="translate(279.30,244.00) rotate(-45) scale(0.93,1)" font-size="8.51" text-anchor="end">weight</text>
<text transform="translate(299.80,237.60) rotate(-45) scale(0.93,1)" font-size="8.51" text-anchor="end">Obese</text>
<text transform="translate(89.50,272.00) scale(0.93,1)" font-size="8.51" text-anchor="middle" >Sex</text>
<text transform="translate(155.70,272.00) scale(0.93,1)" font-size="8.51" text-anchor="middle" >Age (years)</text>
<text transform="translate(261.50,272.00) scale(0.93,1)" font-size="8.51" text-anchor="middle" >BMI</text>
<line x1="81.40" y1="294.40" x2="81.40" y2="455.30" stroke="#6e6e6e" stroke-width="0.9" />
<line x1="81.40" y1="455.30" x2="339.20" y2="455.30" stroke="#6e6e6e" stroke-width="0.9" />
<line x1="78.70" y1="455.30" x2="81.40" y2="455.30" stroke="#6e6e6e" stroke-width="0.8" />
<text transform="translate(75.20,458.00) scale(0.93,1)" font-size="8.19" text-anchor="end" >0</text>
<line x1="78.70" y1="415.07" x2="81.40" y2="415.07" stroke="#6e6e6e" stroke-width="0.8" />
<text transform="translate(75.20,417.77) scale(0.93,1)" font-size="8.19" text-anchor="end" >25</text>
<line x1="78.70" y1="374.85" x2="81.40" y2="374.85" stroke="#6e6e6e" stroke-width="0.8" />
<text transform="translate(75.20,377.55) scale(0.93,1)" font-size="8.19" text-anchor="end" >50</text>
<line x1="78.70" y1="334.62" x2="81.40" y2="334.62" stroke="#6e6e6e" stroke-width="0.8" />
<text transform="translate(75.20,337.32) scale(0.93,1)" font-size="8.19" text-anchor="end" >75</text>
<line x1="78.70" y1="294.40" x2="81.40" y2="294.40" stroke="#6e6e6e" stroke-width="0.8" />
<text transform="translate(75.20,297.10) scale(0.93,1)" font-size="8.19" text-anchor="end" >100</text>
<line x1="81.40" y1="455.30" x2="81.40" y2="457.90" stroke="#6e6e6e" stroke-width="0.8" />
<text transform="translate(81.40,468.00) scale(0.93,1)" font-size="8.19" text-anchor="middle" >0</text>
<line x1="145.85" y1="455.30" x2="145.85" y2="457.90" stroke="#6e6e6e" stroke-width="0.8" />
<text transform="translate(145.85,468.00) scale(0.93,1)" font-size="8.19" text-anchor="middle" >3</text>
<line x1="210.30" y1="455.30" x2="210.30" y2="457.90" stroke="#6e6e6e" stroke-width="0.8" />
<text transform="translate(210.30,468.00) scale(0.93,1)" font-size="8.19" text-anchor="middle" >6</text>
<line x1="274.75" y1="455.30" x2="274.75" y2="457.90" stroke="#6e6e6e" stroke-width="0.8" />
<text transform="translate(274.75,468.00) scale(0.93,1)" font-size="8.19" text-anchor="middle" >9</text>
<line x1="339.20" y1="455.30" x2="339.20" y2="457.90" stroke="#6e6e6e" stroke-width="0.8" />
<text transform="translate(339.20,468.00) scale(0.93,1)" font-size="8.19" text-anchor="middle" >12</text>
<text transform="translate(55.3,374.8) rotate(-90) scale(0.93,1)" font-size="8.51" text-anchor="middle">Survival (%)</text>
<text transform="translate(210.50,480.80) scale(0.93,1)" font-size="8.51" text-anchor="middle" >Years since randomization</text>
<polyline points="81.40,294.40 85.70,294.57 89.99,294.74 94.29,294.91 98.59,295.09 102.88,295.26 107.18,295.43 111.48,295.60 115.77,295.82 120.07,296.07 124.37,296.33 128.66,296.59 132.96,296.85 137.26,297.10 141.55,297.36 145.85,297.62 150.15,297.94 154.44,298.26 158.74,298.58 163.04,298.91 167.33,299.23 171.63,299.55 175.93,299.87 180.22,300.25 184.52,300.68 188.82,301.10 193.11,301.53 197.41,301.96 201.71,302.39 206.00,302.82 210.30,303.25 214.60,303.82 218.89,304.39 223.19,304.96 227.49,305.54 231.78,306.11 236.08,306.68 240.38,307.25 244.67,307.82 248.97,308.40 253.27,308.97 257.56,309.53 261.86,310.09 266.16,310.65 270.45,311.21 274.75,311.78 279.05,312.53 283.34,313.28 287.64,314.03 291.94,314.78 296.23,315.53 300.53,316.28 304.83,317.07 309.12,317.94 313.42,318.80 317.72,319.67 322.01,320.54 326.31,321.40 330.61,322.27 334.90,323.14 339.20,324.01" fill="none" stroke="#f4a582" stroke-width="1.1" stroke-linejoin="round"/>
<polyline points="81.40,294.40 85.70,294.51 89.99,294.61 94.29,294.72 98.59,294.83 102.88,294.94 107.18,295.04 111.48,295.15 115.77,295.29 120.07,295.46 124.37,295.63 128.66,295.81 132.96,295.98 137.26,296.15 141.55,296.32 145.85,296.49 150.15,296.72 154.44,296.94 158.74,297.17 163.04,297.40 167.33,297.62 171.63,297.85 175.93,298.08 180.22,298.39 184.52,298.72 188.82,299.05 193.11,299.37 197.41,299.70 201.71,300.02 206.00,300.35 210.30,300.68 214.60,301.10 218.89,301.53 223.19,301.96 227.49,302.39 231.78,302.81 236.08,303.24 240.38,303.67 244.67,304.09 248.97,304.50 253.27,304.91 257.56,305.32 261.86,305.73 266.16,306.13 270.45,306.54 274.75,306.95 279.05,307.58 283.34,308.21 287.64,308.84 291.94,309.47 296.23,310.10 300.53,310.72 304.83,311.34 309.12,311.91 313.42,312.49 317.72,313.07 322.01,313.65 326.31,314.23 330.61,314.80 334.90,315.38 339.20,315.96" fill="none" stroke="#d03a44" stroke-width="1.1" stroke-linejoin="round"/>
<polyline points="81.40,294.40 85.70,294.75 89.99,295.10 94.29,295.44 98.59,295.79 102.88,296.14 107.18,296.49 111.48,296.84 115.77,297.20 120.07,297.58 124.37,297.97 128.66,298.35 132.96,298.73 137.26,299.11 141.55,299.49 145.85,299.87 150.15,300.44 154.44,301.00 158.74,301.57 163.04,302.14 167.33,302.70 171.63,303.27 175.93,303.84 180.22,304.48 184.52,305.13 188.82,305.78 193.11,306.43 197.41,307.09 201.71,307.74 206.00,308.39 210.30,309.04 214.60,309.63 218.89,310.22 223.19,310.82 227.49,311.41 231.78,312.00 236.08,312.62 240.38,313.24 244.67,313.87 248.97,314.49 253.27,315.11 257.56,315.78 261.86,316.75 266.16,317.72 270.45,318.69 274.75,319.66 279.05,320.60 283.34,321.55 287.64,322.49 291.94,323.44 296.23,324.38 300.53,325.32 304.83,326.33 309.12,327.45 313.42,328.56 317.72,329.68 322.01,330.80 326.31,331.92 330.61,333.03 334.90,334.15 339.20,335.27" fill="none" stroke="#2b7bbb" stroke-width="1.1" stroke-linejoin="round"/>
<line x1="146.50" y1="320.80" x2="146.50" y2="408.20" stroke="#6e6e6e" stroke-width="0.9" />
<line x1="146.50" y1="408.20" x2="262.40" y2="408.20" stroke="#6e6e6e" stroke-width="0.9" />
<line x1="143.80" y1="408.20" x2="146.50" y2="408.20" stroke="#6e6e6e" stroke-width="0.8" />
<text transform="translate(140.50,410.90) scale(0.93,1)" font-size="8.19" text-anchor="end" >70</text>
<line x1="143.80" y1="379.07" x2="146.50" y2="379.07" stroke="#6e6e6e" stroke-width="0.8" />
<text transform="translate(140.50,381.77) scale(0.93,1)" font-size="8.19" text-anchor="end" >80</text>
<line x1="143.80" y1="349.93" x2="146.50" y2="349.93" stroke="#6e6e6e" stroke-width="0.8" />
<text transform="translate(140.50,352.63) scale(0.93,1)" font-size="8.19" text-anchor="end" >90</text>
<line x1="143.80" y1="320.80" x2="146.50" y2="320.80" stroke="#6e6e6e" stroke-width="0.8" />
<text transform="translate(140.50,323.50) scale(0.93,1)" font-size="8.19" text-anchor="end" >100</text>
<line x1="146.50" y1="408.20" x2="146.50" y2="410.80" stroke="#6e6e6e" stroke-width="0.8" />
<text transform="translate(146.50,420.60) scale(0.93,1)" font-size="8.19" text-anchor="middle" >0</text>
<line x1="175.47" y1="408.20" x2="175.47" y2="410.80" stroke="#6e6e6e" stroke-width="0.8" />
<text transform="translate(175.47,420.60) scale(0.93,1)" font-size="8.19" text-anchor="middle" >3</text>
<line x1="204.45" y1="408.20" x2="204.45" y2="410.80" stroke="#6e6e6e" stroke-width="0.8" />
<text transform="translate(204.45,420.60) scale(0.93,1)" font-size="8.19" text-anchor="middle" >6</text>
<line x1="233.43" y1="408.20" x2="233.43" y2="410.80" stroke="#6e6e6e" stroke-width="0.8" />
<text transform="translate(233.43,420.60) scale(0.93,1)" font-size="8.19" text-anchor="middle" >9</text>
<line x1="262.40" y1="408.20" x2="262.40" y2="410.80" stroke="#6e6e6e" stroke-width="0.8" />
<text transform="translate(262.40,420.60) scale(0.93,1)" font-size="8.19" text-anchor="middle" >12</text>
<polyline points="146.50,320.80 148.43,320.91 150.36,321.17 152.29,321.68 154.23,321.96 156.16,322.44 158.09,322.61 160.02,322.90 161.95,323.66 163.88,323.73 165.82,323.95 167.75,324.50 169.68,325.07 171.61,325.77 173.54,326.00 175.47,326.57 177.41,327.25 179.34,327.56 181.27,328.67 183.20,328.78 185.13,329.87 187.06,330.05 189.00,330.72 190.93,331.57 192.86,332.02 194.79,332.94 196.72,333.64 198.66,334.20 200.59,335.44 202.52,336.39 204.45,336.96 206.38,337.73 208.31,339.10 210.24,340.16 212.18,340.68 214.11,341.89 216.04,343.08 217.97,343.80 219.90,345.23 221.83,346.02 223.77,347.38 225.70,348.24 227.63,349.00 229.56,349.94 231.49,350.98 233.43,352.34 235.36,353.56 237.29,355.11 239.22,356.59 241.15,357.70 243.08,358.82 245.01,360.17 246.95,361.70 248.88,363.10 250.81,365.14 252.74,366.79 254.67,368.16 256.60,369.85 258.54,371.47 260.47,372.90 262.40,374.41" fill="none" stroke="#f4a582" stroke-width="1.1" stroke-linejoin="round"/>
<polyline points="146.50,320.80 148.43,320.91 150.36,321.19 152.29,321.51 154.23,321.34 156.16,321.43 158.09,322.00 160.02,322.46 161.95,322.74 163.88,322.46 165.82,323.35 167.75,323.20 169.68,323.61 171.61,324.10 173.54,324.07 175.47,324.92 177.41,325.25 179.34,325.44 181.27,326.15 183.20,326.00 185.13,326.82 187.06,327.30 189.00,327.78 190.93,327.94 192.86,328.66 194.79,329.12 196.72,329.69 198.66,330.18 200.59,330.66 202.52,331.44 204.45,332.37 206.38,332.95 208.31,333.94 210.24,334.83 212.18,335.28 214.11,335.88 216.04,337.03 217.97,337.74 219.90,338.46 221.83,338.95 223.77,339.82 225.70,340.49 227.63,341.13 229.56,342.12 231.49,342.58 233.43,343.24 235.36,344.95 237.29,345.50 239.22,346.79 241.15,348.34 243.08,349.25 245.01,350.27 246.95,351.18 248.88,352.60 250.81,353.51 252.74,354.34 254.67,355.44 256.60,356.39 258.54,357.77 260.47,358.69 262.40,359.84" fill="none" stroke="#d03a44" stroke-width="1.1" stroke-linejoin="round"/>
<polyline points="146.50,320.80 148.43,321.64 150.36,321.90 152.29,322.47 154.23,323.22 156.16,323.80 158.09,324.78 160.02,324.93 161.95,325.54 163.88,326.23 165.82,327.23 167.75,327.74 169.68,328.76 171.61,329.04 173.54,329.77 175.47,330.81 177.41,332.02 179.34,332.80 181.27,333.75 183.20,334.62 185.13,335.84 187.06,337.19 189.00,337.67 190.93,339.36 192.86,340.02 194.79,341.64 196.72,342.71 198.66,343.57 200.59,345.20 202.52,346.38 204.45,347.30 206.38,348.23 208.31,349.21 210.24,350.39 212.18,351.28 214.11,352.67 216.04,353.48 217.97,355.21 219.90,356.24 221.83,357.15 223.77,358.45 225.70,359.36 227.63,361.18 229.56,363.01 231.49,364.54 233.43,366.50 235.36,368.38 237.29,370.04 239.22,371.42 241.15,373.09 243.08,375.29 245.01,376.55 246.95,378.28 248.88,380.62 250.81,382.61 252.74,384.89 254.67,386.68 256.60,388.73 258.54,390.68 260.47,393.11 262.40,394.80" fill="none" stroke="#2b7bbb" stroke-width="1.1" stroke-linejoin="round"/>
<text transform="translate(265.50,360.80) scale(0.93,1)" font-size="8.51" text-anchor="start" >High</text>
<text transform="translate(265.50,378.60) scale(0.93,1)" font-size="8.51" text-anchor="start" >Average</text>
<text transform="translate(265.50,397.20) scale(0.93,1)" font-size="8.51" text-anchor="start" >Low</text>
<text transform="translate(86.60,425.60) scale(0.93,1)" font-size="8.51" text-anchor="start" ><tspan font-style="italic">n</tspan> = 25,031</text>
<text transform="translate(86.60,437.70) scale(0.93,1)" font-size="8.51" text-anchor="start" >HR high: 0.49 (95% CI 0.45–0.53)</text>
<text transform="translate(86.60,449.90) scale(0.93,1)" font-size="8.51" text-anchor="start" >HR average: 0.69 (95% CI 0.65–0.74)</text>
<text transform="translate(225.90,444.40) scale(0.93,1)" font-size="8.76" text-anchor="start" ><tspan font-style="italic">P</tspan> = 2.76 × 10<tspan font-size="5.6" dy="-3.4">−64</tspan></text>
<text transform="translate(81.20,502.90) scale(0.93,1)" font-size="8.25" text-anchor="start" >At risk</text>
<text transform="translate(74.00,517.00) scale(0.93,1)" font-size="8.08" text-anchor="end" >High</text>
<text transform="translate(103.80,517.00) scale(0.93,1)" font-size="8.08" text-anchor="end" >6,259</text>
<text transform="translate(160.30,517.00) scale(0.93,1)" font-size="8.08" text-anchor="end" >6,157</text>
<text transform="translate(219.20,517.00) scale(0.93,1)" font-size="8.08" text-anchor="end" >5,976</text>
<text transform="translate(277.10,517.00) scale(0.93,1)" font-size="8.08" text-anchor="end" >5,454</text>
<text transform="translate(334.30,517.00) scale(0.93,1)" font-size="8.08" text-anchor="end" >4,612</text>
<text transform="translate(74.00,526.20) scale(0.93,1)" font-size="8.08" text-anchor="end" >Average</text>
<text transform="translate(103.80,526.20) scale(0.93,1)" font-size="8.08" text-anchor="end" >12,515</text>
<text transform="translate(160.30,526.20) scale(0.93,1)" font-size="8.08" text-anchor="end" >12,220</text>
<text transform="translate(219.20,526.20) scale(0.93,1)" font-size="8.08" text-anchor="end" >11,717</text>
<text transform="translate(277.10,526.20) scale(0.93,1)" font-size="8.08" text-anchor="end" >10,399</text>
<text transform="translate(334.30,526.20) scale(0.93,1)" font-size="8.08" text-anchor="end" >8,567</text>
<text transform="translate(74.00,535.40) scale(0.93,1)" font-size="8.08" text-anchor="end" >Low</text>
<text transform="translate(103.80,535.40) scale(0.93,1)" font-size="8.08" text-anchor="end" >6,257</text>
<text transform="translate(160.30,535.40) scale(0.93,1)" font-size="8.08" text-anchor="end" >6,032</text>
<text transform="translate(219.20,535.40) scale(0.93,1)" font-size="8.08" text-anchor="end" >5,651</text>
<text transform="translate(277.10,535.40) scale(0.93,1)" font-size="8.08" text-anchor="end" >4,940</text>
<text transform="translate(334.30,535.40) scale(0.93,1)" font-size="8.08" text-anchor="end" >3,919</text>
<text transform="translate(40.90,556.10) scale(0.93,1)" font-size="8.51" text-anchor="start" >Thymic health</text>
<text transform="translate(142.80,556.10) scale(0.93,1)" font-size="8.51" text-anchor="end" >Number</text>
<text transform="translate(203.00,555.90) scale(0.93,1)" font-size="8.51" text-anchor="start" >HR</text>
<text transform="translate(278.80,555.90) scale(0.93,1)" font-size="8.51" text-anchor="start" >HR</text>
<text transform="translate(307.20,555.90) scale(0.93,1)" font-size="8.51" text-anchor="start" >95% CI</text>
<line x1="146.50" y1="599.50" x2="269.30" y2="599.50" stroke="#555" stroke-width="0.8" />
<line x1="146.50" y1="599.50" x2="146.50" y2="602.30" stroke="#555" stroke-width="0.7" />
<line x1="191.82" y1="599.50" x2="191.82" y2="602.30" stroke="#555" stroke-width="0.7" />
<line x1="223.98" y1="599.50" x2="223.98" y2="602.30" stroke="#555" stroke-width="0.7" />
<line x1="269.30" y1="599.50" x2="269.30" y2="602.30" stroke="#555" stroke-width="0.7" />
<text transform="translate(146.60,612.00) scale(0.93,1)" font-size="8.51" text-anchor="middle" >0.50</text>
<text transform="translate(187.50,612.00) scale(0.93,1)" font-size="8.51" text-anchor="middle" >0.75</text>
<text transform="translate(228.30,612.00) scale(0.93,1)" font-size="8.51" text-anchor="middle" >1.00</text>
<text transform="translate(270.00,612.00) scale(0.93,1)" font-size="8.51" text-anchor="middle" >1.50</text>
<line x1="223.98" y1="568.20" x2="223.98" y2="599.50" stroke="#333" stroke-width="0.9" />
<text transform="translate(40.90,576.90) scale(0.93,1)" font-size="8.51" text-anchor="start" >Low</text>
<text transform="translate(143.20,576.90) scale(0.93,1)" font-size="8.51" text-anchor="end" >6,257</text>
<text transform="translate(274.60,576.90) scale(0.93,1)" font-size="8.51" text-anchor="start" >Reference</text>
<rect x="219.98" y="570.00" width="8.00" height="7.80" fill="#c6c6c6" />
<circle cx="223.98" cy="573.90" r="0.6" fill="#222"/>
<text transform="translate(40.90,587.15) scale(0.93,1)" font-size="8.51" text-anchor="start" >Average</text>
<text transform="translate(143.20,587.15) scale(0.93,1)" font-size="8.51" text-anchor="end" >12,515</text>
<text transform="translate(274.60,587.15) scale(0.93,1)" font-size="8.51" text-anchor="start" >0.76&#160;&#160;(0.71; 0.81)</text>
<rect x="189.30" y="580.25" width="8.00" height="7.80" fill="#c6c6c6" />
<line x1="185.70" y1="584.15" x2="200.42" y2="584.15" stroke="#333" stroke-width="0.8" />
<circle cx="193.30" cy="584.15" r="0.6" fill="#222"/>
<text transform="translate(40.90,597.40) scale(0.93,1)" font-size="8.51" text-anchor="start" >High</text>
<text transform="translate(143.20,597.40) scale(0.93,1)" font-size="8.51" text-anchor="end" >6,259</text>
<text transform="translate(274.60,597.40) scale(0.93,1)" font-size="8.51" text-anchor="start" >0.67&#160;&#160;(0.61; 0.73)</text>
<rect x="175.21" y="590.50" width="8.00" height="7.80" fill="#c6c6c6" />
<line x1="168.73" y1="594.40" x2="188.80" y2="594.40" stroke="#333" stroke-width="0.8" />
<circle cx="179.21" cy="594.40" r="0.6" fill="#222"/>
<text transform="translate(288.80,619.60) scale(0.93,1)" font-size="8.76" text-anchor="start" ><tspan font-style="italic">P</tspan> = 1.94 × 10<tspan font-size="5.6" dy="-3.4">−22</tspan></text>
<text transform="translate(365.60,100.90) scale(0.93,1)" font-size="8.51" text-anchor="start" >Variable</text>
<text transform="translate(505.80,100.90) scale(0.93,1)" font-size="8.51" text-anchor="start" >HR</text>
<text transform="translate(581.80,100.90) scale(0.93,1)" font-size="8.51" text-anchor="start" >HR</text>
<text transform="translate(609.50,100.90) scale(0.93,1)" font-size="8.51" text-anchor="start" >95% CI</text>
<text transform="translate(640.00,100.90) scale(0.93,1)" font-size="8.51" text-anchor="start" ><tspan font-style="italic">P</tspan> value</text>
<line x1="510.90" y1="112.40" x2="510.90" y2="163.50" stroke="#c4c4c4" stroke-width="1.3" />
<line x1="451.40" y1="163.50" x2="570.40" y2="163.50" stroke="#555" stroke-width="0.8" />
<line x1="451.40" y1="163.50" x2="451.40" y2="167.10" stroke="#555" stroke-width="0.7" />
<line x1="510.90" y1="163.50" x2="510.90" y2="167.10" stroke="#555" stroke-width="0.7" />
<line x1="570.40" y1="163.50" x2="570.40" y2="167.10" stroke="#555" stroke-width="0.7" />
<text transform="translate(451.40,176.90) scale(0.93,1)" font-size="8.51" text-anchor="middle" >0.5</text>
<text transform="translate(510.90,176.90) scale(0.93,1)" font-size="8.51" text-anchor="middle" >1</text>
<text transform="translate(570.40,176.90) scale(0.93,1)" font-size="8.51" text-anchor="middle" >2</text>
<text transform="translate(365.60,121.40) scale(0.93,1)" font-size="8.51" text-anchor="start" >Thymic health low</text>
<text transform="translate(577.20,121.40) scale(0.93,1)" font-size="8.51" text-anchor="start" >Reference</text>
<rect x="507.00" y="114.40" width="7.80" height="7.80" fill="#c8c8c8" />
<circle cx="510.90" cy="118.30" r="0.55" fill="#222"/>
<text transform="translate(365.60,131.45) scale(0.93,1)" font-size="8.51" text-anchor="start" >Thymic health average</text>
<text transform="translate(577.20,131.45) scale(0.93,1)" font-size="8.51" text-anchor="start" >0.77</text>
<text transform="translate(597.50,131.45) scale(0.93,1)" font-size="8.51" text-anchor="start" >(0.72; 0.83)</text>
<rect x="484.56" y="124.45" width="7.80" height="7.80" fill="#c8c8c8" />
<line x1="482.70" y1="128.35" x2="494.91" y2="128.35" stroke="#333" stroke-width="0.75" />
<circle cx="488.46" cy="128.35" r="0.55" fill="#222"/>
<text transform="translate(365.60,141.50) scale(0.93,1)" font-size="8.51" text-anchor="start" >Thymic health high</text>
<text transform="translate(577.20,141.50) scale(0.93,1)" font-size="8.51" text-anchor="start" >0.71</text>
<text transform="translate(597.50,141.50) scale(0.93,1)" font-size="8.51" text-anchor="start" >(0.65; 0.78)</text>
<text transform="translate(642.00,141.50) scale(0.93,1)" font-size="8.51" text-anchor="start" >1.40 × 10<tspan font-size="5.6" dy="-3.3">−17</tspan></text>
<rect x="477.60" y="134.50" width="7.80" height="7.80" fill="#c8c8c8" />
<line x1="473.92" y1="138.40" x2="489.57" y2="138.40" stroke="#333" stroke-width="0.75" />
<circle cx="481.50" cy="138.40" r="0.55" fill="#222"/>
<text transform="translate(365.60,151.55) scale(0.93,1)" font-size="8.51" text-anchor="start" >Current smoker</text>
<text transform="translate(577.20,151.55) scale(0.93,1)" font-size="8.51" text-anchor="start" >1.89</text>
<text transform="translate(597.50,151.55) scale(0.93,1)" font-size="8.51" text-anchor="start" >(1.78; 2.01)</text>
<text transform="translate(642.00,151.55) scale(0.93,1)" font-size="8.51" text-anchor="start" >8.59 × 10<tspan font-size="5.6" dy="-3.3">−98</tspan></text>
<rect x="561.64" y="144.55" width="7.80" height="7.80" fill="#c8c8c8" />
<line x1="560.40" y1="148.45" x2="570.83" y2="148.45" stroke="#333" stroke-width="0.75" />
<circle cx="565.54" cy="148.45" r="0.55" fill="#222"/>
<text transform="translate(365.60,161.60) scale(0.93,1)" font-size="8.51" text-anchor="start" >Pack-years</text>
<text transform="translate(577.20,161.60) scale(0.93,1)" font-size="8.51" text-anchor="start" >1.01</text>
<text transform="translate(597.50,161.60) scale(0.93,1)" font-size="8.51" text-anchor="start" >(1.01; 1.01)</text>
<text transform="translate(642.00,161.60) scale(0.93,1)" font-size="8.51" text-anchor="start" >1.10 × 10<tspan font-size="5.6" dy="-3.3">−46</tspan></text>
<rect x="507.85" y="154.60" width="7.80" height="7.80" fill="#c8c8c8" />
<line x1="511.75" y1="158.50" x2="511.75" y2="158.50" stroke="#333" stroke-width="0.75" />
<circle cx="511.75" cy="158.50" r="0.55" fill="#222"/>
<text transform="translate(365.60,215.50) scale(0.93,1)" font-size="8.51" text-anchor="start" >Variable</text>
<text transform="translate(505.80,215.50) scale(0.93,1)" font-size="8.51" text-anchor="start" >HR</text>
<text transform="translate(581.80,215.50) scale(0.93,1)" font-size="8.51" text-anchor="start" >HR</text>
<text transform="translate(609.50,215.50) scale(0.93,1)" font-size="8.51" text-anchor="start" >95% CI</text>
<text transform="translate(642.00,215.50) scale(0.93,1)" font-size="8.51" text-anchor="start" ><tspan font-style="italic">P</tspan> value</text>
<line x1="510.90" y1="227.70" x2="510.90" y2="450.60" stroke="#c4c4c4" stroke-width="1.3" />
<line x1="451.40" y1="450.60" x2="570.40" y2="450.60" stroke="#555" stroke-width="0.8" />
<line x1="451.40" y1="450.60" x2="451.40" y2="454.20" stroke="#555" stroke-width="0.7" />
<line x1="510.90" y1="450.60" x2="510.90" y2="454.20" stroke="#555" stroke-width="0.7" />
<line x1="570.40" y1="450.60" x2="570.40" y2="454.20" stroke="#555" stroke-width="0.7" />
<text transform="translate(451.40,464.00) scale(0.93,1)" font-size="8.51" text-anchor="middle" >0.5</text>
<text transform="translate(510.90,464.00) scale(0.93,1)" font-size="8.51" text-anchor="middle" >1</text>
<text transform="translate(570.40,464.00) scale(0.93,1)" font-size="8.51" text-anchor="middle" >2</text>
<text transform="translate(365.60,236.20) scale(0.93,1)" font-size="8.51" text-anchor="start" >Thymic health low</text>
<text transform="translate(577.20,236.20) scale(0.93,1)" font-size="8.51" text-anchor="start" >Reference</text>
<rect x="507.00" y="229.20" width="7.80" height="7.80" fill="#c8c8c8" />
<circle cx="510.90" cy="233.10" r="0.55" fill="#222"/>
<text transform="translate(365.60,246.31) scale(0.93,1)" font-size="8.51" text-anchor="start" >Thymic health average</text>
<text transform="translate(577.20,246.31) scale(0.93,1)" font-size="8.51" text-anchor="start" >0.83</text>
<text transform="translate(597.50,246.31) scale(0.93,1)" font-size="8.51" text-anchor="start" >(0.78; 0.89)</text>
<rect x="491.01" y="239.31" width="7.80" height="7.80" fill="#c8c8c8" />
<line x1="489.57" y1="243.21" x2="500.90" y2="243.21" stroke="#333" stroke-width="0.75" />
<circle cx="494.91" cy="243.21" r="0.55" fill="#222"/>
<text transform="translate(365.60,256.42) scale(0.93,1)" font-size="8.51" text-anchor="start" >Thymic health high</text>
<text transform="translate(577.20,256.42) scale(0.93,1)" font-size="8.51" text-anchor="start" >0.77</text>
<text transform="translate(597.50,256.42) scale(0.93,1)" font-size="8.51" text-anchor="start" >(0.70; 0.84)</text>
<text transform="translate(642.00,256.42) scale(0.93,1)" font-size="8.51" text-anchor="start" >1.47 × 10<tspan font-size="5.6" dy="-3.3">−09</tspan></text>
<rect x="484.56" y="249.42" width="7.80" height="7.80" fill="#c8c8c8" />
<line x1="480.28" y1="253.32" x2="495.93" y2="253.32" stroke="#333" stroke-width="0.75" />
<circle cx="488.46" cy="253.32" r="0.55" fill="#222"/>
<text transform="translate(365.60,266.53) scale(0.93,1)" font-size="8.51" text-anchor="start" >BMI</text>
<text transform="translate(577.20,266.53) scale(0.93,1)" font-size="8.51" text-anchor="start" >0.99</text>
<text transform="translate(597.50,266.53) scale(0.93,1)" font-size="8.51" text-anchor="start" >(0.98; 1.00)</text>
<text transform="translate(642.00,266.53) scale(0.93,1)" font-size="8.51" text-anchor="start" >0.0103</text>
<rect x="506.14" y="259.53" width="7.80" height="7.80" fill="#c8c8c8" />
<line x1="509.17" y1="263.43" x2="510.90" y2="263.43" stroke="#333" stroke-width="0.75" />
<circle cx="510.04" cy="263.43" r="0.55" fill="#222"/>
<text transform="translate(365.60,276.64) scale(0.93,1)" font-size="8.51" text-anchor="start" >Current smoker</text>
<text transform="translate(577.20,276.64) scale(0.93,1)" font-size="8.51" text-anchor="start" >1.89</text>
<text transform="translate(597.50,276.64) scale(0.93,1)" font-size="8.51" text-anchor="start" >(1.78; 2.01)</text>
<text transform="translate(642.00,276.64) scale(0.93,1)" font-size="8.51" text-anchor="start" >1.25 × 10<tspan font-size="5.6" dy="-3.3">−90</tspan></text>
<rect x="561.64" y="269.64" width="7.80" height="7.80" fill="#c8c8c8" />
<line x1="560.40" y1="273.54" x2="570.83" y2="273.54" stroke="#333" stroke-width="0.75" />
<circle cx="565.54" cy="273.54" r="0.55" fill="#222"/>
<text transform="translate(365.60,286.75) scale(0.93,1)" font-size="8.51" text-anchor="start" >Pack-years</text>
<text transform="translate(577.20,286.75) scale(0.93,1)" font-size="8.51" text-anchor="start" >1.01</text>
<text transform="translate(597.50,286.75) scale(0.93,1)" font-size="8.51" text-anchor="start" >(1.01; 1.01)</text>
<text transform="translate(642.00,286.75) scale(0.93,1)" font-size="8.51" text-anchor="start" >5.15 × 10<tspan font-size="5.6" dy="-3.3">−34</tspan></text>
<rect x="507.85" y="279.75" width="7.80" height="7.80" fill="#c8c8c8" />
<line x1="511.75" y1="283.65" x2="511.75" y2="283.65" stroke="#333" stroke-width="0.75" />
<circle cx="511.75" cy="283.65" r="0.55" fill="#222"/>
<text transform="translate(365.60,296.86) scale(0.93,1)" font-size="8.51" text-anchor="start" >Diabetes</text>
<text transform="translate(577.20,296.86) scale(0.93,1)" font-size="8.51" text-anchor="start" >1.67</text>
<text transform="translate(597.50,296.86) scale(0.93,1)" font-size="8.51" text-anchor="start" >(1.53; 1.82)</text>
<text transform="translate(642.00,296.86) scale(0.93,1)" font-size="8.51" text-anchor="start" >9.19 × 10<tspan font-size="5.6" dy="-3.3">−33</tspan></text>
<rect x="551.02" y="289.86" width="7.80" height="7.80" fill="#c8c8c8" />
<line x1="547.41" y1="293.76" x2="562.30" y2="293.76" stroke="#333" stroke-width="0.75" />
<circle cx="554.92" cy="293.76" r="0.55" fill="#222"/>
<text transform="translate(365.60,306.97) scale(0.93,1)" font-size="8.51" text-anchor="start" >Hypertension</text>
<text transform="translate(577.20,306.97) scale(0.93,1)" font-size="8.51" text-anchor="start" >1.22</text>
<text transform="translate(597.50,306.97) scale(0.93,1)" font-size="8.51" text-anchor="start" >(1.14; 1.30)</text>
<text transform="translate(642.00,306.97) scale(0.93,1)" font-size="8.51" text-anchor="start" >5.39 × 10<tspan font-size="5.6" dy="-3.3">−10</tspan></text>
<rect x="524.07" y="299.97" width="7.80" height="7.80" fill="#c8c8c8" />
<line x1="522.15" y1="303.87" x2="533.42" y2="303.87" stroke="#333" stroke-width="0.75" />
<circle cx="527.97" cy="303.87" r="0.55" fill="#222"/>
<text transform="translate(365.60,317.08) scale(0.93,1)" font-size="8.51" text-anchor="start" >Adult asthma</text>
<text transform="translate(577.20,317.08) scale(0.93,1)" font-size="8.51" text-anchor="start" >1.11</text>
<text transform="translate(597.50,317.08) scale(0.93,1)" font-size="8.51" text-anchor="start" >(0.99; 1.26)</text>
<text transform="translate(642.00,317.08) scale(0.93,1)" font-size="8.51" text-anchor="start" >0.0835</text>
<rect x="515.96" y="310.08" width="7.80" height="7.80" fill="#c8c8c8" />
<line x1="510.04" y1="313.98" x2="530.74" y2="313.98" stroke="#333" stroke-width="0.75" />
<circle cx="519.86" cy="313.98" r="0.55" fill="#222"/>
<text transform="translate(365.60,327.19) scale(0.93,1)" font-size="8.51" text-anchor="start" >Asbestosis</text>
<text transform="translate(577.20,327.19) scale(0.93,1)" font-size="8.51" text-anchor="start" >1.19</text>
<text transform="translate(597.50,327.19) scale(0.93,1)" font-size="8.51" text-anchor="start" >(0.94; 1.50)</text>
<text transform="translate(642.00,327.19) scale(0.93,1)" font-size="8.51" text-anchor="start" >0.1469</text>
<rect x="521.93" y="320.19" width="7.80" height="7.80" fill="#c8c8c8" />
<line x1="505.59" y1="324.09" x2="545.71" y2="324.09" stroke="#a8a8a8" stroke-width="0.75" />
<circle cx="525.83" cy="324.09" r="0.55" fill="#222"/>
<text transform="translate(365.60,337.30) scale(0.93,1)" font-size="8.51" text-anchor="start" >Bronchiectasis</text>
<text transform="translate(577.20,337.30) scale(0.93,1)" font-size="8.51" text-anchor="start" >1.21</text>
<text transform="translate(597.50,337.30) scale(0.93,1)" font-size="8.51" text-anchor="start" >(1.04; 1.40)</text>
<text transform="translate(642.00,337.30) scale(0.93,1)" font-size="8.51" text-anchor="start" >0.0121</text>
<rect x="523.36" y="330.30" width="7.80" height="7.80" fill="#c8c8c8" />
<line x1="514.27" y1="334.20" x2="539.78" y2="334.20" stroke="#a8a8a8" stroke-width="0.75" />
<circle cx="527.26" cy="334.20" r="0.55" fill="#222"/>
<text transform="translate(365.60,347.41) scale(0.93,1)" font-size="8.51" text-anchor="start" >Childhood asthma</text>
<text transform="translate(577.20,347.41) scale(0.93,1)" font-size="8.51" text-anchor="start" >1.07</text>
<text transform="translate(597.50,347.41) scale(0.93,1)" font-size="8.51" text-anchor="start" >(0.91; 1.26)</text>
<text transform="translate(642.00,347.41) scale(0.93,1)" font-size="8.51" text-anchor="start" >0.4041</text>
<rect x="512.81" y="340.41" width="7.80" height="7.80" fill="#c8c8c8" />
<line x1="502.80" y1="344.31" x2="530.74" y2="344.31" stroke="#666" stroke-width="0.75" />
<circle cx="516.71" cy="344.31" r="0.55" fill="#222"/>
<text transform="translate(365.60,357.52) scale(0.93,1)" font-size="8.51" text-anchor="start" >Chronic bronchitis</text>
<text transform="translate(577.20,357.52) scale(0.93,1)" font-size="8.51" text-anchor="start" >0.97</text>
<text transform="translate(597.50,357.52) scale(0.93,1)" font-size="8.51" text-anchor="start" >(0.88; 1.07)</text>
<text transform="translate(642.00,357.52) scale(0.93,1)" font-size="8.51" text-anchor="start" >0.5626</text>
<rect x="504.39" y="350.52" width="7.80" height="7.80" fill="#c8c8c8" />
<line x1="499.93" y1="354.42" x2="516.71" y2="354.42" stroke="#333" stroke-width="0.75" />
<circle cx="508.29" cy="354.42" r="0.55" fill="#222"/>
<text transform="translate(365.60,367.63) scale(0.93,1)" font-size="8.51" text-anchor="start" >COPD</text>
<text transform="translate(577.20,367.63) scale(0.93,1)" font-size="8.51" text-anchor="start" >1.45</text>
<text transform="translate(597.50,367.63) scale(0.93,1)" font-size="8.51" text-anchor="start" >(1.30; 1.63)</text>
<text transform="translate(642.00,367.63) scale(0.93,1)" font-size="8.51" text-anchor="start" >1.10 × 10<tspan font-size="5.6" dy="-3.3">−10</tspan></text>
<rect x="538.90" y="360.63" width="7.80" height="7.80" fill="#c8c8c8" />
<line x1="533.42" y1="364.53" x2="552.84" y2="364.53" stroke="#333" stroke-width="0.75" />
<circle cx="542.80" cy="364.53" r="0.55" fill="#222"/>
<text transform="translate(365.60,377.74) scale(0.93,1)" font-size="8.51" text-anchor="start" >Emphysema</text>
<text transform="translate(577.20,377.74) scale(0.93,1)" font-size="8.51" text-anchor="start" >1.64</text>
<text transform="translate(597.50,377.74) scale(0.93,1)" font-size="8.51" text-anchor="start" >(1.49; 1.79)</text>
<text transform="translate(642.00,377.74) scale(0.93,1)" font-size="8.51" text-anchor="start" >5.33 × 10<tspan font-size="5.6" dy="-3.3">−26</tspan></text>
<rect x="549.46" y="370.74" width="7.80" height="7.80" fill="#c8c8c8" />
<line x1="545.13" y1="374.64" x2="560.88" y2="374.64" stroke="#333" stroke-width="0.75" />
<circle cx="553.36" cy="374.64" r="0.55" fill="#222"/>
<text transform="translate(365.60,387.85) scale(0.93,1)" font-size="8.51" text-anchor="start" >Fibrosis of the lung</text>
<text transform="translate(577.20,387.85) scale(0.93,1)" font-size="8.51" text-anchor="start" >1.34</text>
<text transform="translate(597.50,387.85) scale(0.93,1)" font-size="8.51" text-anchor="start" >(0.84; 2.13)</text>
<text transform="translate(642.00,387.85) scale(0.93,1)" font-size="8.51" text-anchor="start" >0.2190</text>
<rect x="532.12" y="380.85" width="7.80" height="7.80" fill="#c8c8c8" />
<line x1="495.93" y1="384.75" x2="571.00" y2="384.75" stroke="#333" stroke-width="0.75" />
<polygon points="571.30,384.75 569.40,383.85 569.40,385.65" fill="#222"/>
<circle cx="536.02" cy="384.75" r="0.55" fill="#222"/>
<text transform="translate(365.60,397.96) scale(0.93,1)" font-size="8.51" text-anchor="start" >Heart disease</text>
<text transform="translate(577.20,397.96) scale(0.93,1)" font-size="8.51" text-anchor="start" >1.39</text>
<text transform="translate(597.50,397.96) scale(0.93,1)" font-size="8.51" text-anchor="start" >(1.29; 1.50)</text>
<text transform="translate(642.00,397.96) scale(0.93,1)" font-size="8.51" text-anchor="start" >1.62 × 10<tspan font-size="5.6" dy="-3.3">−17</tspan></text>
<rect x="535.27" y="390.96" width="7.80" height="7.80" fill="#c8c8c8" />
<line x1="532.76" y1="394.86" x2="545.71" y2="394.86" stroke="#333" stroke-width="0.75" />
<circle cx="539.17" cy="394.86" r="0.55" fill="#222"/>
<text transform="translate(365.60,408.07) scale(0.93,1)" font-size="8.51" text-anchor="start" >Pneumonia</text>
<text transform="translate(577.20,408.07) scale(0.93,1)" font-size="8.51" text-anchor="start" >1.13</text>
<text transform="translate(597.50,408.07) scale(0.93,1)" font-size="8.51" text-anchor="start" >(1.05; 1.21)</text>
<text transform="translate(642.00,408.07) scale(0.93,1)" font-size="8.51" text-anchor="start" >0.0007</text>
<rect x="517.49" y="401.07" width="7.80" height="7.80" fill="#c8c8c8" />
<line x1="515.09" y1="404.97" x2="527.26" y2="404.97" stroke="#333" stroke-width="0.75" />
<circle cx="521.39" cy="404.97" r="0.55" fill="#222"/>
<text transform="translate(365.60,418.18) scale(0.93,1)" font-size="8.51" text-anchor="start" >Sarcoidosis</text>
<text transform="translate(577.20,418.18) scale(0.93,1)" font-size="8.51" text-anchor="start" >0.84</text>
<text transform="translate(597.50,418.18) scale(0.93,1)" font-size="8.51" text-anchor="start" >(0.37; 1.88)</text>
<text transform="translate(642.00,418.18) scale(0.93,1)" font-size="8.51" text-anchor="start" >0.6726</text>
<rect x="492.03" y="411.18" width="7.80" height="7.80" fill="#c8c8c8" />
<line x1="451.40" y1="415.08" x2="565.09" y2="415.08" stroke="#a8a8a8" stroke-width="0.75" />
<polygon points="451.10,415.08 453.00,414.18 453.00,415.98" fill="#222"/>
<circle cx="495.93" cy="415.08" r="0.55" fill="#222"/>
<text transform="translate(365.60,428.29) scale(0.93,1)" font-size="8.51" text-anchor="start" >Silicosis</text>
<text transform="translate(577.20,428.29) scale(0.93,1)" font-size="8.51" text-anchor="start" >1.03</text>
<text transform="translate(597.50,428.29) scale(0.93,1)" font-size="8.51" text-anchor="start" >(0.48; 2.21)</text>
<text transform="translate(642.00,428.29) scale(0.93,1)" font-size="8.51" text-anchor="start" >0.9403</text>
<rect x="509.54" y="421.29" width="7.80" height="7.80" fill="#c8c8c8" />
<line x1="451.40" y1="425.19" x2="571.00" y2="425.19" stroke="#555" stroke-width="0.75" />
<polygon points="451.10,425.19 453.00,424.29 453.00,426.09" fill="#222"/>
<polygon points="571.30,425.19 569.40,424.29 569.40,426.09" fill="#222"/>
<circle cx="513.44" cy="425.19" r="0.55" fill="#222"/>
<text transform="translate(365.60,438.40) scale(0.93,1)" font-size="8.51" text-anchor="start" >Stroke</text>
<text transform="translate(577.20,438.40) scale(0.93,1)" font-size="8.51" text-anchor="start" >1.42</text>
<text transform="translate(597.50,438.40) scale(0.93,1)" font-size="8.51" text-anchor="start" >(1.24; 1.63)</text>
<text transform="translate(642.00,438.40) scale(0.93,1)" font-size="8.51" text-anchor="start" >3.10 × 10<tspan font-size="5.6" dy="-3.3">−7</tspan></text>
<rect x="537.10" y="431.40" width="7.80" height="7.80" fill="#c8c8c8" />
<line x1="529.37" y1="435.30" x2="552.84" y2="435.30" stroke="#333" stroke-width="0.75" />
<circle cx="541.00" cy="435.30" r="0.55" fill="#222"/>
<text transform="translate(365.60,448.51) scale(0.93,1)" font-size="8.51" text-anchor="start" >Tuberculosis</text>
<text transform="translate(577.20,448.51) scale(0.93,1)" font-size="8.51" text-anchor="start" >1.12</text>
<text transform="translate(597.50,448.51) scale(0.93,1)" font-size="8.51" text-anchor="start" >(0.85; 1.47)</text>
<text transform="translate(642.00,448.51) scale(0.93,1)" font-size="8.51" text-anchor="start" >0.4222</text>
<rect x="516.73" y="441.51" width="7.80" height="7.80" fill="#c8c8c8" />
<line x1="496.95" y1="445.41" x2="543.97" y2="445.41" stroke="#666" stroke-width="0.75" />
<circle cx="520.63" cy="445.41" r="0.55" fill="#222"/>
<text transform="translate(365.60,526.90) scale(0.93,1)" font-size="8.51" text-anchor="start" >Variable</text>
<text transform="translate(505.80,526.90) scale(0.93,1)" font-size="8.51" text-anchor="start" >HR</text>
<text transform="translate(581.80,526.90) scale(0.93,1)" font-size="8.51" text-anchor="start" >HR</text>
<text transform="translate(609.50,526.90) scale(0.93,1)" font-size="8.51" text-anchor="start" >95% CI</text>
<text transform="translate(642.40,526.90) scale(0.93,1)" font-size="8.51" text-anchor="start" ><tspan font-style="italic">P</tspan> value</text>
<line x1="510.90" y1="539.00" x2="510.90" y2="599.80" stroke="#c4c4c4" stroke-width="1.3" />
<line x1="451.40" y1="599.80" x2="570.40" y2="599.80" stroke="#555" stroke-width="0.8" />
<line x1="451.40" y1="599.80" x2="451.40" y2="603.40" stroke="#555" stroke-width="0.7" />
<line x1="510.90" y1="599.80" x2="510.90" y2="603.40" stroke="#555" stroke-width="0.7" />
<line x1="570.40" y1="599.80" x2="570.40" y2="603.40" stroke="#555" stroke-width="0.7" />
<text transform="translate(451.40,613.20) scale(0.93,1)" font-size="8.51" text-anchor="middle" >0.5</text>
<text transform="translate(510.90,613.20) scale(0.93,1)" font-size="8.51" text-anchor="middle" >1</text>
<text transform="translate(570.40,613.20) scale(0.93,1)" font-size="8.51" text-anchor="middle" >2</text>
<text transform="translate(365.60,547.50) scale(0.93,1)" font-size="8.51" text-anchor="start" >Thymic health low</text>
<text transform="translate(577.20,547.50) scale(0.93,1)" font-size="8.51" text-anchor="start" >Reference</text>
<rect x="507.00" y="540.50" width="7.80" height="7.80" fill="#c8c8c8" />
<circle cx="510.90" cy="544.40" r="0.55" fill="#222"/>
<text transform="translate(365.60,557.50) scale(0.93,1)" font-size="8.51" text-anchor="start" >Thymic health average</text>
<text transform="translate(577.20,557.50) scale(0.93,1)" font-size="8.51" text-anchor="start" >0.77</text>
<text transform="translate(597.50,557.50) scale(0.93,1)" font-size="8.51" text-anchor="start" >(0.71; 0.84)</text>
<rect x="484.56" y="550.50" width="7.80" height="7.80" fill="#c8c8c8" />
<line x1="481.50" y1="554.40" x2="495.93" y2="554.40" stroke="#333" stroke-width="0.75" />
<circle cx="488.46" cy="554.40" r="0.55" fill="#222"/>
<text transform="translate(365.60,567.50) scale(0.93,1)" font-size="8.51" text-anchor="start" >Thymic health high</text>
<text transform="translate(577.20,567.50) scale(0.93,1)" font-size="8.51" text-anchor="start" >0.71</text>
<text transform="translate(597.50,567.50) scale(0.93,1)" font-size="8.51" text-anchor="start" >(0.64; 0.80)</text>
<text transform="translate(642.00,567.50) scale(0.93,1)" font-size="8.51" text-anchor="start" >2.19 × 10<tspan font-size="5.6" dy="-3.3">−11</tspan></text>
<rect x="477.60" y="560.50" width="7.80" height="7.80" fill="#c8c8c8" />
<line x1="472.59" y1="564.40" x2="491.75" y2="564.40" stroke="#333" stroke-width="0.75" />
<circle cx="481.50" cy="564.40" r="0.55" fill="#222"/>
<text transform="translate(365.60,577.50) scale(0.93,1)" font-size="8.51" text-anchor="start" >BMI</text>
<text transform="translate(577.20,577.50) scale(0.93,1)" font-size="8.51" text-anchor="start" >0.99</text>
<text transform="translate(597.50,577.50) scale(0.93,1)" font-size="8.51" text-anchor="start" >(0.99; 1.00)</text>
<text transform="translate(642.00,577.50) scale(0.93,1)" font-size="8.51" text-anchor="start" >0.2179</text>
<rect x="506.14" y="570.50" width="7.80" height="7.80" fill="#c8c8c8" />
<line x1="510.04" y1="574.40" x2="510.90" y2="574.40" stroke="#333" stroke-width="0.75" />
<circle cx="510.04" cy="574.40" r="0.55" fill="#222"/>
<text transform="translate(365.60,587.50) scale(0.93,1)" font-size="8.51" text-anchor="start" >Current smoker</text>
<text transform="translate(577.20,587.50) scale(0.93,1)" font-size="8.51" text-anchor="start" >1.93</text>
<text transform="translate(597.50,587.50) scale(0.93,1)" font-size="8.51" text-anchor="start" >(1.79; 2.08)</text>
<text transform="translate(642.00,587.50) scale(0.93,1)" font-size="8.51" text-anchor="start" >2.19 × 10<tspan font-size="5.6" dy="-3.3">−65</tspan></text>
<rect x="563.44" y="580.50" width="7.80" height="7.80" fill="#c8c8c8" />
<line x1="560.88" y1="584.40" x2="571.00" y2="584.40" stroke="#333" stroke-width="0.75" />
<polygon points="571.30,584.40 569.40,583.50 569.40,585.30" fill="#222"/>
<circle cx="567.34" cy="584.40" r="0.55" fill="#222"/>
<text transform="translate(365.60,597.50) scale(0.93,1)" font-size="8.51" text-anchor="start" >Pack-years</text>
<text transform="translate(577.20,597.50) scale(0.93,1)" font-size="8.51" text-anchor="start" >1.01</text>
<text transform="translate(597.50,597.50) scale(0.93,1)" font-size="8.51" text-anchor="start" >(1.01; 1.01)</text>
<text transform="translate(642.00,597.50) scale(0.93,1)" font-size="8.51" text-anchor="start" >2.37 × 10<tspan font-size="5.6" dy="-3.3">−37</tspan></text>
<rect x="507.85" y="590.50" width="7.80" height="7.80" fill="#c8c8c8" />
<line x1="511.75" y1="594.40" x2="511.75" y2="594.40" stroke="#333" stroke-width="0.75" />
<circle cx="511.75" cy="594.40" r="0.55" fill="#222"/>
</svg>
</body></html>
